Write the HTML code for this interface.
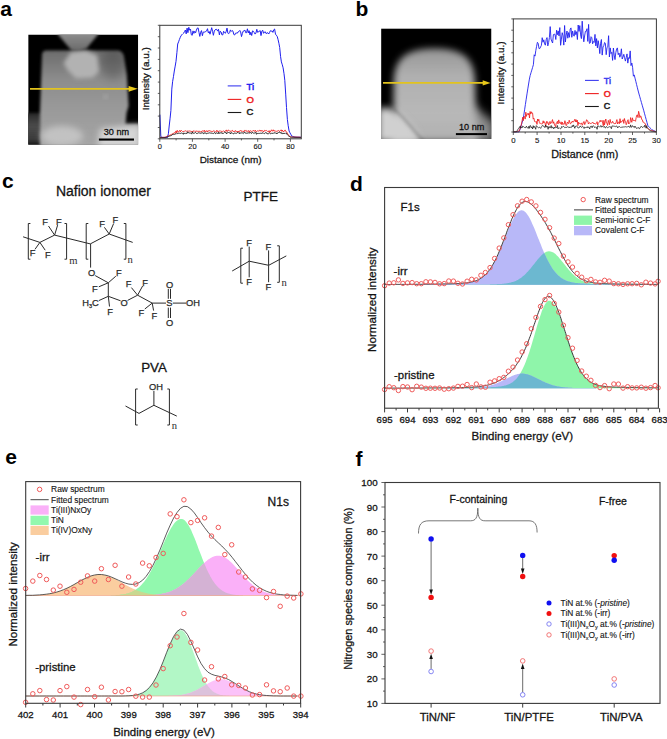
<!DOCTYPE html>
<html><head><meta charset="utf-8"><style>
html,body{margin:0;padding:0;background:#fff;}
body{width:667px;height:739px;overflow:hidden;}
svg{display:block;}
svg text{font-family:"Liberation Sans",sans-serif;}
</style></head><body>
<svg width="667" height="739" viewBox="0 0 667 739">
<rect width="667" height="739" fill="#fff"/>
<text x="0.2" y="16.4" font-size="21" font-weight="bold" fill="#000" >a</text>
<text x="355.6" y="16.0" font-size="21" font-weight="bold" fill="#000" >b</text>
<text x="1.9" y="188.0" font-size="21" font-weight="bold" fill="#000" >c</text>
<text x="350.0" y="190.9" font-size="21" font-weight="bold" fill="#000" >d</text>
<text x="5.2" y="464.0" font-size="21" font-weight="bold" fill="#000" >e</text>
<text x="355.5" y="466.0" font-size="21" font-weight="bold" fill="#000" >f</text>
<defs>
<filter id="bl1" x="-20%" y="-20%" width="140%" height="140%"><feGaussianBlur stdDeviation="1.6"/></filter>
<filter id="bl2" x="-30%" y="-30%" width="160%" height="160%"><feGaussianBlur stdDeviation="3"/></filter>
<filter id="bl3" x="-30%" y="-30%" width="160%" height="160%"><feGaussianBlur stdDeviation="5"/></filter>
<filter id="bl15" x="-30%" y="-30%" width="160%" height="160%"><feGaussianBlur stdDeviation="2.2"/></filter>
<filter id="bl25" x="-30%" y="-30%" width="160%" height="160%"><feGaussianBlur stdDeviation="3.6"/></filter>
<clipPath id="cA"><rect x="28.2" y="34.5" width="110" height="110.2"/></clipPath>
<clipPath id="cB"><rect x="381.1" y="28.4" width="110.4" height="110.7"/></clipPath>
<linearGradient id="gA" x1="0" y1="0" x2="0" y2="1">
 <stop offset="0" stop-color="#6c6c6c"/><stop offset="0.3" stop-color="#8c8c8c"/><stop offset="0.6" stop-color="#999"/><stop offset="1" stop-color="#a6a6a6"/></linearGradient>
<linearGradient id="gAl" x1="0" y1="0" x2="0" y2="1">
 <stop offset="0" stop-color="#2a2a2a"/><stop offset="0.4" stop-color="#4a4a4a"/><stop offset="0.8" stop-color="#3a3a3a"/><stop offset="1" stop-color="#111"/></linearGradient>
<linearGradient id="gAt" x1="0" y1="0" x2="0" y2="1">
 <stop offset="0" stop-color="#959595"/><stop offset="1" stop-color="#6a6a6a"/></linearGradient>
<linearGradient id="gB" x1="0" y1="0" x2="0" y2="1">
 <stop offset="0" stop-color="#959595"/><stop offset="0.3" stop-color="#b0b0b0"/><stop offset="0.7" stop-color="#b8b8b8"/><stop offset="1" stop-color="#b0b0b0"/></linearGradient>
</defs>
<g clip-path="url(#cA)">
<rect x="28.2" y="34.5" width="110" height="110.2" fill="#000"/>
<polygon points="26,113 42,113 42,146 26,146" fill="url(#gAl)" filter="url(#bl1)"/>
<path d="M42,55 Q42,50.5 46.5,50.5 L118,50.5 Q122.5,51 123.8,56 L126.8,75 L128.6,106 L126.5,113 L125.5,124 L140,124 L140,147 L40,147 L40,113 Z" fill="url(#gA)" filter="url(#bl1)"/>
<ellipse cx="113" cy="64" rx="12" ry="16" fill="#000" opacity="0.18" filter="url(#bl3)"/>
<polygon points="56,30 100,30 98,34.5 86.5,48.5 79,50.5 71.5,50.5 58,34.5" fill="url(#gAt)" filter="url(#bl1)"/>
<polygon points="63.5,62.9 70.9,52.2 85.8,50.5 97.3,55.5 99,72 92.4,77.7 75.9,78.6 67.6,70.3" fill="#b2b2b2" filter="url(#bl15)"/>
<ellipse cx="62" cy="136" rx="21" ry="10" fill="#c2c2c2" filter="url(#bl2)"/>
<polygon points="100,129 126,126 140,125 140,147 98,147" fill="#d6d6d6" filter="url(#bl2)"/>
<circle cx="105.6" cy="96.7" r="1.8" fill="#b2b2b2" filter="url(#bl15)"/>
</g>
<rect x="98.9" y="138.5" width="35.1" height="2.1" fill="#000"/>
<text x="103.8" y="135.1" font-size="9.1" fill="#111" stroke="#111" stroke-width="0.28" >30 nm</text>
<line x1="30" y1="88.8" x2="129.5" y2="88.8" stroke="#e2c31e" stroke-width="1.8"/>
<polygon points="128.6,85.9 137.8,88.8 128.6,91.7" fill="#e8c81a"/>
<g clip-path="url(#cB)">
<rect x="381.1" y="28.4" width="110.4" height="110.7" fill="#000"/>
<polygon points="472,104 486,116 494,122 494,142 458,142" fill="#8c8c8c" filter="url(#bl3)"/>
<path d="M393.8,84 C393.8,58 406,48.4 434.5,48.4 C463,48.4 475,58 475,84 L475.5,110 L479,142 L391,142 L393.5,110 Z" fill="url(#gB)" filter="url(#bl25)"/>
<polygon points="378,108 390,108 402,117 414,129 421,142 378,142" fill="#d0d0d0" filter="url(#bl25)"/>
<path d="M394,109 Q404,118 412,128 T424,141" fill="none" stroke="#000" stroke-opacity="0.18" stroke-width="3" filter="url(#bl1)"/>
</g>
<rect x="455.9" y="133.1" width="31.1" height="2.0" fill="#000"/>
<text x="459.0" y="129.6" font-size="9.1" fill="#111" stroke="#111" stroke-width="0.28" >10 nm</text>
<line x1="383" y1="82.9" x2="483.5" y2="82.9" stroke="#e2c31e" stroke-width="1.8"/>
<polygon points="482.7,80.2 490.6,82.9 482.7,85.6" fill="#e8c81a"/>
<polyline points="159.9,114.6 160.8,136.1 161.6,137.4 162.4,137.4 163.3,137.4 164.1,137.4 165.0,137.4 165.8,137.4 166.7,137.4 167.5,137.4 168.4,133.7 169.2,126.0 170.1,118.2 170.9,110.5 171.8,89.1 172.6,81.7 173.5,76.3 174.3,71.0 175.2,66.1 176.0,61.3 176.9,52.7 177.7,44.0 178.6,41.8 179.4,39.5 180.3,37.3 181.1,35.5 182.0,34.7 182.8,33.9 183.7,33.1 184.5,31.5 185.4,30.0 186.2,33.9 187.1,28.1 187.9,32.7 188.8,27.3 189.6,30.2 190.5,29.1 191.3,34.7 192.2,35.3 193.0,30.9 193.9,33.4 194.7,31.3 195.6,32.8 196.4,30.1 197.3,28.1 198.1,27.9 199.0,32.5 199.8,36.4 200.7,32.2 201.5,30.6 202.4,35.7 203.2,32.2 204.1,31.9 204.9,32.2 205.8,31.4 206.6,31.0 207.5,28.7 208.3,32.8 209.2,31.5 210.0,34.2 210.9,30.9 211.7,27.7 212.6,31.5 213.4,35.3 214.3,30.9 215.1,29.9 216.0,29.2 216.8,29.5 217.7,31.1 218.5,29.3 219.4,34.9 220.2,31.2 221.1,32.0 221.9,34.8 222.8,34.9 223.6,31.3 224.5,32.5 225.3,33.3 226.2,31.4 227.0,28.1 227.9,33.2 228.7,33.7 229.6,32.7 230.4,29.9 231.3,31.4 232.1,30.6 233.0,31.2 233.8,34.5 234.7,35.0 235.5,33.2 236.4,33.0 237.2,33.3 238.1,31.8 238.9,31.7 239.8,30.4 240.6,31.7 241.5,36.6 242.3,33.7 243.2,31.1 244.0,30.9 244.9,30.1 245.7,32.7 246.6,32.7 247.4,28.8 248.3,32.9 249.1,30.7 250.0,34.9 250.8,32.2 251.7,35.5 252.5,30.9 253.4,31.3 254.2,32.5 255.1,34.1 255.9,33.1 256.8,29.3 257.6,32.3 258.5,32.0 259.3,31.0 260.2,30.6 261.0,35.6 261.9,31.1 262.7,30.2 263.6,33.3 264.4,32.2 265.3,31.8 266.1,33.6 267.0,33.0 267.8,32.7 268.7,34.0 269.5,32.6 270.4,30.7 271.2,31.2 272.1,30.9 272.9,32.4 273.8,29.7 274.6,29.0 275.5,34.2 276.3,35.2 277.2,36.4 278.0,39.3 278.9,43.3 279.7,47.5 280.6,56.7 281.4,61.9 282.3,64.8 283.1,67.8 284.0,73.7 284.8,80.3 285.7,94.1 286.5,107.6 287.4,119.6 288.2,125.7 289.1,131.0 289.9,132.7 290.8,134.3 291.6,135.9 292.5,136.3 293.3,136.6 294.2,136.9 295.0,137.2 295.9,137.2 296.7,137.2 297.6,137.2 298.4,137.2 299.3,137.2 300.1,137.2 301.0,137.2" fill="none" stroke="#2020ee" stroke-width="1.0" stroke-linejoin="round" />
<polyline points="159.9,137.4 160.5,137.4 161.1,137.4 161.7,137.4 162.3,137.4 162.9,137.4 163.5,137.4 164.1,137.4 164.7,137.3 165.3,137.1 165.9,136.8 166.5,136.6 167.1,136.4 167.7,136.1 168.3,135.9 168.9,135.6 169.5,135.4 170.1,135.1 170.7,134.8 171.3,134.5 171.9,134.2 172.5,133.8 173.1,134.2 173.7,133.4 174.3,132.6 174.9,133.2 175.5,131.9 176.1,130.9 176.7,132.9 177.3,130.4 177.9,131.6 178.5,131.8 179.1,131.4 179.7,130.4 180.3,131.9 180.9,130.5 181.5,130.5 182.1,131.1 182.7,131.7 183.3,131.4 183.9,131.7 184.5,131.0 185.1,131.2 185.7,130.7 186.3,131.1 186.9,131.6 187.5,131.1 188.1,131.5 188.7,131.0 189.3,130.9 189.9,131.3 190.5,131.2 191.1,131.6 191.7,131.4 192.3,132.2 192.9,131.1 193.5,131.1 194.1,130.7 194.7,131.3 195.3,131.6 195.9,130.8 196.5,131.2 197.1,131.6 197.7,131.2 198.3,131.0 198.9,131.8 199.5,131.3 200.1,131.5 200.7,131.9 201.3,131.9 201.9,131.0 202.5,130.9 203.1,131.4 203.7,131.2 204.3,130.2 204.9,131.9 205.5,131.2 206.1,131.6 206.7,130.6 207.3,131.9 207.9,130.9 208.5,131.2 209.1,130.4 209.7,131.1 210.3,131.1 210.9,131.1 211.5,131.4 212.1,131.2 212.7,131.7 213.3,130.9 213.9,130.7 214.5,131.2 215.1,131.5 215.7,131.9 216.3,131.6 216.9,130.2 217.5,131.4 218.1,132.0 218.7,131.2 219.3,130.9 219.9,131.4 220.5,130.9 221.1,131.5 221.7,131.2 222.3,131.9 222.9,131.4 223.5,130.8 224.1,131.5 224.7,131.7 225.3,130.9 225.9,130.9 226.5,129.9 227.1,131.7 227.7,130.8 228.3,130.0 228.9,130.2 229.5,131.0 230.1,131.6 230.7,131.1 231.3,131.4 231.9,130.5 232.5,130.4 233.1,131.6 233.7,131.4 234.3,131.1 234.9,131.8 235.5,130.6 236.1,130.9 236.7,131.7 237.3,132.1 237.9,131.1 238.5,132.1 239.1,130.8 239.7,131.3 240.3,131.0 240.9,130.3 241.5,131.3 242.1,131.6 242.7,131.0 243.3,131.1 243.9,131.9 244.5,130.4 245.1,130.3 245.7,130.8 246.3,130.5 246.9,131.8 247.5,131.3 248.1,130.6 248.7,130.8 249.3,132.5 249.9,130.8 250.5,130.7 251.1,131.3 251.7,131.4 252.3,131.2 252.9,130.6 253.5,130.5 254.1,131.4 254.7,131.1 255.3,130.2 255.9,131.7 256.5,131.5 257.1,130.9 257.7,130.9 258.3,131.2 258.9,130.7 259.5,130.3 260.1,131.2 260.7,130.3 261.3,131.3 261.9,130.3 262.5,131.0 263.1,131.0 263.7,132.0 264.3,130.5 264.9,130.3 265.5,130.7 266.1,130.4 266.7,130.7 267.3,131.3 267.9,131.5 268.5,132.0 269.1,130.6 269.7,132.4 270.3,132.1 270.9,130.9 271.5,129.8 272.1,131.0 272.7,131.1 273.3,129.8 273.9,131.1 274.5,130.9 275.1,130.6 275.7,131.4 276.3,131.6 276.9,130.8 277.5,131.1 278.1,130.7 278.7,130.6 279.3,131.1 279.9,131.3 280.5,130.7 281.1,129.8 281.7,131.3 282.3,130.1 282.9,131.1 283.5,132.0 284.1,131.0 284.7,130.3 285.3,130.2 285.9,131.6 286.5,131.8 287.1,132.8 287.7,133.8 288.3,134.6 288.9,135.4 289.5,136.2 290.1,136.9 290.7,136.9 291.3,136.9 291.9,137.0 292.5,137.0 293.1,137.0 293.7,137.0 294.3,137.1 294.9,137.1 295.5,137.1 296.1,137.1 296.7,137.1 297.3,137.2 297.9,137.2 298.5,137.2 299.1,137.2 299.7,137.2 300.3,137.3 300.9,137.3" fill="none" stroke="#ee1c1c" stroke-width="0.9" stroke-linejoin="round" />
<polyline points="159.9,137.6 160.5,137.6 161.1,137.6 161.7,137.6 162.3,137.6 162.9,137.6 163.5,137.6 164.1,137.6 164.7,137.6 165.3,137.6 165.9,137.5 166.5,137.2 167.1,137.0 167.7,136.8 168.3,136.6 168.9,136.4 169.5,136.1 170.1,135.9 170.7,135.7 171.3,135.5 171.9,135.3 172.5,134.5 173.1,134.7 173.7,133.9 174.3,134.5 174.9,133.9 175.5,133.9 176.1,133.5 176.7,134.1 177.3,133.4 177.9,133.5 178.5,133.4 179.1,132.8 179.7,133.5 180.3,133.4 180.9,133.4 181.5,133.0 182.1,133.0 182.7,133.6 183.3,134.3 183.9,132.8 184.5,133.5 185.1,133.0 185.7,133.6 186.3,133.4 186.9,133.7 187.5,131.8 188.1,132.9 188.7,132.7 189.3,133.1 189.9,132.8 190.5,132.9 191.1,133.5 191.7,134.1 192.3,131.8 192.9,133.0 193.5,133.3 194.1,133.2 194.7,133.0 195.3,132.5 195.9,132.7 196.5,133.5 197.1,133.7 197.7,133.2 198.3,132.7 198.9,133.2 199.5,133.0 200.1,133.4 200.7,133.2 201.3,132.8 201.9,133.3 202.5,132.6 203.1,133.6 203.7,133.7 204.3,132.6 204.9,133.4 205.5,132.7 206.1,133.7 206.7,133.6 207.3,133.0 207.9,133.6 208.5,132.9 209.1,132.8 209.7,132.9 210.3,133.1 210.9,133.0 211.5,133.2 212.1,132.8 212.7,133.5 213.3,133.6 213.9,132.9 214.5,132.4 215.1,133.5 215.7,133.7 216.3,133.0 216.9,132.5 217.5,133.3 218.1,133.9 218.7,132.2 219.3,133.4 219.9,133.0 220.5,132.7 221.1,133.4 221.7,132.5 222.3,133.3 222.9,133.8 223.5,133.2 224.1,132.7 224.7,132.2 225.3,132.5 225.9,132.2 226.5,133.9 227.1,133.0 227.7,132.6 228.3,132.5 228.9,132.6 229.5,132.9 230.1,132.5 230.7,133.9 231.3,132.7 231.9,132.7 232.5,133.3 233.1,133.8 233.7,133.8 234.3,132.9 234.9,133.2 235.5,133.2 236.1,133.4 236.7,133.2 237.3,132.6 237.9,132.5 238.5,133.2 239.1,132.5 239.7,133.8 240.3,133.1 240.9,132.6 241.5,132.9 242.1,132.8 242.7,133.0 243.3,133.6 243.9,132.4 244.5,132.1 245.1,133.2 245.7,133.0 246.3,133.2 246.9,133.3 247.5,133.0 248.1,133.5 248.7,132.6 249.3,133.1 249.9,132.7 250.5,132.5 251.1,133.4 251.7,133.3 252.3,132.1 252.9,132.5 253.5,133.2 254.1,133.6 254.7,132.7 255.3,133.0 255.9,132.3 256.5,134.3 257.1,133.3 257.7,133.5 258.3,133.4 258.9,133.5 259.5,133.4 260.1,132.9 260.7,133.4 261.3,133.1 261.9,133.7 262.5,132.7 263.1,132.8 263.7,133.4 264.3,133.7 264.9,133.1 265.5,132.7 266.1,133.0 266.7,132.8 267.3,134.0 267.9,133.5 268.5,133.7 269.1,133.2 269.7,132.8 270.3,133.6 270.9,133.9 271.5,133.3 272.1,133.0 272.7,133.6 273.3,132.8 273.9,133.4 274.5,132.7 275.1,132.5 275.7,133.3 276.3,133.2 276.9,134.0 277.5,132.9 278.1,133.0 278.7,132.4 279.3,132.1 279.9,132.1 280.5,133.2 281.1,132.4 281.7,133.6 282.3,133.7 282.9,132.9 283.5,133.8 284.1,133.1 284.7,133.6 285.3,132.9 285.9,133.5 286.5,133.2 287.1,134.4 287.7,135.1 288.3,135.7 288.9,136.1 289.5,136.5 290.1,136.9 290.7,137.2 291.3,137.2 291.9,137.2 292.5,137.3 293.1,137.3 293.7,137.3 294.3,137.3 294.9,137.3 295.5,137.3 296.1,137.4 296.7,137.4 297.3,137.4 297.9,137.4 298.5,137.4 299.1,137.4 299.7,137.5 300.3,137.5 300.9,137.5" fill="none" stroke="#1a1a1a" stroke-width="0.9" stroke-linejoin="round" />
<rect x="159.8" y="25.3" width="141.5" height="113.5" stroke="#3a3a3a" stroke-width="1" fill="none"/>
<line x1="157.8" y1="25.3" x2="159.8" y2="25.3" stroke="#3a3a3a" stroke-width="0.8"/>
<line x1="157.8" y1="36.7" x2="159.8" y2="36.7" stroke="#3a3a3a" stroke-width="0.8"/>
<line x1="157.8" y1="48.0" x2="159.8" y2="48.0" stroke="#3a3a3a" stroke-width="0.8"/>
<line x1="157.8" y1="59.4" x2="159.8" y2="59.4" stroke="#3a3a3a" stroke-width="0.8"/>
<line x1="157.8" y1="70.7" x2="159.8" y2="70.7" stroke="#3a3a3a" stroke-width="0.8"/>
<line x1="157.8" y1="82.1" x2="159.8" y2="82.1" stroke="#3a3a3a" stroke-width="0.8"/>
<line x1="157.8" y1="93.4" x2="159.8" y2="93.4" stroke="#3a3a3a" stroke-width="0.8"/>
<line x1="157.8" y1="104.8" x2="159.8" y2="104.8" stroke="#3a3a3a" stroke-width="0.8"/>
<line x1="157.8" y1="116.1" x2="159.8" y2="116.1" stroke="#3a3a3a" stroke-width="0.8"/>
<line x1="157.8" y1="127.5" x2="159.8" y2="127.5" stroke="#3a3a3a" stroke-width="0.8"/>
<line x1="157.8" y1="138.8" x2="159.8" y2="138.8" stroke="#3a3a3a" stroke-width="0.8"/>
<line x1="159.8" y1="138.8" x2="159.8" y2="141.8" stroke="#3a3a3a" stroke-width="0.8"/>
<line x1="176.1" y1="138.8" x2="176.1" y2="140.4" stroke="#3a3a3a" stroke-width="0.8"/>
<line x1="192.4" y1="138.8" x2="192.4" y2="141.8" stroke="#3a3a3a" stroke-width="0.8"/>
<line x1="208.8" y1="138.8" x2="208.8" y2="140.4" stroke="#3a3a3a" stroke-width="0.8"/>
<line x1="225.1" y1="138.8" x2="225.1" y2="141.8" stroke="#3a3a3a" stroke-width="0.8"/>
<line x1="241.4" y1="138.8" x2="241.4" y2="140.4" stroke="#3a3a3a" stroke-width="0.8"/>
<line x1="257.7" y1="138.8" x2="257.7" y2="141.8" stroke="#3a3a3a" stroke-width="0.8"/>
<line x1="274.0" y1="138.8" x2="274.0" y2="140.4" stroke="#3a3a3a" stroke-width="0.8"/>
<line x1="290.4" y1="138.8" x2="290.4" y2="141.8" stroke="#3a3a3a" stroke-width="0.8"/>
<text x="159.8" y="149.3" font-size="7.5" text-anchor="middle" fill="#141414" stroke="#141414" stroke-width="0.12" >0</text>
<text x="192.4" y="149.3" font-size="7.5" text-anchor="middle" fill="#141414" stroke="#141414" stroke-width="0.12" >20</text>
<text x="225.1" y="149.3" font-size="7.5" text-anchor="middle" fill="#141414" stroke="#141414" stroke-width="0.12" >40</text>
<text x="257.7" y="149.3" font-size="7.5" text-anchor="middle" fill="#141414" stroke="#141414" stroke-width="0.12" >60</text>
<text x="290.4" y="149.3" font-size="7.5" text-anchor="middle" fill="#141414" stroke="#141414" stroke-width="0.12" >80</text>
<text x="230.6" y="163.3" font-size="9.95" text-anchor="middle" fill="#141414" stroke="#141414" stroke-width="0.28" >Distance (nm)</text>
<text transform="translate(149.0,78.7) rotate(-90)" font-size="9.95" text-anchor="middle" fill="#141414" stroke="#141414" stroke-width="0.28">Intensity (a.u.)</text>
<line x1="227.7" y1="85.9" x2="241.3" y2="85.9" stroke="#3c3cf0" stroke-width="1.1"/>
<text x="246.6" y="90.0" font-size="9.5" fill="#1e1ef0" stroke="#1e1ef0" stroke-width="0.5" >Ti</text>
<line x1="227.7" y1="99.4" x2="241.3" y2="99.4" stroke="#ee2020" stroke-width="1.1"/>
<text x="246.6" y="102.7" font-size="9.5" fill="#ee1c1c" stroke="#ee1c1c" stroke-width="0.5" >O</text>
<line x1="227.7" y1="112.5" x2="241.3" y2="112.5" stroke="#1a1a1a" stroke-width="1.1"/>
<text x="246.6" y="114.7" font-size="9.5" fill="#1a1a1a" stroke="#1a1a1a" stroke-width="0.5" >C</text>
<polyline points="513.4,131.9 514.2,131.9 515.0,131.9 515.8,131.9 516.6,131.9 517.4,131.9 518.2,131.9 519.0,131.9 519.8,130.0 520.6,127.4 521.4,124.9 522.2,122.3 523.0,119.7 523.8,115.1 524.6,109.8 525.4,104.5 526.2,99.2 527.0,93.9 527.8,88.9 528.6,84.0 529.4,79.1 530.2,75.4 531.0,72.7 531.8,70.1 532.6,67.4 533.4,64.7 534.2,54.8 535.0,56.1 535.8,50.5 536.6,46.3 537.4,42.3 538.2,43.4 539.0,48.6 539.8,48.5 540.6,46.9 541.4,45.3 542.2,37.7 543.0,42.2 543.8,39.8 544.6,43.9 545.4,45.2 546.2,39.6 547.0,37.6 547.8,45.9 548.6,42.5 549.4,37.6 550.2,26.6 551.0,39.0 551.8,41.4 552.6,43.0 553.4,34.6 554.2,34.2 555.0,34.5 555.8,39.5 556.6,30.2 557.4,34.7 558.2,30.9 559.0,35.9 559.8,27.6 560.6,45.3 561.4,39.1 562.2,32.7 563.0,35.8 563.8,45.1 564.6,25.5 565.4,42.0 566.2,35.0 567.0,31.0 567.8,38.2 568.6,32.6 569.4,37.3 570.2,29.0 571.0,27.9 571.8,37.3 572.6,31.0 573.4,35.0 574.2,36.2 575.0,30.4 575.8,34.7 576.6,31.7 577.4,39.5 578.2,25.0 579.0,31.4 579.8,25.6 580.6,34.9 581.4,38.6 582.2,21.2 583.0,33.8 583.8,41.8 584.6,36.0 585.4,31.3 586.2,31.4 587.0,28.7 587.8,41.4 588.6,24.4 589.4,43.4 590.2,43.0 591.0,36.7 591.8,37.7 592.6,43.8 593.4,41.5 594.2,42.4 595.0,34.4 595.8,45.9 596.6,38.6 597.4,47.9 598.2,40.7 599.0,45.7 599.8,53.6 600.6,43.2 601.4,39.5 602.2,55.1 603.0,47.0 603.8,45.6 604.6,42.5 605.4,43.3 606.2,54.7 607.0,47.5 607.8,46.8 608.6,35.7 609.4,57.0 610.2,47.9 611.0,53.6 611.8,52.3 612.6,60.4 613.4,48.0 614.2,55.1 615.0,59.6 615.8,52.6 616.6,49.1 617.4,47.9 618.2,54.7 619.0,53.0 619.8,57.2 620.6,55.0 621.4,48.8 622.2,59.0 623.0,57.0 623.8,54.3 624.6,57.7 625.4,61.1 626.2,57.6 627.0,53.9 627.8,63.1 628.6,57.7 629.4,58.4 630.2,50.9 631.0,65.6 631.8,63.0 632.6,67.3 633.4,76.2 634.2,74.9 635.0,78.1 635.8,81.3 636.6,84.6 637.4,87.8 638.2,91.0 639.0,94.0 639.8,96.8 640.6,99.6 641.4,102.4 642.2,105.2 643.0,108.0 643.8,110.8 644.6,113.8 645.4,116.7 646.2,119.6 647.0,122.5 647.8,125.4 648.6,126.5 649.4,127.3 650.2,128.0 651.0,128.8 651.8,129.6 652.6,130.0 653.4,130.4 654.2,130.8 655.0,131.2 655.8,131.6" fill="none" stroke="#2020ee" stroke-width="0.9" stroke-linejoin="round" />
<polyline points="513.4,131.9 514.0,131.8 514.6,131.7 515.3,131.6 515.9,131.6 516.5,131.5 517.1,131.4 517.7,131.3 518.4,131.2 519.0,131.1 519.6,129.9 520.2,128.0 520.8,126.2 521.5,123.9 522.1,120.7 522.7,117.2 523.3,120.6 523.9,116.6 524.6,116.6 525.2,119.1 525.8,112.2 526.4,116.4 527.0,114.2 527.7,113.6 528.3,114.9 528.9,113.2 529.5,118.0 530.1,111.5 530.8,114.0 531.4,111.8 532.0,113.2 532.6,113.2 533.2,119.1 533.9,118.2 534.5,121.2 535.1,122.0 535.7,122.0 536.3,121.4 537.0,124.4 537.6,119.0 538.2,121.0 538.8,119.3 539.4,122.6 540.1,123.7 540.7,123.1 541.3,123.7 541.9,123.9 542.5,123.5 543.2,120.8 543.8,123.1 544.4,121.8 545.0,122.4 545.6,126.3 546.3,123.1 546.9,121.2 547.5,123.3 548.1,122.6 548.7,125.1 549.4,123.5 550.0,121.4 550.6,123.7 551.2,122.9 551.8,121.7 552.5,119.6 553.1,123.3 553.7,121.8 554.3,124.1 554.9,125.6 555.6,126.8 556.2,123.1 556.8,122.8 557.4,121.3 558.0,124.0 558.7,119.9 559.3,121.8 559.9,123.3 560.5,123.7 561.1,121.8 561.8,124.6 562.4,122.2 563.0,124.5 563.6,123.8 564.2,124.3 564.9,120.7 565.5,123.0 566.1,125.7 566.7,125.2 567.3,122.1 568.0,123.2 568.6,123.5 569.2,120.2 569.8,122.1 570.4,123.8 571.1,123.3 571.7,122.1 572.3,121.1 572.9,122.3 573.5,121.8 574.2,120.7 574.8,119.3 575.4,121.8 576.0,119.6 576.6,122.1 577.3,120.2 577.9,125.6 578.5,122.2 579.1,123.8 579.7,123.2 580.4,123.8 581.0,123.8 581.6,122.9 582.2,125.3 582.8,124.2 583.5,121.9 584.1,121.4 584.7,124.6 585.3,123.4 585.9,122.1 586.6,119.7 587.2,121.0 587.8,120.9 588.4,124.0 589.0,122.9 589.7,122.8 590.3,123.3 590.9,123.7 591.5,123.0 592.1,123.1 592.8,122.2 593.4,123.0 594.0,124.0 594.6,123.4 595.2,124.1 595.9,123.9 596.5,123.2 597.1,121.7 597.7,125.0 598.3,123.2 599.0,122.4 599.6,121.3 600.2,120.2 600.8,121.9 601.4,121.0 602.1,120.3 602.7,123.1 603.3,125.8 603.9,120.3 604.5,124.9 605.2,121.5 605.8,119.0 606.4,122.8 607.0,123.2 607.6,125.4 608.3,120.4 608.9,122.2 609.5,124.7 610.1,119.4 610.7,122.2 611.4,123.1 612.0,123.0 612.6,121.3 613.2,122.3 613.8,123.5 614.5,123.7 615.1,123.0 615.7,123.7 616.3,121.6 616.9,119.6 617.6,124.0 618.2,122.6 618.8,121.8 619.4,123.7 620.0,118.7 620.7,122.8 621.3,121.1 621.9,121.7 622.5,121.1 623.1,119.7 623.8,123.4 624.4,118.5 625.0,121.0 625.6,121.5 626.2,124.7 626.9,123.1 627.5,120.5 628.1,119.7 628.7,124.0 629.3,123.1 630.0,122.7 630.6,117.6 631.2,120.3 631.8,122.3 632.4,117.8 633.1,120.8 633.7,120.3 634.3,120.5 634.9,120.6 635.5,121.3 636.2,117.4 636.8,115.1 637.4,114.9 638.0,117.6 638.6,111.3 639.3,114.1 639.9,117.6 640.5,115.8 641.1,116.7 641.7,119.5 642.4,119.8 643.0,122.3 643.6,122.1 644.2,122.7 644.8,123.7 645.5,123.9 646.1,126.6 646.7,127.8 647.3,127.8 647.9,128.4 648.6,129.1 649.2,129.7 649.8,129.9 650.4,130.1 651.0,130.3 651.7,130.5 652.3,130.6 652.9,130.8 653.5,131.0 654.1,131.2 654.8,131.4 655.4,131.6 656.0,131.8" fill="none" stroke="#ee1c1c" stroke-width="0.85" stroke-linejoin="round" />
<polyline points="513.4,131.9 514.0,131.9 514.6,131.9 515.3,131.9 515.9,131.9 516.5,131.9 517.1,130.8 517.7,129.7 518.4,128.6 519.0,127.5 519.6,127.4 520.2,126.1 520.8,128.2 521.5,126.9 522.1,127.8 522.7,126.1 523.3,126.5 523.9,126.9 524.6,127.5 525.2,127.5 525.8,127.9 526.4,126.2 527.0,127.3 527.7,127.9 528.3,128.4 528.9,126.2 529.5,128.3 530.1,125.4 530.8,126.0 531.4,128.0 532.0,127.2 532.6,129.0 533.2,125.7 533.9,127.7 534.5,126.5 535.1,127.5 535.7,129.3 536.3,125.6 537.0,126.4 537.6,127.2 538.2,127.5 538.8,127.8 539.4,127.3 540.1,127.6 540.7,128.4 541.3,127.1 541.9,126.3 542.5,125.3 543.2,125.9 543.8,126.1 544.4,127.1 545.0,127.7 545.6,125.0 546.3,127.2 546.9,126.1 547.5,126.5 548.1,129.3 548.7,126.7 549.4,126.7 550.0,128.1 550.6,126.9 551.2,125.5 551.8,128.2 552.5,127.0 553.1,127.3 553.7,128.8 554.3,127.2 554.9,128.1 555.6,127.5 556.2,127.3 556.8,127.7 557.4,125.5 558.0,128.8 558.7,128.0 559.3,127.8 559.9,128.4 560.5,128.9 561.1,128.2 561.8,126.4 562.4,127.3 563.0,126.6 563.6,126.3 564.2,127.0 564.9,127.8 565.5,127.4 566.1,127.2 566.7,127.5 567.3,126.9 568.0,126.5 568.6,127.5 569.2,127.0 569.8,127.8 570.4,127.1 571.1,127.6 571.7,127.2 572.3,125.5 572.9,126.8 573.5,124.9 574.2,126.7 574.8,128.3 575.4,126.4 576.0,126.3 576.6,125.7 577.3,127.0 577.9,127.8 578.5,128.1 579.1,127.2 579.7,127.2 580.4,125.9 581.0,126.9 581.6,127.5 582.2,126.8 582.8,126.4 583.5,127.4 584.1,128.5 584.7,127.1 585.3,127.5 585.9,127.5 586.6,127.1 587.2,127.9 587.8,126.6 588.4,127.3 589.0,127.3 589.7,129.0 590.3,126.5 590.9,126.4 591.5,126.2 592.1,127.8 592.8,126.0 593.4,125.7 594.0,126.5 594.6,127.6 595.2,127.0 595.9,127.2 596.5,127.3 597.1,129.3 597.7,125.8 598.3,126.0 599.0,126.5 599.6,127.2 600.2,126.4 600.8,125.5 601.4,127.2 602.1,126.1 602.7,126.7 603.3,126.9 603.9,126.8 604.5,126.4 605.2,128.1 605.8,127.6 606.4,126.5 607.0,127.1 607.6,127.8 608.3,127.3 608.9,127.0 609.5,126.7 610.1,127.1 610.7,126.8 611.4,128.7 612.0,125.9 612.6,126.0 613.2,126.0 613.8,126.3 614.5,126.3 615.1,126.1 615.7,126.7 616.3,126.1 616.9,126.2 617.6,127.8 618.2,126.6 618.8,127.2 619.4,126.6 620.0,126.8 620.7,127.5 621.3,127.5 621.9,126.7 622.5,127.2 623.1,127.1 623.8,126.9 624.4,126.9 625.0,127.0 625.6,126.7 626.2,127.2 626.9,126.6 627.5,127.0 628.1,126.3 628.7,126.3 629.3,127.1 630.0,127.4 630.6,124.9 631.2,127.3 631.8,127.1 632.4,125.7 633.1,126.2 633.7,127.2 634.3,127.6 634.9,126.0 635.5,126.9 636.2,128.1 636.8,128.6 637.4,127.9 638.0,127.9 638.6,127.6 639.3,128.8 639.9,128.3 640.5,126.8 641.1,126.7 641.7,126.5 642.4,127.4 643.0,127.3 643.6,126.7 644.2,127.2 644.8,125.1 645.5,126.4 646.1,128.2 646.7,125.7 647.3,127.8 647.9,128.4 648.6,129.1 649.2,129.7 649.8,130.3 650.4,130.9 651.0,131.2 651.7,131.2 652.3,131.3 652.9,131.4 653.5,131.5 654.1,131.6 654.8,131.7 655.4,131.8 656.0,131.8" fill="none" stroke="#1a1a1a" stroke-width="0.75" stroke-linejoin="round" />
<rect x="513.3" y="18.9" width="143.1" height="113.1" stroke="#3a3a3a" stroke-width="1" fill="none"/>
<line x1="511.3" y1="18.9" x2="513.3" y2="18.9" stroke="#3a3a3a" stroke-width="0.8"/>
<line x1="511.3" y1="30.2" x2="513.3" y2="30.2" stroke="#3a3a3a" stroke-width="0.8"/>
<line x1="511.3" y1="41.5" x2="513.3" y2="41.5" stroke="#3a3a3a" stroke-width="0.8"/>
<line x1="511.3" y1="52.8" x2="513.3" y2="52.8" stroke="#3a3a3a" stroke-width="0.8"/>
<line x1="511.3" y1="64.1" x2="513.3" y2="64.1" stroke="#3a3a3a" stroke-width="0.8"/>
<line x1="511.3" y1="75.4" x2="513.3" y2="75.4" stroke="#3a3a3a" stroke-width="0.8"/>
<line x1="511.3" y1="86.8" x2="513.3" y2="86.8" stroke="#3a3a3a" stroke-width="0.8"/>
<line x1="511.3" y1="98.1" x2="513.3" y2="98.1" stroke="#3a3a3a" stroke-width="0.8"/>
<line x1="511.3" y1="109.4" x2="513.3" y2="109.4" stroke="#3a3a3a" stroke-width="0.8"/>
<line x1="511.3" y1="120.7" x2="513.3" y2="120.7" stroke="#3a3a3a" stroke-width="0.8"/>
<line x1="511.3" y1="132.0" x2="513.3" y2="132.0" stroke="#3a3a3a" stroke-width="0.8"/>
<line x1="513.3" y1="132.0" x2="513.3" y2="135.0" stroke="#3a3a3a" stroke-width="0.8"/>
<line x1="525.2" y1="132.0" x2="525.2" y2="133.6" stroke="#3a3a3a" stroke-width="0.8"/>
<line x1="537.1" y1="132.0" x2="537.1" y2="135.0" stroke="#3a3a3a" stroke-width="0.8"/>
<line x1="549.1" y1="132.0" x2="549.1" y2="133.6" stroke="#3a3a3a" stroke-width="0.8"/>
<line x1="561.0" y1="132.0" x2="561.0" y2="135.0" stroke="#3a3a3a" stroke-width="0.8"/>
<line x1="572.9" y1="132.0" x2="572.9" y2="133.6" stroke="#3a3a3a" stroke-width="0.8"/>
<line x1="584.8" y1="132.0" x2="584.8" y2="135.0" stroke="#3a3a3a" stroke-width="0.8"/>
<line x1="596.8" y1="132.0" x2="596.8" y2="133.6" stroke="#3a3a3a" stroke-width="0.8"/>
<line x1="608.7" y1="132.0" x2="608.7" y2="135.0" stroke="#3a3a3a" stroke-width="0.8"/>
<line x1="620.6" y1="132.0" x2="620.6" y2="133.6" stroke="#3a3a3a" stroke-width="0.8"/>
<line x1="632.5" y1="132.0" x2="632.5" y2="135.0" stroke="#3a3a3a" stroke-width="0.8"/>
<line x1="644.5" y1="132.0" x2="644.5" y2="133.6" stroke="#3a3a3a" stroke-width="0.8"/>
<line x1="656.4" y1="132.0" x2="656.4" y2="135.0" stroke="#3a3a3a" stroke-width="0.8"/>
<text x="513.3" y="143.3" font-size="7.8" text-anchor="middle" fill="#141414" stroke="#141414" stroke-width="0.12" >0</text>
<text x="537.1" y="143.3" font-size="7.8" text-anchor="middle" fill="#141414" stroke="#141414" stroke-width="0.12" >5</text>
<text x="561.0" y="143.3" font-size="7.8" text-anchor="middle" fill="#141414" stroke="#141414" stroke-width="0.12" >10</text>
<text x="584.8" y="143.3" font-size="7.8" text-anchor="middle" fill="#141414" stroke="#141414" stroke-width="0.12" >15</text>
<text x="608.7" y="143.3" font-size="7.8" text-anchor="middle" fill="#141414" stroke="#141414" stroke-width="0.12" >20</text>
<text x="632.5" y="143.3" font-size="7.8" text-anchor="middle" fill="#141414" stroke="#141414" stroke-width="0.12" >25</text>
<text x="656.4" y="143.3" font-size="7.8" text-anchor="middle" fill="#141414" stroke="#141414" stroke-width="0.12" >30</text>
<text x="584.8" y="158.3" font-size="10.8" text-anchor="middle" fill="#141414" stroke="#141414" stroke-width="0.28" >Distance (nm)</text>
<text transform="translate(503.7,72.9) rotate(-90)" font-size="9.95" text-anchor="middle" fill="#141414" stroke="#141414" stroke-width="0.28">Intensity (a.u.)</text>
<line x1="585.0" y1="80.4" x2="598.8" y2="80.4" stroke="#3c3cf0" stroke-width="1.1"/>
<text x="603.8" y="83.6" font-size="9.0" fill="#3c3cf0" stroke="#3c3cf0" stroke-width="0.5" >Ti</text>
<line x1="585.0" y1="93.6" x2="598.8" y2="93.6" stroke="#ee2020" stroke-width="1.1"/>
<text x="603.8" y="97.0" font-size="9.0" fill="#ee2020" stroke="#ee2020" stroke-width="0.5" >O</text>
<line x1="585.0" y1="106.5" x2="598.8" y2="106.5" stroke="#1a1a1a" stroke-width="1.1"/>
<text x="603.8" y="109.1" font-size="9.0" fill="#1a1a1a" stroke="#1a1a1a" stroke-width="0.5" >C</text>
<text x="55.9" y="196.4" font-size="14.0" fill="#141414" stroke="#141414" stroke-width="0.28" >Nafion ionomer</text>
<text x="243.4" y="201.2" font-size="13.5" fill="#141414" stroke="#141414" stroke-width="0.28" >PTFE</text>
<text x="141.2" y="371.9" font-size="13.4" fill="#141414" stroke="#141414" stroke-width="0.28" >PVA</text>
<polyline points="23.1,236.8 39.9,242.4 54.6,235.1 90.3,243.9 109.2,234.0 132.7,242.4" fill="none" stroke="#2a2a2a" stroke-width="1.0"/>
<polyline points="39.9,242.4 35.0,249.3" fill="none" stroke="#2a2a2a" stroke-width="1.0"/>
<polyline points="39.9,242.4 45.2,250.2" fill="none" stroke="#2a2a2a" stroke-width="1.0"/>
<text x="32.5" y="256.3" font-size="9.3" text-anchor="middle" fill="#2a2a2a" stroke="#2a2a2a" stroke-width="0.25">F</text>
<text x="47.9" y="257.5" font-size="9.3" text-anchor="middle" fill="#2a2a2a" stroke="#2a2a2a" stroke-width="0.25">F</text>
<polyline points="54.6,235.1 48.5,226.0" fill="none" stroke="#2a2a2a" stroke-width="1.0"/>
<polyline points="54.6,235.1 57.6,225.2" fill="none" stroke="#2a2a2a" stroke-width="1.0"/>
<text x="45.1" y="224.9" font-size="9.3" text-anchor="middle" fill="#2a2a2a" stroke="#2a2a2a" stroke-width="0.25">F</text>
<text x="58.8" y="224.5" font-size="9.3" text-anchor="middle" fill="#2a2a2a" stroke="#2a2a2a" stroke-width="0.25">F</text>
<polyline points="109.2,234.0 104.4,227.3" fill="none" stroke="#2a2a2a" stroke-width="1.0"/>
<polyline points="109.2,234.0 113.6,223.6" fill="none" stroke="#2a2a2a" stroke-width="1.0"/>
<text x="102.2" y="226.9" font-size="9.3" text-anchor="middle" fill="#2a2a2a" stroke="#2a2a2a" stroke-width="0.25">F</text>
<text x="115.4" y="222.8" font-size="9.3" text-anchor="middle" fill="#2a2a2a" stroke="#2a2a2a" stroke-width="0.25">F</text>
<polyline points="30.4,223.5 28.3,223.5 28.3,259.2 30.4,259.2" fill="none" stroke="#2a2a2a" stroke-width="1.0"/>
<polyline points="64.5,223.5 66.6,223.5 66.6,259.2 64.5,259.2" fill="none" stroke="#2a2a2a" stroke-width="1.0"/>
<text x="69.2" y="263.6" font-size="10.6" style="font-family:Liberation Serif,serif" fill="#2a2a2a">m</text>
<polyline points="88.3,223.5 86.2,223.5 86.2,259.2 88.3,259.2" fill="none" stroke="#2a2a2a" stroke-width="1.0"/>
<polyline points="123.8,223.5 125.9,223.5 125.9,259.2 123.8,259.2" fill="none" stroke="#2a2a2a" stroke-width="1.0"/>
<text x="127.6" y="263.0" font-size="10.6" style="font-family:Liberation Serif,serif" fill="#2a2a2a">n</text>
<polyline points="90.6,243.9 90.6,267.6" fill="none" stroke="#2a2a2a" stroke-width="1.0"/>
<text x="91.5" y="275.5" font-size="9.3" text-anchor="middle" fill="#2a2a2a" stroke="#2a2a2a" stroke-width="0.25">O</text>
<polyline points="95.2,275.6 108.3,282.8" fill="none" stroke="#2a2a2a" stroke-width="1.0"/>
<polyline points="108.3,282.8 115.8,276.2" fill="none" stroke="#2a2a2a" stroke-width="1.0"/>
<text x="118.9" y="275.7" font-size="9.3" text-anchor="middle" fill="#2a2a2a" stroke="#2a2a2a" stroke-width="0.25">F</text>
<polyline points="108.3,282.8 98.8,286.8" fill="none" stroke="#2a2a2a" stroke-width="1.0"/>
<text x="94.9" y="292.3" font-size="9.3" text-anchor="middle" fill="#2a2a2a" stroke="#2a2a2a" stroke-width="0.25">F</text>
<polyline points="108.3,282.8 108.3,296.3" fill="none" stroke="#2a2a2a" stroke-width="1.0"/>
<polyline points="108.3,296.3 98.8,300.6" fill="none" stroke="#2a2a2a" stroke-width="1.0"/>
<text x="90.5" y="305.8" font-size="9.3" text-anchor="middle" fill="#2a2a2a" stroke="#2a2a2a" stroke-width="0.25">H<tspan font-size='5.5' dy='1.8'>3</tspan><tspan dy='-1.8'>C</tspan></text>
<polyline points="108.3,296.3 109.5,306.5" fill="none" stroke="#2a2a2a" stroke-width="1.0"/>
<text x="110.0" y="314.5" font-size="9.3" text-anchor="middle" fill="#2a2a2a" stroke="#2a2a2a" stroke-width="0.25">F</text>
<polyline points="108.3,296.3 120.6,300.8" fill="none" stroke="#2a2a2a" stroke-width="1.0"/>
<text x="124.1" y="305.8" font-size="9.3" text-anchor="middle" fill="#2a2a2a" stroke="#2a2a2a" stroke-width="0.25">O</text>
<polyline points="127.6,300.4 137.6,295.2" fill="none" stroke="#2a2a2a" stroke-width="1.0"/>
<polyline points="137.6,295.2 131.4,287.6" fill="none" stroke="#2a2a2a" stroke-width="1.0"/>
<text x="128.6" y="287.4" font-size="9.3" text-anchor="middle" fill="#2a2a2a" stroke="#2a2a2a" stroke-width="0.25">F</text>
<polyline points="137.6,295.2 142.6,286.0" fill="none" stroke="#2a2a2a" stroke-width="1.0"/>
<text x="145.0" y="285.6" font-size="9.3" text-anchor="middle" fill="#2a2a2a" stroke="#2a2a2a" stroke-width="0.25">F</text>
<polyline points="137.6,295.2 152.2,303.1" fill="none" stroke="#2a2a2a" stroke-width="1.0"/>
<polyline points="152.2,303.1 144.8,309.0" fill="none" stroke="#2a2a2a" stroke-width="1.0"/>
<text x="141.4" y="315.5" font-size="9.3" text-anchor="middle" fill="#2a2a2a" stroke="#2a2a2a" stroke-width="0.25">F</text>
<polyline points="152.2,303.1 153.6,310.6" fill="none" stroke="#2a2a2a" stroke-width="1.0"/>
<text x="154.4" y="318.5" font-size="9.3" text-anchor="middle" fill="#2a2a2a" stroke="#2a2a2a" stroke-width="0.25">F</text>
<polyline points="152.2,303.1 166.0,303.1" fill="none" stroke="#2a2a2a" stroke-width="1.0"/>
<text x="169.3" y="306.4" font-size="9.3" text-anchor="middle" fill="#2a2a2a" stroke="#2a2a2a" stroke-width="0.25">S</text>
<polyline points="168.3,288.8 168.3,298.8" fill="none" stroke="#2a2a2a" stroke-width="1.0"/>
<polyline points="170.5,288.8 170.5,298.8" fill="none" stroke="#2a2a2a" stroke-width="1.0"/>
<text x="169.5" y="288.0" font-size="9.3" text-anchor="middle" fill="#2a2a2a" stroke="#2a2a2a" stroke-width="0.25">O</text>
<polyline points="168.3,307.6 168.3,318.0" fill="none" stroke="#2a2a2a" stroke-width="1.0"/>
<polyline points="170.5,307.6 170.5,318.0" fill="none" stroke="#2a2a2a" stroke-width="1.0"/>
<text x="169.5" y="325.9" font-size="9.3" text-anchor="middle" fill="#2a2a2a" stroke="#2a2a2a" stroke-width="0.25">O</text>
<polyline points="172.8,303.1 186.0,303.1" fill="none" stroke="#2a2a2a" stroke-width="1.0"/>
<text x="192.9" y="306.4" font-size="9.3" text-anchor="middle" fill="#2a2a2a" stroke="#2a2a2a" stroke-width="0.25">OH</text>
<polyline points="232.2,271.0 249.2,261.2 268.7,265.3 286.3,255.9" fill="none" stroke="#2a2a2a" stroke-width="1.0"/>
<polyline points="249.2,261.2 249.2,246.6" fill="none" stroke="#2a2a2a" stroke-width="1.0"/>
<text x="249.2" y="245.9" font-size="9.3" text-anchor="middle" fill="#2a2a2a" stroke="#2a2a2a" stroke-width="0.25">F</text>
<polyline points="249.2,261.2 249.2,277.3" fill="none" stroke="#2a2a2a" stroke-width="1.0"/>
<text x="249.2" y="284.9" font-size="9.3" text-anchor="middle" fill="#2a2a2a" stroke="#2a2a2a" stroke-width="0.25">F</text>
<polyline points="268.6,265.3 268.6,250.4" fill="none" stroke="#2a2a2a" stroke-width="1.0"/>
<text x="268.4" y="249.7" font-size="9.3" text-anchor="middle" fill="#2a2a2a" stroke="#2a2a2a" stroke-width="0.25">F</text>
<polyline points="268.6,265.3 268.6,282.2" fill="none" stroke="#2a2a2a" stroke-width="1.0"/>
<text x="268.4" y="289.8" font-size="9.3" text-anchor="middle" fill="#2a2a2a" stroke="#2a2a2a" stroke-width="0.25">F</text>
<polyline points="242.9,248.2 240.8,248.2 240.8,283.2 242.9,283.2" fill="none" stroke="#2a2a2a" stroke-width="1.0"/>
<polyline points="277.2,245.8 279.3,245.8 279.3,282.3 277.2,282.3" fill="none" stroke="#2a2a2a" stroke-width="1.0"/>
<text x="281.6" y="286.0" font-size="10.6" style="font-family:Liberation Serif,serif" fill="#2a2a2a">n</text>
<polyline points="125.5,406.0 139.0,413.4 153.9,405.3 176.8,416.1" fill="none" stroke="#2a2a2a" stroke-width="1.0"/>
<polyline points="153.9,405.3 153.9,390.8" fill="none" stroke="#2a2a2a" stroke-width="1.0"/>
<text x="155.9" y="389.8" font-size="9.3" text-anchor="middle" fill="#2a2a2a" stroke="#2a2a2a" stroke-width="0.25">OH</text>
<polyline points="137.7,389.0 135.6,389.0 135.6,425.0 137.7,425.0" fill="none" stroke="#2a2a2a" stroke-width="1.0"/>
<polyline points="167.3,389.0 169.4,389.0 169.4,425.0 167.3,425.0" fill="none" stroke="#2a2a2a" stroke-width="1.0"/>
<text x="171.8" y="429.0" font-size="10.6" style="font-family:Liberation Serif,serif" fill="#2a2a2a">n</text>
<polygon points="384.6,284.7 385.3,284.7 386.0,284.7 386.7,284.7 387.3,284.7 388.0,284.7 388.7,284.7 389.4,284.7 390.1,284.7 390.8,284.7 391.5,284.7 392.1,284.7 392.8,284.7 393.5,284.7 394.2,284.7 394.9,284.7 395.6,284.7 396.3,284.7 397.0,284.7 397.6,284.7 398.3,284.7 399.0,284.7 399.7,284.7 400.4,284.7 401.1,284.7 401.8,284.7 402.4,284.7 403.1,284.7 403.8,284.7 404.5,284.7 405.2,284.7 405.9,284.7 406.6,284.7 407.2,284.7 407.9,284.7 408.6,284.7 409.3,284.7 410.0,284.7 410.7,284.7 411.4,284.7 412.0,284.7 412.7,284.7 413.4,284.7 414.1,284.7 414.8,284.7 415.5,284.7 416.2,284.7 416.9,284.7 417.5,284.7 418.2,284.7 418.9,284.7 419.6,284.7 420.3,284.7 421.0,284.7 421.7,284.7 422.3,284.7 423.0,284.7 423.7,284.7 424.4,284.7 425.1,284.7 425.8,284.7 426.5,284.7 427.1,284.7 427.8,284.7 428.5,284.7 429.2,284.7 429.9,284.7 430.6,284.7 431.3,284.7 431.9,284.7 432.6,284.7 433.3,284.7 434.0,284.7 434.7,284.7 435.4,284.7 436.1,284.7 436.8,284.7 437.4,284.7 438.1,284.7 438.8,284.7 439.5,284.7 440.2,284.7 440.9,284.7 441.6,284.7 442.2,284.7 442.9,284.7 443.6,284.7 444.3,284.7 445.0,284.7 445.7,284.6 446.4,284.6 447.0,284.6 447.7,284.6 448.4,284.6 449.1,284.6 449.8,284.6 450.5,284.6 451.2,284.6 451.8,284.6 452.5,284.6 453.2,284.6 453.9,284.6 454.6,284.6 455.3,284.6 456.0,284.6 456.7,284.6 457.3,284.6 458.0,284.6 458.7,284.6 459.4,284.6 460.1,284.6 460.8,284.6 461.5,284.6 462.1,284.6 462.8,284.6 463.5,284.6 464.2,284.6 464.9,284.6 465.6,284.6 466.3,284.6 466.9,284.6 467.6,284.6 468.3,284.6 469.0,284.6 469.7,284.5 470.4,284.5 471.1,284.5 471.7,284.5 472.4,284.5 473.1,284.5 473.8,284.5 474.5,284.5 475.2,284.5 475.9,284.5 476.6,284.5 477.2,284.5 477.9,284.5 478.6,284.5 479.3,284.5 480.0,284.5 480.7,284.5 481.4,284.5 482.0,284.5 482.7,284.4 483.4,284.4 484.1,284.4 484.8,284.4 485.5,284.4 486.2,284.4 486.8,284.4 487.5,284.4 488.2,284.4 488.9,284.4 489.6,284.4 490.3,284.3 491.0,284.3 491.6,284.3 492.3,284.3 493.0,284.3 493.7,284.3 494.4,284.2 495.1,284.2 495.8,284.2 496.5,284.2 497.1,284.1 497.8,284.1 498.5,284.1 499.2,284.0 499.9,284.0 500.6,284.0 501.3,283.9 501.9,283.9 502.6,283.8 503.3,283.7 504.0,283.7 504.7,283.6 505.4,283.5 506.1,283.4 506.7,283.3 507.4,283.2 508.1,283.1 508.8,283.0 509.5,282.8 510.2,282.7 510.9,282.5 511.5,282.3 512.2,282.1 512.9,281.9 513.6,281.7 514.3,281.4 515.0,281.2 515.7,280.9 516.4,280.6 517.0,280.2 517.7,279.9 518.4,279.5 519.1,279.1 519.8,278.6 520.5,278.2 521.2,277.7 521.8,277.2 522.5,276.6 523.2,276.1 523.9,275.5 524.6,274.9 525.3,274.2 526.0,273.5 526.6,272.8 527.3,272.1 528.0,271.4 528.7,270.6 529.4,269.8 530.1,269.0 530.8,268.2 531.5,267.3 532.1,266.5 532.8,265.6 533.5,264.7 534.2,263.9 534.9,263.0 535.6,262.1 536.3,261.2 536.9,260.4 537.6,259.5 538.3,258.7 539.0,257.9 539.7,257.2 540.4,256.4 541.1,255.7 541.7,255.0 542.4,254.4 543.1,253.8 543.8,253.3 544.5,252.8 545.2,252.4 545.9,252.1 546.5,251.8 547.2,251.6 547.9,251.4 548.6,251.3 549.3,251.3 550.0,251.4 550.7,251.5 551.4,251.7 552.0,251.9 552.7,252.3 553.4,252.6 554.1,253.1 554.8,253.6 555.5,254.1 556.2,254.8 556.8,255.4 557.5,256.1 558.2,256.8 558.9,257.6 559.6,258.4 560.3,259.2 561.0,260.0 561.6,260.9 562.3,261.7 563.0,262.6 563.7,263.5 564.4,264.3 565.1,265.2 565.8,266.1 566.4,266.9 567.1,267.8 567.8,268.6 568.5,269.4 569.2,270.2 569.9,271.0 570.6,271.8 571.3,272.5 571.9,273.2 572.6,273.9 573.3,274.6 574.0,275.2 574.7,275.8 575.4,276.4 576.1,276.9 576.7,277.5 577.4,278.0 578.1,278.4 578.8,278.9 579.5,279.3 580.2,279.7 580.9,280.1 581.5,280.4 582.2,280.7 582.9,281.0 583.6,281.3 584.3,281.6 585.0,281.8 585.7,282.0 586.3,282.2 587.0,282.4 587.7,282.6 588.4,282.8 589.1,282.9 589.8,283.0 590.5,283.2 591.2,283.3 591.8,283.4 592.5,283.5 593.2,283.6 593.9,283.6 594.6,283.7 595.3,283.8 596.0,283.8 596.6,283.9 597.3,283.9 598.0,284.0 598.7,284.0 599.4,284.1 600.1,284.1 600.8,284.1 601.4,284.2 602.1,284.2 602.8,284.2 603.5,284.2 604.2,284.3 604.9,284.3 605.6,284.3 606.2,284.3 606.9,284.3 607.6,284.3 608.3,284.3 609.0,284.4 609.7,284.4 610.4,284.4 611.1,284.4 611.7,284.4 612.4,284.4 613.1,284.4 613.8,284.4 614.5,284.4 615.2,284.4 615.9,284.4 616.5,284.5 617.2,284.5 617.9,284.5 618.6,284.5 619.3,284.5 620.0,284.5 620.7,284.5 621.3,284.5 622.0,284.5 622.7,284.5 623.4,284.5 624.1,284.5 624.8,284.5 625.5,284.5 626.1,284.5 626.8,284.5 627.5,284.5 628.2,284.5 628.9,284.6 629.6,284.6 630.3,284.6 631.0,284.6 631.6,284.6 632.3,284.6 633.0,284.6 633.7,284.6 634.4,284.6 635.1,284.6 635.8,284.6 636.4,284.6 637.1,284.6 637.8,284.6 638.5,284.6 639.2,284.6 639.9,284.6 640.6,284.6 641.2,284.6 641.9,284.6 642.6,284.6 643.3,284.6 644.0,284.6 644.7,284.6 645.4,284.6 646.0,284.6 646.7,284.6 647.4,284.6 648.1,284.6 648.8,284.6 649.5,284.6 650.2,284.6 650.9,284.6 651.5,284.6 652.2,284.6 652.9,284.6 653.6,284.7 654.3,284.7 655.0,284.7 655.7,284.7 656.3,284.7 657.0,284.7 657.7,284.7 658.4,284.7 658.4,284.8 384.6,284.8" fill="#8ff5aa" />
<polygon points="384.6,284.6 385.3,284.6 386.0,284.6 386.7,284.6 387.3,284.5 388.0,284.5 388.7,284.5 389.4,284.5 390.1,284.5 390.8,284.5 391.5,284.5 392.1,284.5 392.8,284.5 393.5,284.5 394.2,284.5 394.9,284.5 395.6,284.5 396.3,284.5 397.0,284.5 397.6,284.5 398.3,284.5 399.0,284.5 399.7,284.5 400.4,284.5 401.1,284.5 401.8,284.5 402.4,284.5 403.1,284.5 403.8,284.5 404.5,284.5 405.2,284.5 405.9,284.5 406.6,284.5 407.2,284.5 407.9,284.5 408.6,284.4 409.3,284.4 410.0,284.4 410.7,284.4 411.4,284.4 412.0,284.4 412.7,284.4 413.4,284.4 414.1,284.4 414.8,284.4 415.5,284.4 416.2,284.4 416.9,284.4 417.5,284.4 418.2,284.4 418.9,284.4 419.6,284.4 420.3,284.4 421.0,284.4 421.7,284.4 422.3,284.3 423.0,284.3 423.7,284.3 424.4,284.3 425.1,284.3 425.8,284.3 426.5,284.3 427.1,284.3 427.8,284.3 428.5,284.3 429.2,284.3 429.9,284.3 430.6,284.3 431.3,284.3 431.9,284.3 432.6,284.2 433.3,284.2 434.0,284.2 434.7,284.2 435.4,284.2 436.1,284.2 436.8,284.2 437.4,284.2 438.1,284.2 438.8,284.2 439.5,284.2 440.2,284.1 440.9,284.1 441.6,284.1 442.2,284.1 442.9,284.1 443.6,284.1 444.3,284.1 445.0,284.1 445.7,284.0 446.4,284.0 447.0,284.0 447.7,284.0 448.4,284.0 449.1,284.0 449.8,284.0 450.5,283.9 451.2,283.9 451.8,283.9 452.5,283.9 453.2,283.9 453.9,283.8 454.6,283.8 455.3,283.8 456.0,283.8 456.7,283.7 457.3,283.7 458.0,283.7 458.7,283.7 459.4,283.6 460.1,283.6 460.8,283.5 461.5,283.5 462.1,283.5 462.8,283.4 463.5,283.4 464.2,283.3 464.9,283.2 465.6,283.2 466.3,283.1 466.9,283.0 467.6,282.9 468.3,282.8 469.0,282.7 469.7,282.6 470.4,282.5 471.1,282.3 471.7,282.2 472.4,282.0 473.1,281.9 473.8,281.7 474.5,281.5 475.2,281.3 475.9,281.0 476.6,280.8 477.2,280.5 477.9,280.2 478.6,279.9 479.3,279.5 480.0,279.1 480.7,278.7 481.4,278.3 482.0,277.8 482.7,277.3 483.4,276.8 484.1,276.2 484.8,275.6 485.5,274.9 486.2,274.3 486.8,273.5 487.5,272.7 488.2,271.9 488.9,271.1 489.6,270.1 490.3,269.2 491.0,268.2 491.6,267.1 492.3,266.0 493.0,264.9 493.7,263.6 494.4,262.4 495.1,261.1 495.8,259.7 496.5,258.4 497.1,256.9 497.8,255.4 498.5,253.9 499.2,252.4 499.9,250.8 500.6,249.1 501.3,247.5 501.9,245.8 502.6,244.1 503.3,242.4 504.0,240.7 504.7,238.9 505.4,237.2 506.1,235.4 506.7,233.7 507.4,232.0 508.1,230.3 508.8,228.6 509.5,227.0 510.2,225.4 510.9,223.8 511.5,222.3 512.2,220.9 512.9,219.5 513.6,218.2 514.3,217.0 515.0,215.8 515.7,214.8 516.4,213.8 517.0,213.0 517.7,212.3 518.4,211.6 519.1,211.1 519.8,210.7 520.5,210.5 521.2,210.3 521.8,210.3 522.5,210.4 523.2,210.6 523.9,211.0 524.6,211.5 525.3,212.1 526.0,212.8 526.6,213.6 527.3,214.5 528.0,215.5 528.7,216.6 529.4,217.8 530.1,219.1 530.8,220.5 531.5,221.9 532.1,223.4 532.8,224.9 533.5,226.5 534.2,228.1 534.9,229.8 535.6,231.5 536.3,233.2 536.9,234.9 537.6,236.7 538.3,238.4 539.0,240.1 539.7,241.9 540.4,243.6 541.1,245.3 541.7,247.0 542.4,248.7 543.1,250.3 543.8,251.9 544.5,253.5 545.2,255.0 545.9,256.5 546.5,257.9 547.2,259.3 547.9,260.7 548.6,262.0 549.3,263.3 550.0,264.5 550.7,265.7 551.4,266.8 552.0,267.9 552.7,268.9 553.4,269.9 554.1,270.8 554.8,271.7 555.5,272.5 556.2,273.3 556.8,274.0 557.5,274.8 558.2,275.4 558.9,276.0 559.6,276.6 560.3,277.2 561.0,277.7 561.6,278.2 562.3,278.6 563.0,279.0 563.7,279.4 564.4,279.8 565.1,280.1 565.8,280.4 566.4,280.7 567.1,281.0 567.8,281.2 568.5,281.4 569.2,281.6 569.9,281.8 570.6,282.0 571.3,282.2 571.9,282.3 572.6,282.4 573.3,282.6 574.0,282.7 574.7,282.8 575.4,282.9 576.1,283.0 576.7,283.1 577.4,283.1 578.1,283.2 578.8,283.3 579.5,283.3 580.2,283.4 580.9,283.4 581.5,283.5 582.2,283.5 582.9,283.6 583.6,283.6 584.3,283.6 585.0,283.7 585.7,283.7 586.3,283.7 587.0,283.8 587.7,283.8 588.4,283.8 589.1,283.8 589.8,283.9 590.5,283.9 591.2,283.9 591.8,283.9 592.5,283.9 593.2,284.0 593.9,284.0 594.6,284.0 595.3,284.0 596.0,284.0 596.6,284.0 597.3,284.0 598.0,284.1 598.7,284.1 599.4,284.1 600.1,284.1 600.8,284.1 601.4,284.1 602.1,284.1 602.8,284.1 603.5,284.1 604.2,284.2 604.9,284.2 605.6,284.2 606.2,284.2 606.9,284.2 607.6,284.2 608.3,284.2 609.0,284.2 609.7,284.2 610.4,284.2 611.1,284.2 611.7,284.3 612.4,284.3 613.1,284.3 613.8,284.3 614.5,284.3 615.2,284.3 615.9,284.3 616.5,284.3 617.2,284.3 617.9,284.3 618.6,284.3 619.3,284.3 620.0,284.3 620.7,284.3 621.3,284.4 622.0,284.4 622.7,284.4 623.4,284.4 624.1,284.4 624.8,284.4 625.5,284.4 626.1,284.4 626.8,284.4 627.5,284.4 628.2,284.4 628.9,284.4 629.6,284.4 630.3,284.4 631.0,284.4 631.6,284.4 632.3,284.4 633.0,284.4 633.7,284.4 634.4,284.4 635.1,284.5 635.8,284.5 636.4,284.5 637.1,284.5 637.8,284.5 638.5,284.5 639.2,284.5 639.9,284.5 640.6,284.5 641.2,284.5 641.9,284.5 642.6,284.5 643.3,284.5 644.0,284.5 644.7,284.5 645.4,284.5 646.0,284.5 646.7,284.5 647.4,284.5 648.1,284.5 648.8,284.5 649.5,284.5 650.2,284.5 650.9,284.5 651.5,284.5 652.2,284.5 652.9,284.5 653.6,284.5 654.3,284.5 655.0,284.5 655.7,284.5 656.3,284.6 657.0,284.6 657.7,284.6 658.4,284.6 658.4,284.8 384.6,284.8" fill="#b8b8f8" />
<polygon points="384.6,284.7 385.3,284.7 386.0,284.7 386.7,284.7 387.3,284.7 388.0,284.7 388.7,284.7 389.4,284.7 390.1,284.7 390.8,284.7 391.5,284.7 392.1,284.7 392.8,284.7 393.5,284.7 394.2,284.7 394.9,284.7 395.6,284.7 396.3,284.7 397.0,284.7 397.6,284.7 398.3,284.7 399.0,284.7 399.7,284.7 400.4,284.7 401.1,284.7 401.8,284.7 402.4,284.7 403.1,284.7 403.8,284.7 404.5,284.7 405.2,284.7 405.9,284.7 406.6,284.7 407.2,284.7 407.9,284.7 408.6,284.7 409.3,284.7 410.0,284.7 410.7,284.7 411.4,284.7 412.0,284.7 412.7,284.7 413.4,284.7 414.1,284.7 414.8,284.7 415.5,284.7 416.2,284.7 416.9,284.7 417.5,284.7 418.2,284.7 418.9,284.7 419.6,284.7 420.3,284.7 421.0,284.7 421.7,284.7 422.3,284.7 423.0,284.7 423.7,284.7 424.4,284.7 425.1,284.7 425.8,284.7 426.5,284.7 427.1,284.7 427.8,284.7 428.5,284.7 429.2,284.7 429.9,284.7 430.6,284.7 431.3,284.7 431.9,284.7 432.6,284.7 433.3,284.7 434.0,284.7 434.7,284.7 435.4,284.7 436.1,284.7 436.8,284.7 437.4,284.7 438.1,284.7 438.8,284.7 439.5,284.7 440.2,284.7 440.9,284.7 441.6,284.7 442.2,284.7 442.9,284.7 443.6,284.7 444.3,284.7 445.0,284.7 445.7,284.6 446.4,284.6 447.0,284.6 447.7,284.6 448.4,284.6 449.1,284.6 449.8,284.6 450.5,284.6 451.2,284.6 451.8,284.6 452.5,284.6 453.2,284.6 453.9,284.6 454.6,284.6 455.3,284.6 456.0,284.6 456.7,284.6 457.3,284.6 458.0,284.6 458.7,284.6 459.4,284.6 460.1,284.6 460.8,284.6 461.5,284.6 462.1,284.6 462.8,284.6 463.5,284.6 464.2,284.6 464.9,284.6 465.6,284.6 466.3,284.6 466.9,284.6 467.6,284.6 468.3,284.6 469.0,284.6 469.7,284.5 470.4,284.5 471.1,284.5 471.7,284.5 472.4,284.5 473.1,284.5 473.8,284.5 474.5,284.5 475.2,284.5 475.9,284.5 476.6,284.5 477.2,284.5 477.9,284.5 478.6,284.5 479.3,284.5 480.0,284.5 480.7,284.5 481.4,284.5 482.0,284.5 482.7,284.4 483.4,284.4 484.1,284.4 484.8,284.4 485.5,284.4 486.2,284.4 486.8,284.4 487.5,284.4 488.2,284.4 488.9,284.4 489.6,284.4 490.3,284.3 491.0,284.3 491.6,284.3 492.3,284.3 493.0,284.3 493.7,284.3 494.4,284.2 495.1,284.2 495.8,284.2 496.5,284.2 497.1,284.1 497.8,284.1 498.5,284.1 499.2,284.0 499.9,284.0 500.6,284.0 501.3,283.9 501.9,283.9 502.6,283.8 503.3,283.7 504.0,283.7 504.7,283.6 505.4,283.5 506.1,283.4 506.7,283.3 507.4,283.2 508.1,283.1 508.8,283.0 509.5,282.8 510.2,282.7 510.9,282.5 511.5,282.3 512.2,282.1 512.9,281.9 513.6,281.7 514.3,281.4 515.0,281.2 515.7,280.9 516.4,280.6 517.0,280.2 517.7,279.9 518.4,279.5 519.1,279.1 519.8,278.6 520.5,278.2 521.2,277.7 521.8,277.2 522.5,276.6 523.2,276.1 523.9,275.5 524.6,274.9 525.3,274.2 526.0,273.5 526.6,272.8 527.3,272.1 528.0,271.4 528.7,270.6 529.4,269.8 530.1,269.0 530.8,268.2 531.5,267.3 532.1,266.5 532.8,265.6 533.5,264.7 534.2,263.9 534.9,263.0 535.6,262.1 536.3,261.2 536.9,260.4 537.6,259.5 538.3,258.7 539.0,257.9 539.7,257.2 540.4,256.4 541.1,255.7 541.7,255.0 542.4,254.4 543.1,253.8 543.8,253.3 544.5,253.5 545.2,255.0 545.9,256.5 546.5,257.9 547.2,259.3 547.9,260.7 548.6,262.0 549.3,263.3 550.0,264.5 550.7,265.7 551.4,266.8 552.0,267.9 552.7,268.9 553.4,269.9 554.1,270.8 554.8,271.7 555.5,272.5 556.2,273.3 556.8,274.0 557.5,274.8 558.2,275.4 558.9,276.0 559.6,276.6 560.3,277.2 561.0,277.7 561.6,278.2 562.3,278.6 563.0,279.0 563.7,279.4 564.4,279.8 565.1,280.1 565.8,280.4 566.4,280.7 567.1,281.0 567.8,281.2 568.5,281.4 569.2,281.6 569.9,281.8 570.6,282.0 571.3,282.2 571.9,282.3 572.6,282.4 573.3,282.6 574.0,282.7 574.7,282.8 575.4,282.9 576.1,283.0 576.7,283.1 577.4,283.1 578.1,283.2 578.8,283.3 579.5,283.3 580.2,283.4 580.9,283.4 581.5,283.5 582.2,283.5 582.9,283.6 583.6,283.6 584.3,283.6 585.0,283.7 585.7,283.7 586.3,283.7 587.0,283.8 587.7,283.8 588.4,283.8 589.1,283.8 589.8,283.9 590.5,283.9 591.2,283.9 591.8,283.9 592.5,283.9 593.2,284.0 593.9,284.0 594.6,284.0 595.3,284.0 596.0,284.0 596.6,284.0 597.3,284.0 598.0,284.1 598.7,284.1 599.4,284.1 600.1,284.1 600.8,284.1 601.4,284.2 602.1,284.2 602.8,284.2 603.5,284.2 604.2,284.3 604.9,284.3 605.6,284.3 606.2,284.3 606.9,284.3 607.6,284.3 608.3,284.3 609.0,284.4 609.7,284.4 610.4,284.4 611.1,284.4 611.7,284.4 612.4,284.4 613.1,284.4 613.8,284.4 614.5,284.4 615.2,284.4 615.9,284.4 616.5,284.5 617.2,284.5 617.9,284.5 618.6,284.5 619.3,284.5 620.0,284.5 620.7,284.5 621.3,284.5 622.0,284.5 622.7,284.5 623.4,284.5 624.1,284.5 624.8,284.5 625.5,284.5 626.1,284.5 626.8,284.5 627.5,284.5 628.2,284.5 628.9,284.6 629.6,284.6 630.3,284.6 631.0,284.6 631.6,284.6 632.3,284.6 633.0,284.6 633.7,284.6 634.4,284.6 635.1,284.6 635.8,284.6 636.4,284.6 637.1,284.6 637.8,284.6 638.5,284.6 639.2,284.6 639.9,284.6 640.6,284.6 641.2,284.6 641.9,284.6 642.6,284.6 643.3,284.6 644.0,284.6 644.7,284.6 645.4,284.6 646.0,284.6 646.7,284.6 647.4,284.6 648.1,284.6 648.8,284.6 649.5,284.6 650.2,284.6 650.9,284.6 651.5,284.6 652.2,284.6 652.9,284.6 653.6,284.7 654.3,284.7 655.0,284.7 655.7,284.7 656.3,284.7 657.0,284.7 657.7,284.7 658.4,284.7 658.4,284.8 384.6,284.8" fill="#6cb8d0" />
<polyline points="384.6,284.5 385.3,284.5 386.0,284.5 386.7,284.5 387.3,284.5 388.0,284.5 388.7,284.5 389.4,284.5 390.1,284.5 390.8,284.5 391.5,284.5 392.1,284.5 392.8,284.5 393.5,284.5 394.2,284.5 394.9,284.4 395.6,284.4 396.3,284.4 397.0,284.4 397.6,284.4 398.3,284.4 399.0,284.4 399.7,284.4 400.4,284.4 401.1,284.4 401.8,284.4 402.4,284.4 403.1,284.4 403.8,284.4 404.5,284.4 405.2,284.4 405.9,284.4 406.6,284.4 407.2,284.4 407.9,284.4 408.6,284.4 409.3,284.4 410.0,284.4 410.7,284.3 411.4,284.3 412.0,284.3 412.7,284.3 413.4,284.3 414.1,284.3 414.8,284.3 415.5,284.3 416.2,284.3 416.9,284.3 417.5,284.3 418.2,284.3 418.9,284.3 419.6,284.3 420.3,284.3 421.0,284.3 421.7,284.3 422.3,284.2 423.0,284.2 423.7,284.2 424.4,284.2 425.1,284.2 425.8,284.2 426.5,284.2 427.1,284.2 427.8,284.2 428.5,284.2 429.2,284.2 429.9,284.2 430.6,284.2 431.3,284.1 431.9,284.1 432.6,284.1 433.3,284.1 434.0,284.1 434.7,284.1 435.4,284.1 436.1,284.1 436.8,284.1 437.4,284.1 438.1,284.0 438.8,284.0 439.5,284.0 440.2,284.0 440.9,284.0 441.6,284.0 442.2,284.0 442.9,284.0 443.6,283.9 444.3,283.9 445.0,283.9 445.7,283.9 446.4,283.9 447.0,283.9 447.7,283.8 448.4,283.8 449.1,283.8 449.8,283.8 450.5,283.8 451.2,283.8 451.8,283.7 452.5,283.7 453.2,283.7 453.9,283.7 454.6,283.6 455.3,283.6 456.0,283.6 456.7,283.6 457.3,283.5 458.0,283.5 458.7,283.5 459.4,283.4 460.1,283.4 460.8,283.3 461.5,283.3 462.1,283.2 462.8,283.2 463.5,283.1 464.2,283.1 464.9,283.0 465.6,282.9 466.3,282.9 466.9,282.8 467.6,282.7 468.3,282.6 469.0,282.5 469.7,282.4 470.4,282.2 471.1,282.1 471.7,281.9 472.4,281.8 473.1,281.6 473.8,281.4 474.5,281.2 475.2,281.0 475.9,280.7 476.6,280.5 477.2,280.2 477.9,279.9 478.6,279.5 479.3,279.2 480.0,278.8 480.7,278.4 481.4,277.9 482.0,277.5 482.7,277.0 483.4,276.4 484.1,275.8 484.8,275.2 485.5,274.6 486.2,273.9 486.8,273.1 487.5,272.3 488.2,271.5 488.9,270.6 489.6,269.7 490.3,268.7 491.0,267.7 491.6,266.6 492.3,265.5 493.0,264.3 493.7,263.1 494.4,261.8 495.1,260.5 495.8,259.1 496.5,257.7 497.1,256.3 497.8,254.8 498.5,253.2 499.2,251.6 499.9,250.0 500.6,248.3 501.3,246.6 501.9,244.9 502.6,243.1 503.3,241.3 504.0,239.5 504.7,237.7 505.4,235.9 506.1,234.1 506.7,232.2 507.4,230.4 508.1,228.6 508.8,226.8 509.5,225.0 510.2,223.3 510.9,221.5 511.5,219.8 512.2,218.2 512.9,216.6 513.6,215.1 514.3,213.6 515.0,212.2 515.7,210.9 516.4,209.6 517.0,208.4 517.7,207.3 518.4,206.3 519.1,205.4 519.8,204.6 520.5,203.8 521.2,203.2 521.8,202.7 522.5,202.3 523.2,201.9 523.9,201.7 524.6,201.5 525.3,201.5 526.0,201.5 526.6,201.6 527.3,201.8 528.0,202.1 528.7,202.4 529.4,202.8 530.1,203.3 530.8,203.8 531.5,204.4 532.1,205.0 532.8,205.7 533.5,206.4 534.2,207.2 534.9,208.0 535.6,208.8 536.3,209.6 536.9,210.5 537.6,211.4 538.3,212.3 539.0,213.3 539.7,214.2 540.4,215.2 541.1,216.2 541.7,217.2 542.4,218.3 543.1,219.3 543.8,220.4 544.5,221.5 545.2,222.6 545.9,223.8 546.5,224.9 547.2,226.1 547.9,227.3 548.6,228.5 549.3,229.8 550.0,231.1 550.7,232.4 551.4,233.7 552.0,235.0 552.7,236.4 553.4,237.7 554.1,239.1 554.8,240.5 555.5,241.9 556.2,243.3 556.8,244.7 557.5,246.0 558.2,247.4 558.9,248.8 559.6,250.2 560.3,251.5 561.0,252.9 561.6,254.2 562.3,255.5 563.0,256.8 563.7,258.1 564.4,259.3 565.1,260.5 565.8,261.7 566.4,262.8 567.1,263.9 567.8,265.0 568.5,266.1 569.2,267.1 569.9,268.0 570.6,269.0 571.3,269.9 571.9,270.7 572.6,271.6 573.3,272.3 574.0,273.1 574.7,273.8 575.4,274.5 576.1,275.1 576.7,275.7 577.4,276.3 578.1,276.8 578.8,277.4 579.5,277.8 580.2,278.3 580.9,278.7 581.5,279.1 582.2,279.5 582.9,279.8 583.6,280.1 584.3,280.4 585.0,280.7 585.7,280.9 586.3,281.2 587.0,281.4 587.7,281.6 588.4,281.8 589.1,281.9 589.8,282.1 590.5,282.3 591.2,282.4 591.8,282.5 592.5,282.6 593.2,282.7 593.9,282.8 594.6,282.9 595.3,283.0 596.0,283.1 596.6,283.1 597.3,283.2 598.0,283.2 598.7,283.3 599.4,283.3 600.1,283.4 600.8,283.4 601.4,283.5 602.1,283.5 602.8,283.5 603.5,283.6 604.2,283.6 604.9,283.6 605.6,283.7 606.2,283.7 606.9,283.7 607.6,283.7 608.3,283.8 609.0,283.8 609.7,283.8 610.4,283.8 611.1,283.8 611.7,283.9 612.4,283.9 613.1,283.9 613.8,283.9 614.5,283.9 615.2,283.9 615.9,283.9 616.5,284.0 617.2,284.0 617.9,284.0 618.6,284.0 619.3,284.0 620.0,284.0 620.7,284.0 621.3,284.1 622.0,284.1 622.7,284.1 623.4,284.1 624.1,284.1 624.8,284.1 625.5,284.1 626.1,284.1 626.8,284.1 627.5,284.1 628.2,284.2 628.9,284.2 629.6,284.2 630.3,284.2 631.0,284.2 631.6,284.2 632.3,284.2 633.0,284.2 633.7,284.2 634.4,284.2 635.1,284.2 635.8,284.2 636.4,284.2 637.1,284.3 637.8,284.3 638.5,284.3 639.2,284.3 639.9,284.3 640.6,284.3 641.2,284.3 641.9,284.3 642.6,284.3 643.3,284.3 644.0,284.3 644.7,284.3 645.4,284.3 646.0,284.3 646.7,284.3 647.4,284.3 648.1,284.4 648.8,284.4 649.5,284.4 650.2,284.4 650.9,284.4 651.5,284.4 652.2,284.4 652.9,284.4 653.6,284.4 654.3,284.4 655.0,284.4 655.7,284.4 656.3,284.4 657.0,284.4 657.7,284.4 658.4,284.4" fill="none" stroke="#222" stroke-width="0.9" stroke-linejoin="round" />
<circle cx="384.6" cy="285.7" r="2.2" fill="none" stroke="#f05a5a" stroke-width="1.0"/>
<circle cx="389.2" cy="283.1" r="2.2" fill="none" stroke="#f05a5a" stroke-width="1.0"/>
<circle cx="393.8" cy="282.8" r="2.2" fill="none" stroke="#f05a5a" stroke-width="1.0"/>
<circle cx="398.4" cy="279.9" r="2.2" fill="none" stroke="#f05a5a" stroke-width="1.0"/>
<circle cx="402.9" cy="283.4" r="2.2" fill="none" stroke="#f05a5a" stroke-width="1.0"/>
<circle cx="407.5" cy="282.9" r="2.2" fill="none" stroke="#f05a5a" stroke-width="1.0"/>
<circle cx="412.1" cy="282.6" r="2.2" fill="none" stroke="#f05a5a" stroke-width="1.0"/>
<circle cx="416.7" cy="283.7" r="2.2" fill="none" stroke="#f05a5a" stroke-width="1.0"/>
<circle cx="421.3" cy="283.7" r="2.2" fill="none" stroke="#f05a5a" stroke-width="1.0"/>
<circle cx="425.9" cy="281.8" r="2.2" fill="none" stroke="#f05a5a" stroke-width="1.0"/>
<circle cx="430.4" cy="281.9" r="2.2" fill="none" stroke="#f05a5a" stroke-width="1.0"/>
<circle cx="435.0" cy="282.4" r="2.2" fill="none" stroke="#f05a5a" stroke-width="1.0"/>
<circle cx="439.6" cy="283.8" r="2.2" fill="none" stroke="#f05a5a" stroke-width="1.0"/>
<circle cx="444.2" cy="283.6" r="2.2" fill="none" stroke="#f05a5a" stroke-width="1.0"/>
<circle cx="448.8" cy="281.0" r="2.2" fill="none" stroke="#f05a5a" stroke-width="1.0"/>
<circle cx="453.4" cy="281.1" r="2.2" fill="none" stroke="#f05a5a" stroke-width="1.0"/>
<circle cx="457.9" cy="283.3" r="2.2" fill="none" stroke="#f05a5a" stroke-width="1.0"/>
<circle cx="462.5" cy="284.0" r="2.2" fill="none" stroke="#f05a5a" stroke-width="1.0"/>
<circle cx="467.1" cy="281.2" r="2.2" fill="none" stroke="#f05a5a" stroke-width="1.0"/>
<circle cx="471.7" cy="279.3" r="2.2" fill="none" stroke="#f05a5a" stroke-width="1.0"/>
<circle cx="476.3" cy="279.9" r="2.2" fill="none" stroke="#f05a5a" stroke-width="1.0"/>
<circle cx="480.9" cy="275.3" r="2.2" fill="none" stroke="#f05a5a" stroke-width="1.0"/>
<circle cx="485.4" cy="272.5" r="2.2" fill="none" stroke="#f05a5a" stroke-width="1.0"/>
<circle cx="490.0" cy="267.6" r="2.2" fill="none" stroke="#f05a5a" stroke-width="1.0"/>
<circle cx="494.6" cy="258.5" r="2.2" fill="none" stroke="#f05a5a" stroke-width="1.0"/>
<circle cx="499.2" cy="248.1" r="2.2" fill="none" stroke="#f05a5a" stroke-width="1.0"/>
<circle cx="503.8" cy="237.9" r="2.2" fill="none" stroke="#f05a5a" stroke-width="1.0"/>
<circle cx="508.4" cy="224.7" r="2.2" fill="none" stroke="#f05a5a" stroke-width="1.0"/>
<circle cx="513.0" cy="214.7" r="2.2" fill="none" stroke="#f05a5a" stroke-width="1.0"/>
<circle cx="517.5" cy="205.8" r="2.2" fill="none" stroke="#f05a5a" stroke-width="1.0"/>
<circle cx="522.1" cy="201.2" r="2.2" fill="none" stroke="#f05a5a" stroke-width="1.0"/>
<circle cx="526.7" cy="199.5" r="2.2" fill="none" stroke="#f05a5a" stroke-width="1.0"/>
<circle cx="531.3" cy="201.9" r="2.2" fill="none" stroke="#f05a5a" stroke-width="1.0"/>
<circle cx="535.9" cy="205.9" r="2.2" fill="none" stroke="#f05a5a" stroke-width="1.0"/>
<circle cx="540.5" cy="212.4" r="2.2" fill="none" stroke="#f05a5a" stroke-width="1.0"/>
<circle cx="545.0" cy="219.3" r="2.2" fill="none" stroke="#f05a5a" stroke-width="1.0"/>
<circle cx="549.6" cy="227.7" r="2.2" fill="none" stroke="#f05a5a" stroke-width="1.0"/>
<circle cx="554.2" cy="238.1" r="2.2" fill="none" stroke="#f05a5a" stroke-width="1.0"/>
<circle cx="558.8" cy="243.5" r="2.2" fill="none" stroke="#f05a5a" stroke-width="1.0"/>
<circle cx="563.4" cy="256.1" r="2.2" fill="none" stroke="#f05a5a" stroke-width="1.0"/>
<circle cx="568.0" cy="261.9" r="2.2" fill="none" stroke="#f05a5a" stroke-width="1.0"/>
<circle cx="572.5" cy="267.1" r="2.2" fill="none" stroke="#f05a5a" stroke-width="1.0"/>
<circle cx="577.1" cy="273.4" r="2.2" fill="none" stroke="#f05a5a" stroke-width="1.0"/>
<circle cx="581.7" cy="277.2" r="2.2" fill="none" stroke="#f05a5a" stroke-width="1.0"/>
<circle cx="586.3" cy="280.7" r="2.2" fill="none" stroke="#f05a5a" stroke-width="1.0"/>
<circle cx="590.9" cy="279.4" r="2.2" fill="none" stroke="#f05a5a" stroke-width="1.0"/>
<circle cx="595.5" cy="281.9" r="2.2" fill="none" stroke="#f05a5a" stroke-width="1.0"/>
<circle cx="600.0" cy="282.3" r="2.2" fill="none" stroke="#f05a5a" stroke-width="1.0"/>
<circle cx="604.6" cy="280.3" r="2.2" fill="none" stroke="#f05a5a" stroke-width="1.0"/>
<circle cx="609.2" cy="281.1" r="2.2" fill="none" stroke="#f05a5a" stroke-width="1.0"/>
<circle cx="613.8" cy="283.6" r="2.2" fill="none" stroke="#f05a5a" stroke-width="1.0"/>
<circle cx="618.4" cy="283.8" r="2.2" fill="none" stroke="#f05a5a" stroke-width="1.0"/>
<circle cx="623.0" cy="284.4" r="2.2" fill="none" stroke="#f05a5a" stroke-width="1.0"/>
<circle cx="627.6" cy="283.8" r="2.2" fill="none" stroke="#f05a5a" stroke-width="1.0"/>
<circle cx="632.1" cy="283.7" r="2.2" fill="none" stroke="#f05a5a" stroke-width="1.0"/>
<circle cx="636.7" cy="283.4" r="2.2" fill="none" stroke="#f05a5a" stroke-width="1.0"/>
<circle cx="641.3" cy="284.8" r="2.2" fill="none" stroke="#f05a5a" stroke-width="1.0"/>
<circle cx="645.9" cy="282.2" r="2.2" fill="none" stroke="#f05a5a" stroke-width="1.0"/>
<circle cx="650.5" cy="283.1" r="2.2" fill="none" stroke="#f05a5a" stroke-width="1.0"/>
<circle cx="655.1" cy="283.9" r="2.2" fill="none" stroke="#f05a5a" stroke-width="1.0"/>
<circle cx="658.1" cy="281.3" r="2.2" fill="none" stroke="#f05a5a" stroke-width="1.0"/>
<polygon points="384.6,388.2 385.3,388.1 386.0,388.1 386.7,388.1 387.3,388.1 388.0,388.1 388.7,388.1 389.4,388.1 390.1,388.1 390.8,388.1 391.5,388.1 392.1,388.1 392.8,388.1 393.5,388.1 394.2,388.1 394.9,388.1 395.6,388.1 396.3,388.1 397.0,388.1 397.6,388.1 398.3,388.1 399.0,388.1 399.7,388.1 400.4,388.1 401.1,388.1 401.8,388.1 402.4,388.1 403.1,388.1 403.8,388.1 404.5,388.1 405.2,388.1 405.9,388.1 406.6,388.1 407.2,388.1 407.9,388.1 408.6,388.1 409.3,388.1 410.0,388.1 410.7,388.1 411.4,388.1 412.0,388.1 412.7,388.1 413.4,388.1 414.1,388.1 414.8,388.1 415.5,388.1 416.2,388.1 416.9,388.1 417.5,388.1 418.2,388.1 418.9,388.1 419.6,388.1 420.3,388.1 421.0,388.1 421.7,388.1 422.3,388.1 423.0,388.0 423.7,388.0 424.4,388.0 425.1,388.0 425.8,388.0 426.5,388.0 427.1,388.0 427.8,388.0 428.5,388.0 429.2,388.0 429.9,388.0 430.6,388.0 431.3,388.0 431.9,388.0 432.6,388.0 433.3,388.0 434.0,388.0 434.7,388.0 435.4,388.0 436.1,388.0 436.8,388.0 437.4,388.0 438.1,388.0 438.8,388.0 439.5,388.0 440.2,388.0 440.9,388.0 441.6,388.0 442.2,388.0 442.9,387.9 443.6,387.9 444.3,387.9 445.0,387.9 445.7,387.9 446.4,387.9 447.0,387.9 447.7,387.9 448.4,387.9 449.1,387.9 449.8,387.9 450.5,387.9 451.2,387.9 451.8,387.9 452.5,387.9 453.2,387.9 453.9,387.9 454.6,387.9 455.3,387.9 456.0,387.8 456.7,387.8 457.3,387.8 458.0,387.8 458.7,387.8 459.4,387.8 460.1,387.8 460.8,387.8 461.5,387.8 462.1,387.8 462.8,387.8 463.5,387.8 464.2,387.8 464.9,387.7 465.6,387.7 466.3,387.7 466.9,387.7 467.6,387.7 468.3,387.7 469.0,387.7 469.7,387.7 470.4,387.7 471.1,387.7 471.7,387.7 472.4,387.6 473.1,387.6 473.8,387.6 474.5,387.6 475.2,387.6 475.9,387.6 476.6,387.6 477.2,387.6 477.9,387.5 478.6,387.5 479.3,387.5 480.0,387.5 480.7,387.5 481.4,387.5 482.0,387.4 482.7,387.4 483.4,387.4 484.1,387.4 484.8,387.4 485.5,387.4 486.2,387.3 486.8,387.3 487.5,387.3 488.2,387.3 488.9,387.2 489.6,387.2 490.3,387.2 491.0,387.2 491.6,387.1 492.3,387.1 493.0,387.1 493.7,387.0 494.4,387.0 495.1,386.9 495.8,386.9 496.5,386.8 497.1,386.8 497.8,386.7 498.5,386.6 499.2,386.6 499.9,386.5 500.6,386.4 501.3,386.3 501.9,386.2 502.6,386.1 503.3,385.9 504.0,385.8 504.7,385.6 505.4,385.4 506.1,385.3 506.7,385.0 507.4,384.8 508.1,384.5 508.8,384.3 509.5,383.9 510.2,383.6 510.9,383.2 511.5,382.8 512.2,382.4 512.9,381.9 513.6,381.3 514.3,380.7 515.0,380.1 515.7,379.4 516.4,378.7 517.0,377.9 517.7,377.0 518.4,376.1 519.1,375.1 519.8,374.1 520.5,373.0 521.2,371.8 521.8,370.5 522.5,369.2 523.2,367.8 523.9,366.3 524.6,364.7 525.3,363.0 526.0,361.3 526.6,359.5 527.3,357.7 528.0,355.7 528.7,353.7 529.4,351.7 530.1,349.5 530.8,347.3 531.5,345.1 532.1,342.9 532.8,340.5 533.5,338.2 534.2,335.9 534.9,333.5 535.6,331.1 536.3,328.8 536.9,326.5 537.6,324.2 538.3,321.9 539.0,319.7 539.7,317.5 540.4,315.5 541.1,313.5 541.7,311.6 542.4,309.8 543.1,308.2 543.8,306.7 544.5,305.3 545.2,304.1 545.9,303.1 546.5,302.3 547.2,301.6 547.9,301.1 548.6,300.8 549.3,300.7 550.0,300.8 550.7,301.0 551.4,301.4 552.0,301.9 552.7,302.6 553.4,303.4 554.1,304.4 554.8,305.5 555.5,306.7 556.2,308.1 556.8,309.5 557.5,311.0 558.2,312.7 558.9,314.4 559.6,316.2 560.3,318.1 561.0,320.0 561.6,322.0 562.3,324.0 563.0,326.1 563.7,328.1 564.4,330.2 565.1,332.4 565.8,334.5 566.4,336.6 567.1,338.7 567.8,340.7 568.5,342.8 569.2,344.8 569.9,346.8 570.6,348.8 571.3,350.7 571.9,352.6 572.6,354.4 573.3,356.2 574.0,357.9 574.7,359.6 575.4,361.2 576.1,362.7 576.7,364.2 577.4,365.6 578.1,367.0 578.8,368.3 579.5,369.5 580.2,370.7 580.9,371.8 581.5,372.9 582.2,373.9 582.9,374.9 583.6,375.8 584.3,376.6 585.0,377.4 585.7,378.1 586.3,378.8 587.0,379.5 587.7,380.1 588.4,380.7 589.1,381.2 589.8,381.7 590.5,382.1 591.2,382.6 591.8,382.9 592.5,383.3 593.2,383.6 593.9,383.9 594.6,384.2 595.3,384.5 596.0,384.7 596.6,384.9 597.3,385.1 598.0,385.3 598.7,385.5 599.4,385.7 600.1,385.8 600.8,385.9 601.4,386.0 602.1,386.2 602.8,386.3 603.5,386.3 604.2,386.4 604.9,386.5 605.6,386.6 606.2,386.6 606.9,386.7 607.6,386.8 608.3,386.8 609.0,386.9 609.7,386.9 610.4,387.0 611.1,387.0 611.7,387.0 612.4,387.1 613.1,387.1 613.8,387.1 614.5,387.2 615.2,387.2 615.9,387.2 616.5,387.2 617.2,387.3 617.9,387.3 618.6,387.3 619.3,387.3 620.0,387.3 620.7,387.4 621.3,387.4 622.0,387.4 622.7,387.4 623.4,387.4 624.1,387.4 624.8,387.5 625.5,387.5 626.1,387.5 626.8,387.5 627.5,387.5 628.2,387.5 628.9,387.5 629.6,387.5 630.3,387.6 631.0,387.6 631.6,387.6 632.3,387.6 633.0,387.6 633.7,387.6 634.4,387.6 635.1,387.6 635.8,387.6 636.4,387.7 637.1,387.7 637.8,387.7 638.5,387.7 639.2,387.7 639.9,387.7 640.6,387.7 641.2,387.7 641.9,387.7 642.6,387.7 643.3,387.7 644.0,387.8 644.7,387.8 645.4,387.8 646.0,387.8 646.7,387.8 647.4,387.8 648.1,387.8 648.8,387.8 649.5,387.8 650.2,387.8 650.9,387.8 651.5,387.8 652.2,387.8 652.9,387.8 653.6,387.8 654.3,387.8 655.0,387.9 655.7,387.9 656.3,387.9 657.0,387.9 657.7,387.9 658.4,387.9 658.4,388.3 384.6,388.3" fill="#8ff5aa" />
<polygon points="384.6,388.3 385.3,388.3 386.0,388.3 386.7,388.3 387.3,388.3 388.0,388.3 388.7,388.3 389.4,388.3 390.1,388.3 390.8,388.2 391.5,388.2 392.1,388.2 392.8,388.2 393.5,388.2 394.2,388.2 394.9,388.2 395.6,388.2 396.3,388.2 397.0,388.2 397.6,388.2 398.3,388.2 399.0,388.2 399.7,388.2 400.4,388.2 401.1,388.2 401.8,388.2 402.4,388.2 403.1,388.2 403.8,388.2 404.5,388.2 405.2,388.2 405.9,388.2 406.6,388.2 407.2,388.2 407.9,388.2 408.6,388.2 409.3,388.2 410.0,388.2 410.7,388.2 411.4,388.2 412.0,388.2 412.7,388.2 413.4,388.2 414.1,388.2 414.8,388.2 415.5,388.2 416.2,388.2 416.9,388.2 417.5,388.2 418.2,388.2 418.9,388.2 419.6,388.2 420.3,388.2 421.0,388.2 421.7,388.2 422.3,388.2 423.0,388.2 423.7,388.2 424.4,388.2 425.1,388.2 425.8,388.2 426.5,388.2 427.1,388.2 427.8,388.2 428.5,388.2 429.2,388.2 429.9,388.2 430.6,388.2 431.3,388.2 431.9,388.2 432.6,388.2 433.3,388.2 434.0,388.2 434.7,388.2 435.4,388.2 436.1,388.2 436.8,388.2 437.4,388.2 438.1,388.2 438.8,388.2 439.5,388.2 440.2,388.2 440.9,388.2 441.6,388.2 442.2,388.2 442.9,388.2 443.6,388.2 444.3,388.2 445.0,388.2 445.7,388.2 446.4,388.2 447.0,388.2 447.7,388.1 448.4,388.1 449.1,388.1 449.8,388.1 450.5,388.1 451.2,388.1 451.8,388.1 452.5,388.1 453.2,388.1 453.9,388.1 454.6,388.1 455.3,388.1 456.0,388.1 456.7,388.1 457.3,388.1 458.0,388.1 458.7,388.1 459.4,388.1 460.1,388.1 460.8,388.1 461.5,388.1 462.1,388.1 462.8,388.0 463.5,388.0 464.2,388.0 464.9,388.0 465.6,388.0 466.3,388.0 466.9,388.0 467.6,388.0 468.3,387.9 469.0,387.9 469.7,387.9 470.4,387.9 471.1,387.9 471.7,387.8 472.4,387.8 473.1,387.8 473.8,387.8 474.5,387.7 475.2,387.7 475.9,387.6 476.6,387.6 477.2,387.5 477.9,387.5 478.6,387.4 479.3,387.4 480.0,387.3 480.7,387.2 481.4,387.2 482.0,387.1 482.7,387.0 483.4,386.9 484.1,386.8 484.8,386.7 485.5,386.5 486.2,386.4 486.8,386.3 487.5,386.1 488.2,386.0 488.9,385.8 489.6,385.7 490.3,385.5 491.0,385.3 491.6,385.1 492.3,384.9 493.0,384.7 493.7,384.4 494.4,384.2 495.1,383.9 495.8,383.7 496.5,383.4 497.1,383.1 497.8,382.9 498.5,382.6 499.2,382.3 499.9,381.9 500.6,381.6 501.3,381.3 501.9,381.0 502.6,380.6 503.3,380.3 504.0,379.9 504.7,379.6 505.4,379.2 506.1,378.9 506.7,378.6 507.4,378.2 508.1,377.9 508.8,377.5 509.5,377.2 510.2,376.9 510.9,376.5 511.5,376.2 512.2,375.9 512.9,375.6 513.6,375.4 514.3,375.1 515.0,374.9 515.7,374.6 516.4,374.4 517.0,374.2 517.7,374.1 518.4,373.9 519.1,373.8 519.8,373.7 520.5,373.7 521.2,373.6 521.8,373.6 522.5,373.6 523.2,373.6 523.9,373.7 524.6,373.8 525.3,373.9 526.0,374.0 526.6,374.2 527.3,374.3 528.0,374.5 528.7,374.8 529.4,375.0 530.1,375.2 530.8,375.5 531.5,375.8 532.1,376.1 532.8,376.4 533.5,376.7 534.2,377.0 534.9,377.4 535.6,377.7 536.3,378.0 536.9,378.4 537.6,378.7 538.3,379.1 539.0,379.4 539.7,379.8 540.4,380.1 541.1,380.5 541.7,380.8 542.4,381.2 543.1,381.5 543.8,381.8 544.5,382.1 545.2,382.4 545.9,382.7 546.5,383.0 547.2,383.3 547.9,383.6 548.6,383.8 549.3,384.1 550.0,384.3 550.7,384.6 551.4,384.8 552.0,385.0 552.7,385.2 553.4,385.4 554.1,385.6 554.8,385.8 555.5,385.9 556.2,386.1 556.8,386.2 557.5,386.4 558.2,386.5 558.9,386.6 559.6,386.7 560.3,386.8 561.0,386.9 561.6,387.0 562.3,387.1 563.0,387.2 563.7,387.3 564.4,387.3 565.1,387.4 565.8,387.5 566.4,387.5 567.1,387.6 567.8,387.6 568.5,387.7 569.2,387.7 569.9,387.7 570.6,387.8 571.3,387.8 571.9,387.8 572.6,387.9 573.3,387.9 574.0,387.9 574.7,387.9 575.4,387.9 576.1,388.0 576.7,388.0 577.4,388.0 578.1,388.0 578.8,388.0 579.5,388.0 580.2,388.0 580.9,388.0 581.5,388.0 582.2,388.1 582.9,388.1 583.6,388.1 584.3,388.1 585.0,388.1 585.7,388.1 586.3,388.1 587.0,388.1 587.7,388.1 588.4,388.1 589.1,388.1 589.8,388.1 590.5,388.1 591.2,388.1 591.8,388.1 592.5,388.1 593.2,388.1 593.9,388.1 594.6,388.1 595.3,388.1 596.0,388.1 596.6,388.2 597.3,388.2 598.0,388.2 598.7,388.2 599.4,388.2 600.1,388.2 600.8,388.2 601.4,388.2 602.1,388.2 602.8,388.2 603.5,388.2 604.2,388.2 604.9,388.2 605.6,388.2 606.2,388.2 606.9,388.2 607.6,388.2 608.3,388.2 609.0,388.2 609.7,388.2 610.4,388.2 611.1,388.2 611.7,388.2 612.4,388.2 613.1,388.2 613.8,388.2 614.5,388.2 615.2,388.2 615.9,388.2 616.5,388.2 617.2,388.2 617.9,388.2 618.6,388.2 619.3,388.2 620.0,388.2 620.7,388.2 621.3,388.2 622.0,388.2 622.7,388.2 623.4,388.2 624.1,388.2 624.8,388.2 625.5,388.2 626.1,388.2 626.8,388.2 627.5,388.2 628.2,388.2 628.9,388.2 629.6,388.2 630.3,388.2 631.0,388.2 631.6,388.2 632.3,388.2 633.0,388.2 633.7,388.2 634.4,388.2 635.1,388.2 635.8,388.2 636.4,388.2 637.1,388.2 637.8,388.2 638.5,388.2 639.2,388.2 639.9,388.2 640.6,388.2 641.2,388.2 641.9,388.2 642.6,388.2 643.3,388.2 644.0,388.2 644.7,388.2 645.4,388.2 646.0,388.2 646.7,388.2 647.4,388.2 648.1,388.2 648.8,388.2 649.5,388.2 650.2,388.2 650.9,388.2 651.5,388.2 652.2,388.2 652.9,388.2 653.6,388.3 654.3,388.3 655.0,388.3 655.7,388.3 656.3,388.3 657.0,388.3 657.7,388.3 658.4,388.3 658.4,388.3 384.6,388.3" fill="#b8b8f8" />
<polygon points="384.6,388.3 385.3,388.3 386.0,388.3 386.7,388.3 387.3,388.3 388.0,388.3 388.7,388.3 389.4,388.3 390.1,388.3 390.8,388.2 391.5,388.2 392.1,388.2 392.8,388.2 393.5,388.2 394.2,388.2 394.9,388.2 395.6,388.2 396.3,388.2 397.0,388.2 397.6,388.2 398.3,388.2 399.0,388.2 399.7,388.2 400.4,388.2 401.1,388.2 401.8,388.2 402.4,388.2 403.1,388.2 403.8,388.2 404.5,388.2 405.2,388.2 405.9,388.2 406.6,388.2 407.2,388.2 407.9,388.2 408.6,388.2 409.3,388.2 410.0,388.2 410.7,388.2 411.4,388.2 412.0,388.2 412.7,388.2 413.4,388.2 414.1,388.2 414.8,388.2 415.5,388.2 416.2,388.2 416.9,388.2 417.5,388.2 418.2,388.2 418.9,388.2 419.6,388.2 420.3,388.2 421.0,388.2 421.7,388.2 422.3,388.2 423.0,388.2 423.7,388.2 424.4,388.2 425.1,388.2 425.8,388.2 426.5,388.2 427.1,388.2 427.8,388.2 428.5,388.2 429.2,388.2 429.9,388.2 430.6,388.2 431.3,388.2 431.9,388.2 432.6,388.2 433.3,388.2 434.0,388.2 434.7,388.2 435.4,388.2 436.1,388.2 436.8,388.2 437.4,388.2 438.1,388.2 438.8,388.2 439.5,388.2 440.2,388.2 440.9,388.2 441.6,388.2 442.2,388.2 442.9,388.2 443.6,388.2 444.3,388.2 445.0,388.2 445.7,388.2 446.4,388.2 447.0,388.2 447.7,388.1 448.4,388.1 449.1,388.1 449.8,388.1 450.5,388.1 451.2,388.1 451.8,388.1 452.5,388.1 453.2,388.1 453.9,388.1 454.6,388.1 455.3,388.1 456.0,388.1 456.7,388.1 457.3,388.1 458.0,388.1 458.7,388.1 459.4,388.1 460.1,388.1 460.8,388.1 461.5,388.1 462.1,388.1 462.8,388.0 463.5,388.0 464.2,388.0 464.9,388.0 465.6,388.0 466.3,388.0 466.9,388.0 467.6,388.0 468.3,387.9 469.0,387.9 469.7,387.9 470.4,387.9 471.1,387.9 471.7,387.8 472.4,387.8 473.1,387.8 473.8,387.8 474.5,387.7 475.2,387.7 475.9,387.6 476.6,387.6 477.2,387.6 477.9,387.5 478.6,387.5 479.3,387.5 480.0,387.5 480.7,387.5 481.4,387.5 482.0,387.4 482.7,387.4 483.4,387.4 484.1,387.4 484.8,387.4 485.5,387.4 486.2,387.3 486.8,387.3 487.5,387.3 488.2,387.3 488.9,387.2 489.6,387.2 490.3,387.2 491.0,387.2 491.6,387.1 492.3,387.1 493.0,387.1 493.7,387.0 494.4,387.0 495.1,386.9 495.8,386.9 496.5,386.8 497.1,386.8 497.8,386.7 498.5,386.6 499.2,386.6 499.9,386.5 500.6,386.4 501.3,386.3 501.9,386.2 502.6,386.1 503.3,385.9 504.0,385.8 504.7,385.6 505.4,385.4 506.1,385.3 506.7,385.0 507.4,384.8 508.1,384.5 508.8,384.3 509.5,383.9 510.2,383.6 510.9,383.2 511.5,382.8 512.2,382.4 512.9,381.9 513.6,381.3 514.3,380.7 515.0,380.1 515.7,379.4 516.4,378.7 517.0,377.9 517.7,377.0 518.4,376.1 519.1,375.1 519.8,374.1 520.5,373.7 521.2,373.6 521.8,373.6 522.5,373.6 523.2,373.6 523.9,373.7 524.6,373.8 525.3,373.9 526.0,374.0 526.6,374.2 527.3,374.3 528.0,374.5 528.7,374.8 529.4,375.0 530.1,375.2 530.8,375.5 531.5,375.8 532.1,376.1 532.8,376.4 533.5,376.7 534.2,377.0 534.9,377.4 535.6,377.7 536.3,378.0 536.9,378.4 537.6,378.7 538.3,379.1 539.0,379.4 539.7,379.8 540.4,380.1 541.1,380.5 541.7,380.8 542.4,381.2 543.1,381.5 543.8,381.8 544.5,382.1 545.2,382.4 545.9,382.7 546.5,383.0 547.2,383.3 547.9,383.6 548.6,383.8 549.3,384.1 550.0,384.3 550.7,384.6 551.4,384.8 552.0,385.0 552.7,385.2 553.4,385.4 554.1,385.6 554.8,385.8 555.5,385.9 556.2,386.1 556.8,386.2 557.5,386.4 558.2,386.5 558.9,386.6 559.6,386.7 560.3,386.8 561.0,386.9 561.6,387.0 562.3,387.1 563.0,387.2 563.7,387.3 564.4,387.3 565.1,387.4 565.8,387.5 566.4,387.5 567.1,387.6 567.8,387.6 568.5,387.7 569.2,387.7 569.9,387.7 570.6,387.8 571.3,387.8 571.9,387.8 572.6,387.9 573.3,387.9 574.0,387.9 574.7,387.9 575.4,387.9 576.1,388.0 576.7,388.0 577.4,388.0 578.1,388.0 578.8,388.0 579.5,388.0 580.2,388.0 580.9,388.0 581.5,388.0 582.2,388.1 582.9,388.1 583.6,388.1 584.3,388.1 585.0,388.1 585.7,388.1 586.3,388.1 587.0,388.1 587.7,388.1 588.4,388.1 589.1,388.1 589.8,388.1 590.5,388.1 591.2,388.1 591.8,388.1 592.5,388.1 593.2,388.1 593.9,388.1 594.6,388.1 595.3,388.1 596.0,388.1 596.6,388.2 597.3,388.2 598.0,388.2 598.7,388.2 599.4,388.2 600.1,388.2 600.8,388.2 601.4,388.2 602.1,388.2 602.8,388.2 603.5,388.2 604.2,388.2 604.9,388.2 605.6,388.2 606.2,388.2 606.9,388.2 607.6,388.2 608.3,388.2 609.0,388.2 609.7,388.2 610.4,388.2 611.1,388.2 611.7,388.2 612.4,388.2 613.1,388.2 613.8,388.2 614.5,388.2 615.2,388.2 615.9,388.2 616.5,388.2 617.2,388.2 617.9,388.2 618.6,388.2 619.3,388.2 620.0,388.2 620.7,388.2 621.3,388.2 622.0,388.2 622.7,388.2 623.4,388.2 624.1,388.2 624.8,388.2 625.5,388.2 626.1,388.2 626.8,388.2 627.5,388.2 628.2,388.2 628.9,388.2 629.6,388.2 630.3,388.2 631.0,388.2 631.6,388.2 632.3,388.2 633.0,388.2 633.7,388.2 634.4,388.2 635.1,388.2 635.8,388.2 636.4,388.2 637.1,388.2 637.8,388.2 638.5,388.2 639.2,388.2 639.9,388.2 640.6,388.2 641.2,388.2 641.9,388.2 642.6,388.2 643.3,388.2 644.0,388.2 644.7,388.2 645.4,388.2 646.0,388.2 646.7,388.2 647.4,388.2 648.1,388.2 648.8,388.2 649.5,388.2 650.2,388.2 650.9,388.2 651.5,388.2 652.2,388.2 652.9,388.2 653.6,388.3 654.3,388.3 655.0,388.3 655.7,388.3 656.3,388.3 657.0,388.3 657.7,388.3 658.4,388.3 658.4,388.3 384.6,388.3" fill="#6cb8d0" />
<polyline points="384.6,388.1 385.3,388.1 386.0,388.1 386.7,388.1 387.3,388.1 388.0,388.1 388.7,388.1 389.4,388.1 390.1,388.1 390.8,388.1 391.5,388.1 392.1,388.1 392.8,388.1 393.5,388.1 394.2,388.1 394.9,388.1 395.6,388.1 396.3,388.1 397.0,388.1 397.6,388.1 398.3,388.1 399.0,388.1 399.7,388.1 400.4,388.1 401.1,388.1 401.8,388.1 402.4,388.1 403.1,388.1 403.8,388.0 404.5,388.0 405.2,388.0 405.9,388.0 406.6,388.0 407.2,388.0 407.9,388.0 408.6,388.0 409.3,388.0 410.0,388.0 410.7,388.0 411.4,388.0 412.0,388.0 412.7,388.0 413.4,388.0 414.1,388.0 414.8,388.0 415.5,388.0 416.2,388.0 416.9,388.0 417.5,388.0 418.2,388.0 418.9,388.0 419.6,388.0 420.3,388.0 421.0,388.0 421.7,388.0 422.3,388.0 423.0,388.0 423.7,388.0 424.4,388.0 425.1,387.9 425.8,387.9 426.5,387.9 427.1,387.9 427.8,387.9 428.5,387.9 429.2,387.9 429.9,387.9 430.6,387.9 431.3,387.9 431.9,387.9 432.6,387.9 433.3,387.9 434.0,387.9 434.7,387.9 435.4,387.9 436.1,387.9 436.8,387.9 437.4,387.9 438.1,387.9 438.8,387.9 439.5,387.8 440.2,387.8 440.9,387.8 441.6,387.8 442.2,387.8 442.9,387.8 443.6,387.8 444.3,387.8 445.0,387.8 445.7,387.8 446.4,387.8 447.0,387.8 447.7,387.8 448.4,387.8 449.1,387.7 449.8,387.7 450.5,387.7 451.2,387.7 451.8,387.7 452.5,387.7 453.2,387.7 453.9,387.7 454.6,387.7 455.3,387.7 456.0,387.7 456.7,387.6 457.3,387.6 458.0,387.6 458.7,387.6 459.4,387.6 460.1,387.6 460.8,387.6 461.5,387.6 462.1,387.5 462.8,387.5 463.5,387.5 464.2,387.5 464.9,387.5 465.6,387.4 466.3,387.4 466.9,387.4 467.6,387.4 468.3,387.3 469.0,387.3 469.7,387.3 470.4,387.3 471.1,387.2 471.7,387.2 472.4,387.2 473.1,387.1 473.8,387.1 474.5,387.0 475.2,387.0 475.9,386.9 476.6,386.9 477.2,386.8 477.9,386.7 478.6,386.7 479.3,386.6 480.0,386.5 480.7,386.4 481.4,386.3 482.0,386.2 482.7,386.1 483.4,386.0 484.1,385.9 484.8,385.7 485.5,385.6 486.2,385.5 486.8,385.3 487.5,385.1 488.2,385.0 488.9,384.8 489.6,384.6 490.3,384.4 491.0,384.2 491.6,383.9 492.3,383.7 493.0,383.4 493.7,383.2 494.4,382.9 495.1,382.6 495.8,382.3 496.5,382.0 497.1,381.6 497.8,381.3 498.5,380.9 499.2,380.5 499.9,380.1 500.6,379.7 501.3,379.3 501.9,378.9 502.6,378.4 503.3,377.9 504.0,377.4 504.7,376.9 505.4,376.4 506.1,375.9 506.7,375.3 507.4,374.7 508.1,374.1 508.8,373.5 509.5,372.8 510.2,372.1 510.9,371.5 511.5,370.7 512.2,370.0 512.9,369.2 513.6,368.4 514.3,367.5 515.0,366.7 515.7,365.8 516.4,364.8 517.0,363.8 517.7,362.8 518.4,361.8 519.1,360.7 519.8,359.5 520.5,358.3 521.2,357.1 521.8,355.8 522.5,354.5 523.2,353.1 523.9,351.7 524.6,350.2 525.3,348.6 526.0,347.0 526.6,345.4 527.3,343.7 528.0,342.0 528.7,340.2 529.4,338.3 530.1,336.5 530.8,334.6 531.5,332.6 532.1,330.6 532.8,328.6 533.5,326.6 534.2,324.6 534.9,322.6 535.6,320.5 536.3,318.5 536.9,316.5 537.6,314.6 538.3,312.7 539.0,310.8 539.7,309.0 540.4,307.3 541.1,305.7 541.7,304.1 542.4,302.7 543.1,301.4 543.8,300.2 544.5,299.2 545.2,298.3 545.9,297.5 546.5,297.0 547.2,296.6 547.9,296.4 548.6,296.3 549.3,296.5 550.0,296.8 550.7,297.3 551.4,297.9 552.0,298.6 552.7,299.5 553.4,300.5 554.1,301.7 554.8,303.0 555.5,304.3 556.2,305.8 556.8,307.4 557.5,309.1 558.2,310.9 558.9,312.7 559.6,314.6 560.3,316.6 561.0,318.7 561.6,320.7 562.3,322.8 563.0,325.0 563.7,327.1 564.4,329.3 565.1,331.5 565.8,333.6 566.4,335.8 567.1,337.9 567.8,340.1 568.5,342.2 569.2,344.2 569.9,346.3 570.6,348.3 571.3,350.2 571.9,352.1 572.6,354.0 573.3,355.7 574.0,357.5 574.7,359.2 575.4,360.8 576.1,362.4 576.7,363.9 577.4,365.3 578.1,366.7 578.8,368.0 579.5,369.3 580.2,370.4 580.9,371.6 581.5,372.7 582.2,373.7 582.9,374.6 583.6,375.5 584.3,376.4 585.0,377.2 585.7,377.9 586.3,378.6 587.0,379.3 587.7,379.9 588.4,380.5 589.1,381.0 589.8,381.5 590.5,382.0 591.2,382.4 591.8,382.8 592.5,383.1 593.2,383.5 593.9,383.8 594.6,384.1 595.3,384.3 596.0,384.6 596.6,384.8 597.3,385.0 598.0,385.2 598.7,385.4 599.4,385.5 600.1,385.7 600.8,385.8 601.4,385.9 602.1,386.0 602.8,386.1 603.5,386.2 604.2,386.3 604.9,386.4 605.6,386.5 606.2,386.5 606.9,386.6 607.6,386.7 608.3,386.7 609.0,386.8 609.7,386.8 610.4,386.8 611.1,386.9 611.7,386.9 612.4,387.0 613.1,387.0 613.8,387.0 614.5,387.1 615.2,387.1 615.9,387.1 616.5,387.1 617.2,387.2 617.9,387.2 618.6,387.2 619.3,387.2 620.0,387.2 620.7,387.3 621.3,387.3 622.0,387.3 622.7,387.3 623.4,387.3 624.1,387.4 624.8,387.4 625.5,387.4 626.1,387.4 626.8,387.4 627.5,387.4 628.2,387.4 628.9,387.5 629.6,387.5 630.3,387.5 631.0,387.5 631.6,387.5 632.3,387.5 633.0,387.5 633.7,387.5 634.4,387.6 635.1,387.6 635.8,387.6 636.4,387.6 637.1,387.6 637.8,387.6 638.5,387.6 639.2,387.6 639.9,387.6 640.6,387.6 641.2,387.7 641.9,387.7 642.6,387.7 643.3,387.7 644.0,387.7 644.7,387.7 645.4,387.7 646.0,387.7 646.7,387.7 647.4,387.7 648.1,387.7 648.8,387.7 649.5,387.8 650.2,387.8 650.9,387.8 651.5,387.8 652.2,387.8 652.9,387.8 653.6,387.8 654.3,387.8 655.0,387.8 655.7,387.8 656.3,387.8 657.0,387.8 657.7,387.8 658.4,387.8" fill="none" stroke="#222" stroke-width="0.9" stroke-linejoin="round" />
<circle cx="384.6" cy="389.5" r="2.2" fill="none" stroke="#f05a5a" stroke-width="1.0"/>
<circle cx="389.2" cy="386.7" r="2.2" fill="none" stroke="#f05a5a" stroke-width="1.0"/>
<circle cx="393.8" cy="387.7" r="2.2" fill="none" stroke="#f05a5a" stroke-width="1.0"/>
<circle cx="398.4" cy="390.5" r="2.2" fill="none" stroke="#f05a5a" stroke-width="1.0"/>
<circle cx="402.9" cy="386.6" r="2.2" fill="none" stroke="#f05a5a" stroke-width="1.0"/>
<circle cx="407.5" cy="387.0" r="2.2" fill="none" stroke="#f05a5a" stroke-width="1.0"/>
<circle cx="412.1" cy="389.7" r="2.2" fill="none" stroke="#f05a5a" stroke-width="1.0"/>
<circle cx="416.7" cy="386.3" r="2.2" fill="none" stroke="#f05a5a" stroke-width="1.0"/>
<circle cx="421.3" cy="387.1" r="2.2" fill="none" stroke="#f05a5a" stroke-width="1.0"/>
<circle cx="425.9" cy="388.3" r="2.2" fill="none" stroke="#f05a5a" stroke-width="1.0"/>
<circle cx="430.4" cy="388.2" r="2.2" fill="none" stroke="#f05a5a" stroke-width="1.0"/>
<circle cx="435.0" cy="388.3" r="2.2" fill="none" stroke="#f05a5a" stroke-width="1.0"/>
<circle cx="439.6" cy="388.0" r="2.2" fill="none" stroke="#f05a5a" stroke-width="1.0"/>
<circle cx="444.2" cy="389.2" r="2.2" fill="none" stroke="#f05a5a" stroke-width="1.0"/>
<circle cx="448.8" cy="388.7" r="2.2" fill="none" stroke="#f05a5a" stroke-width="1.0"/>
<circle cx="453.4" cy="388.1" r="2.2" fill="none" stroke="#f05a5a" stroke-width="1.0"/>
<circle cx="457.9" cy="386.4" r="2.2" fill="none" stroke="#f05a5a" stroke-width="1.0"/>
<circle cx="462.5" cy="386.2" r="2.2" fill="none" stroke="#f05a5a" stroke-width="1.0"/>
<circle cx="467.1" cy="384.5" r="2.2" fill="none" stroke="#f05a5a" stroke-width="1.0"/>
<circle cx="471.7" cy="387.6" r="2.2" fill="none" stroke="#f05a5a" stroke-width="1.0"/>
<circle cx="476.3" cy="384.0" r="2.2" fill="none" stroke="#f05a5a" stroke-width="1.0"/>
<circle cx="480.9" cy="386.9" r="2.2" fill="none" stroke="#f05a5a" stroke-width="1.0"/>
<circle cx="485.4" cy="387.2" r="2.2" fill="none" stroke="#f05a5a" stroke-width="1.0"/>
<circle cx="490.0" cy="382.2" r="2.2" fill="none" stroke="#f05a5a" stroke-width="1.0"/>
<circle cx="494.6" cy="380.9" r="2.2" fill="none" stroke="#f05a5a" stroke-width="1.0"/>
<circle cx="499.2" cy="378.7" r="2.2" fill="none" stroke="#f05a5a" stroke-width="1.0"/>
<circle cx="503.8" cy="377.4" r="2.2" fill="none" stroke="#f05a5a" stroke-width="1.0"/>
<circle cx="508.4" cy="371.2" r="2.2" fill="none" stroke="#f05a5a" stroke-width="1.0"/>
<circle cx="513.0" cy="367.1" r="2.2" fill="none" stroke="#f05a5a" stroke-width="1.0"/>
<circle cx="517.5" cy="360.0" r="2.2" fill="none" stroke="#f05a5a" stroke-width="1.0"/>
<circle cx="522.1" cy="352.0" r="2.2" fill="none" stroke="#f05a5a" stroke-width="1.0"/>
<circle cx="526.7" cy="343.7" r="2.2" fill="none" stroke="#f05a5a" stroke-width="1.0"/>
<circle cx="531.3" cy="328.8" r="2.2" fill="none" stroke="#f05a5a" stroke-width="1.0"/>
<circle cx="535.9" cy="317.5" r="2.2" fill="none" stroke="#f05a5a" stroke-width="1.0"/>
<circle cx="540.5" cy="306.4" r="2.2" fill="none" stroke="#f05a5a" stroke-width="1.0"/>
<circle cx="545.0" cy="299.6" r="2.2" fill="none" stroke="#f05a5a" stroke-width="1.0"/>
<circle cx="549.6" cy="295.5" r="2.2" fill="none" stroke="#f05a5a" stroke-width="1.0"/>
<circle cx="554.2" cy="303.4" r="2.2" fill="none" stroke="#f05a5a" stroke-width="1.0"/>
<circle cx="558.8" cy="312.1" r="2.2" fill="none" stroke="#f05a5a" stroke-width="1.0"/>
<circle cx="563.4" cy="325.2" r="2.2" fill="none" stroke="#f05a5a" stroke-width="1.0"/>
<circle cx="568.0" cy="337.7" r="2.2" fill="none" stroke="#f05a5a" stroke-width="1.0"/>
<circle cx="572.5" cy="348.2" r="2.2" fill="none" stroke="#f05a5a" stroke-width="1.0"/>
<circle cx="577.1" cy="360.4" r="2.2" fill="none" stroke="#f05a5a" stroke-width="1.0"/>
<circle cx="581.7" cy="371.0" r="2.2" fill="none" stroke="#f05a5a" stroke-width="1.0"/>
<circle cx="586.3" cy="376.2" r="2.2" fill="none" stroke="#f05a5a" stroke-width="1.0"/>
<circle cx="590.9" cy="380.3" r="2.2" fill="none" stroke="#f05a5a" stroke-width="1.0"/>
<circle cx="595.5" cy="385.4" r="2.2" fill="none" stroke="#f05a5a" stroke-width="1.0"/>
<circle cx="600.0" cy="387.6" r="2.2" fill="none" stroke="#f05a5a" stroke-width="1.0"/>
<circle cx="604.6" cy="385.6" r="2.2" fill="none" stroke="#f05a5a" stroke-width="1.0"/>
<circle cx="609.2" cy="388.7" r="2.2" fill="none" stroke="#f05a5a" stroke-width="1.0"/>
<circle cx="613.8" cy="384.0" r="2.2" fill="none" stroke="#f05a5a" stroke-width="1.0"/>
<circle cx="618.4" cy="384.1" r="2.2" fill="none" stroke="#f05a5a" stroke-width="1.0"/>
<circle cx="623.0" cy="388.1" r="2.2" fill="none" stroke="#f05a5a" stroke-width="1.0"/>
<circle cx="627.6" cy="386.7" r="2.2" fill="none" stroke="#f05a5a" stroke-width="1.0"/>
<circle cx="632.1" cy="387.9" r="2.2" fill="none" stroke="#f05a5a" stroke-width="1.0"/>
<circle cx="636.7" cy="387.9" r="2.2" fill="none" stroke="#f05a5a" stroke-width="1.0"/>
<circle cx="641.3" cy="387.2" r="2.2" fill="none" stroke="#f05a5a" stroke-width="1.0"/>
<circle cx="645.9" cy="388.2" r="2.2" fill="none" stroke="#f05a5a" stroke-width="1.0"/>
<circle cx="650.5" cy="387.6" r="2.2" fill="none" stroke="#f05a5a" stroke-width="1.0"/>
<circle cx="655.1" cy="385.5" r="2.2" fill="none" stroke="#f05a5a" stroke-width="1.0"/>
<circle cx="658.1" cy="387.8" r="2.2" fill="none" stroke="#f05a5a" stroke-width="1.0"/>
<rect x="384.6" y="187.5" width="273.8" height="220.7" stroke="#3a3a3a" stroke-width="1.1" fill="none"/>
<line x1="384.6" y1="408.2" x2="384.6" y2="412.4" stroke="#3a3a3a" stroke-width="1.0"/>
<line x1="396.1" y1="408.2" x2="396.1" y2="410.4" stroke="#3a3a3a" stroke-width="1.0"/>
<line x1="407.5" y1="408.2" x2="407.5" y2="412.4" stroke="#3a3a3a" stroke-width="1.0"/>
<line x1="419.0" y1="408.2" x2="419.0" y2="410.4" stroke="#3a3a3a" stroke-width="1.0"/>
<line x1="430.4" y1="408.2" x2="430.4" y2="412.4" stroke="#3a3a3a" stroke-width="1.0"/>
<line x1="441.9" y1="408.2" x2="441.9" y2="410.4" stroke="#3a3a3a" stroke-width="1.0"/>
<line x1="453.4" y1="408.2" x2="453.4" y2="412.4" stroke="#3a3a3a" stroke-width="1.0"/>
<line x1="464.8" y1="408.2" x2="464.8" y2="410.4" stroke="#3a3a3a" stroke-width="1.0"/>
<line x1="476.3" y1="408.2" x2="476.3" y2="412.4" stroke="#3a3a3a" stroke-width="1.0"/>
<line x1="487.7" y1="408.2" x2="487.7" y2="410.4" stroke="#3a3a3a" stroke-width="1.0"/>
<line x1="499.2" y1="408.2" x2="499.2" y2="412.4" stroke="#3a3a3a" stroke-width="1.0"/>
<line x1="510.7" y1="408.2" x2="510.7" y2="410.4" stroke="#3a3a3a" stroke-width="1.0"/>
<line x1="522.1" y1="408.2" x2="522.1" y2="412.4" stroke="#3a3a3a" stroke-width="1.0"/>
<line x1="533.6" y1="408.2" x2="533.6" y2="410.4" stroke="#3a3a3a" stroke-width="1.0"/>
<line x1="545.0" y1="408.2" x2="545.0" y2="412.4" stroke="#3a3a3a" stroke-width="1.0"/>
<line x1="556.5" y1="408.2" x2="556.5" y2="410.4" stroke="#3a3a3a" stroke-width="1.0"/>
<line x1="568.0" y1="408.2" x2="568.0" y2="412.4" stroke="#3a3a3a" stroke-width="1.0"/>
<line x1="579.4" y1="408.2" x2="579.4" y2="410.4" stroke="#3a3a3a" stroke-width="1.0"/>
<line x1="590.9" y1="408.2" x2="590.9" y2="412.4" stroke="#3a3a3a" stroke-width="1.0"/>
<line x1="602.3" y1="408.2" x2="602.3" y2="410.4" stroke="#3a3a3a" stroke-width="1.0"/>
<line x1="613.8" y1="408.2" x2="613.8" y2="412.4" stroke="#3a3a3a" stroke-width="1.0"/>
<line x1="625.3" y1="408.2" x2="625.3" y2="410.4" stroke="#3a3a3a" stroke-width="1.0"/>
<line x1="636.7" y1="408.2" x2="636.7" y2="412.4" stroke="#3a3a3a" stroke-width="1.0"/>
<line x1="648.2" y1="408.2" x2="648.2" y2="410.4" stroke="#3a3a3a" stroke-width="1.0"/>
<line x1="659.6" y1="408.2" x2="659.6" y2="412.4" stroke="#3a3a3a" stroke-width="1.0"/>
<text x="384.6" y="423.3" font-size="9.6" text-anchor="middle" fill="#141414" stroke="#141414" stroke-width="0.28" >695</text>
<text x="407.5" y="423.3" font-size="9.6" text-anchor="middle" fill="#141414" stroke="#141414" stroke-width="0.28" >694</text>
<text x="430.4" y="423.3" font-size="9.6" text-anchor="middle" fill="#141414" stroke="#141414" stroke-width="0.28" >693</text>
<text x="453.4" y="423.3" font-size="9.6" text-anchor="middle" fill="#141414" stroke="#141414" stroke-width="0.28" >692</text>
<text x="476.3" y="423.3" font-size="9.6" text-anchor="middle" fill="#141414" stroke="#141414" stroke-width="0.28" >691</text>
<text x="499.2" y="423.3" font-size="9.6" text-anchor="middle" fill="#141414" stroke="#141414" stroke-width="0.28" >690</text>
<text x="522.1" y="423.3" font-size="9.6" text-anchor="middle" fill="#141414" stroke="#141414" stroke-width="0.28" >689</text>
<text x="545.0" y="423.3" font-size="9.6" text-anchor="middle" fill="#141414" stroke="#141414" stroke-width="0.28" >688</text>
<text x="568.0" y="423.3" font-size="9.6" text-anchor="middle" fill="#141414" stroke="#141414" stroke-width="0.28" >687</text>
<text x="590.9" y="423.3" font-size="9.6" text-anchor="middle" fill="#141414" stroke="#141414" stroke-width="0.28" >686</text>
<text x="613.8" y="423.3" font-size="9.6" text-anchor="middle" fill="#141414" stroke="#141414" stroke-width="0.28" >685</text>
<text x="636.7" y="423.3" font-size="9.6" text-anchor="middle" fill="#141414" stroke="#141414" stroke-width="0.28" >684</text>
<text x="659.6" y="423.3" font-size="9.6" text-anchor="middle" fill="#141414" stroke="#141414" stroke-width="0.28" >683</text>
<text x="522.3" y="440.2" font-size="11.5" text-anchor="middle" fill="#141414" stroke="#141414" stroke-width="0.28" >Binding energy (eV)</text>
<text transform="translate(375.6,299.7) rotate(-90)" font-size="11.6" text-anchor="middle" fill="#141414" stroke="#141414" stroke-width="0.28">Normalized intensity</text>
<text x="400.6" y="211.3" font-size="11.5" fill="#141414" stroke="#141414" stroke-width="0.28" >F1s</text>
<text x="393.6" y="274.6" font-size="11.4" fill="#141414" stroke="#141414" stroke-width="0.28" >-irr</text>
<text x="394.0" y="379.0" font-size="11.4" fill="#141414" stroke="#141414" stroke-width="0.28" >-pristine</text>
<circle cx="583.2" cy="199.6" r="2.2" fill="none" stroke="#f05a5a" stroke-width="1.0"/>
<text x="595.0" y="202.6" font-size="8.4" fill="#141414" stroke="#141414" stroke-width="0.12" >Raw spectrum</text>
<line x1="574.0" y1="209.9" x2="593.0" y2="209.9" stroke="#222" stroke-width="0.9"/>
<text x="595.0" y="212.9" font-size="8.4" fill="#141414" stroke="#141414" stroke-width="0.12" >Fitted spectrum</text>
<rect x="574" y="215.6" width="18" height="9.3" fill="#8ff5aa"/>
<text x="595.0" y="223.0" font-size="8.4" fill="#141414" stroke="#141414" stroke-width="0.12" >Semi-ionic C-F</text>
<rect x="574" y="226.0" width="18" height="9.3" fill="#b8b8f8"/>
<text x="595.0" y="233.4" font-size="8.4" fill="#141414" stroke="#141414" stroke-width="0.12" >Covalent C-F</text>
<polygon points="25.7,595.4 26.4,595.4 27.1,595.4 27.8,595.4 28.5,595.4 29.1,595.3 29.8,595.3 30.5,595.3 31.2,595.3 31.9,595.3 32.6,595.3 33.3,595.2 34.0,595.2 34.7,595.2 35.3,595.2 36.0,595.1 36.7,595.1 37.4,595.0 38.1,595.0 38.8,595.0 39.5,594.9 40.2,594.9 40.9,594.8 41.5,594.8 42.2,594.7 42.9,594.6 43.6,594.6 44.3,594.5 45.0,594.4 45.7,594.3 46.4,594.2 47.1,594.1 47.7,594.0 48.4,593.9 49.1,593.8 49.8,593.7 50.5,593.6 51.2,593.4 51.9,593.3 52.6,593.2 53.3,593.0 53.9,592.8 54.6,592.7 55.3,592.5 56.0,592.3 56.7,592.1 57.4,591.9 58.1,591.7 58.8,591.5 59.5,591.3 60.1,591.0 60.8,590.8 61.5,590.5 62.2,590.2 62.9,590.0 63.6,589.7 64.3,589.4 65.0,589.1 65.7,588.8 66.3,588.5 67.0,588.2 67.7,587.8 68.4,587.5 69.1,587.1 69.8,586.8 70.5,586.4 71.2,586.1 71.9,585.7 72.6,585.3 73.2,584.9 73.9,584.6 74.6,584.2 75.3,583.8 76.0,583.4 76.7,583.0 77.4,582.6 78.1,582.2 78.8,581.8 79.4,581.4 80.1,581.1 80.8,580.7 81.5,580.3 82.2,579.9 82.9,579.6 83.6,579.2 84.3,578.8 85.0,578.5 85.6,578.2 86.3,577.8 87.0,577.5 87.7,577.2 88.4,576.9 89.1,576.7 89.8,576.4 90.5,576.1 91.2,575.9 91.8,575.7 92.5,575.5 93.2,575.3 93.9,575.1 94.6,575.0 95.3,574.9 96.0,574.8 96.7,574.7 97.4,574.6 98.0,574.5 98.7,574.5 99.4,574.5 100.1,574.5 100.8,574.5 101.5,574.6 102.2,574.6 102.9,574.7 103.6,574.8 104.2,575.0 104.9,575.1 105.6,575.3 106.3,575.4 107.0,575.6 107.7,575.9 108.4,576.1 109.1,576.3 109.8,576.6 110.4,576.9 111.1,577.1 111.8,577.4 112.5,577.8 113.2,578.1 113.9,578.4 114.6,578.8 115.3,579.1 116.0,579.5 116.6,579.8 117.3,580.2 118.0,580.6 118.7,581.0 119.4,581.3 120.1,581.7 120.8,582.1 121.5,582.5 122.2,582.9 122.8,583.3 123.5,583.7 124.2,584.1 124.9,584.5 125.6,584.8 126.3,585.2 127.0,585.6 127.7,586.0 128.4,586.3 129.0,586.7 129.7,587.1 130.4,587.4 131.1,587.7 131.8,588.1 132.5,588.4 133.2,588.7 133.9,589.0 134.6,589.3 135.2,589.6 135.9,589.9 136.6,590.2 137.3,590.4 138.0,590.7 138.7,591.0 139.4,591.2 140.1,591.4 140.8,591.6 141.4,591.9 142.1,592.1 142.8,592.3 143.5,592.5 144.2,592.6 144.9,592.8 145.6,593.0 146.3,593.1 147.0,593.3 147.6,593.4 148.3,593.6 149.0,593.7 149.7,593.8 150.4,593.9 151.1,594.0 151.8,594.1 152.5,594.2 153.2,594.3 153.8,594.4 154.5,594.5 155.2,594.5 155.9,594.6 156.6,594.7 157.3,594.7 158.0,594.8 158.7,594.9 159.4,594.9 160.0,595.0 160.7,595.0 161.4,595.0 162.1,595.1 162.8,595.1 163.5,595.1 164.2,595.2 164.9,595.2 165.6,595.2 166.3,595.3 166.9,595.3 167.6,595.3 168.3,595.3 169.0,595.3 169.7,595.3 170.4,595.4 171.1,595.4 171.8,595.4 172.5,595.4 173.1,595.4 173.8,595.4 174.5,595.4 175.2,595.4 175.9,595.4 176.6,595.4 177.3,595.4 178.0,595.5 178.7,595.5 179.3,595.5 180.0,595.5 180.7,595.5 181.4,595.5 182.1,595.5 182.8,595.5 183.5,595.5 184.2,595.5 184.9,595.5 185.5,595.5 186.2,595.5 186.9,595.5 187.6,595.5 188.3,595.5 189.0,595.5 189.7,595.5 190.4,595.5 191.1,595.5 191.7,595.5 192.4,595.5 193.1,595.5 193.8,595.5 194.5,595.5 195.2,595.5 195.9,595.5 196.6,595.5 197.3,595.5 197.9,595.5 198.6,595.5 199.3,595.5 200.0,595.5 200.7,595.5 201.4,595.5 202.1,595.5 202.8,595.5 203.5,595.5 204.1,595.5 204.8,595.5 205.5,595.5 206.2,595.5 206.9,595.5 207.6,595.5 208.3,595.5 209.0,595.5 209.7,595.5 210.3,595.5 211.0,595.5 211.7,595.5 212.4,595.5 213.1,595.5 213.8,595.5 214.5,595.5 215.2,595.5 215.9,595.5 216.5,595.5 217.2,595.5 217.9,595.5 218.6,595.5 219.3,595.5 220.0,595.5 220.7,595.5 221.4,595.5 222.1,595.5 222.7,595.5 223.4,595.5 224.1,595.5 224.8,595.5 225.5,595.5 226.2,595.5 226.9,595.5 227.6,595.5 228.3,595.5 228.9,595.5 229.6,595.5 230.3,595.5 231.0,595.5 231.7,595.5 232.4,595.5 233.1,595.5 233.8,595.5 234.5,595.5 235.1,595.5 235.8,595.5 236.5,595.5 237.2,595.5 237.9,595.5 238.6,595.5 239.3,595.5 240.0,595.5 240.7,595.5 241.3,595.5 242.0,595.5 242.7,595.5 243.4,595.5 244.1,595.5 244.8,595.5 245.5,595.5 246.2,595.5 246.9,595.5 247.5,595.5 248.2,595.5 248.9,595.5 249.6,595.5 250.3,595.5 251.0,595.5 251.7,595.5 252.4,595.5 253.1,595.5 253.7,595.5 254.4,595.5 255.1,595.5 255.8,595.5 256.5,595.5 257.2,595.5 257.9,595.5 258.6,595.5 259.3,595.5 260.0,595.5 260.6,595.5 261.3,595.5 262.0,595.5 262.7,595.5 263.4,595.5 264.1,595.5 264.8,595.5 265.5,595.5 266.2,595.5 266.8,595.5 267.5,595.5 268.2,595.5 268.9,595.5 269.6,595.5 270.3,595.5 271.0,595.5 271.7,595.5 272.4,595.5 273.0,595.5 273.7,595.5 274.4,595.5 275.1,595.5 275.8,595.5 276.5,595.5 277.2,595.5 277.9,595.5 278.6,595.5 279.2,595.5 279.9,595.5 280.6,595.5 281.3,595.5 282.0,595.5 282.7,595.5 283.4,595.5 284.1,595.5 284.8,595.5 285.4,595.5 286.1,595.5 286.8,595.5 287.5,595.5 288.2,595.5 288.9,595.5 289.6,595.5 290.3,595.5 291.0,595.5 291.6,595.5 292.3,595.5 293.0,595.5 293.7,595.5 294.4,595.5 295.1,595.5 295.8,595.5 296.5,595.5 297.2,595.5 297.8,595.5 298.5,595.5 299.2,595.5 299.9,595.5 300.6,595.5 300.6,595.5 25.7,595.5" fill="#facd9f" />
<polygon points="25.7,595.5 26.4,595.5 27.1,595.5 27.8,595.5 28.5,595.5 29.1,595.5 29.8,595.5 30.5,595.5 31.2,595.5 31.9,595.5 32.6,595.5 33.3,595.5 34.0,595.5 34.7,595.5 35.3,595.5 36.0,595.5 36.7,595.5 37.4,595.5 38.1,595.5 38.8,595.5 39.5,595.5 40.2,595.5 40.9,595.5 41.5,595.5 42.2,595.5 42.9,595.5 43.6,595.5 44.3,595.5 45.0,595.5 45.7,595.5 46.4,595.5 47.1,595.5 47.7,595.5 48.4,595.5 49.1,595.5 49.8,595.5 50.5,595.5 51.2,595.5 51.9,595.5 52.6,595.5 53.3,595.5 53.9,595.5 54.6,595.5 55.3,595.5 56.0,595.5 56.7,595.5 57.4,595.5 58.1,595.5 58.8,595.5 59.5,595.5 60.1,595.5 60.8,595.5 61.5,595.5 62.2,595.5 62.9,595.5 63.6,595.5 64.3,595.5 65.0,595.5 65.7,595.5 66.3,595.5 67.0,595.5 67.7,595.5 68.4,595.5 69.1,595.5 69.8,595.5 70.5,595.5 71.2,595.5 71.9,595.5 72.6,595.5 73.2,595.5 73.9,595.5 74.6,595.5 75.3,595.5 76.0,595.5 76.7,595.5 77.4,595.5 78.1,595.5 78.8,595.5 79.4,595.5 80.1,595.5 80.8,595.5 81.5,595.5 82.2,595.5 82.9,595.5 83.6,595.5 84.3,595.5 85.0,595.5 85.6,595.5 86.3,595.5 87.0,595.5 87.7,595.5 88.4,595.5 89.1,595.5 89.8,595.5 90.5,595.5 91.2,595.5 91.8,595.5 92.5,595.5 93.2,595.5 93.9,595.5 94.6,595.5 95.3,595.5 96.0,595.5 96.7,595.5 97.4,595.5 98.0,595.5 98.7,595.5 99.4,595.5 100.1,595.5 100.8,595.5 101.5,595.5 102.2,595.5 102.9,595.5 103.6,595.5 104.2,595.5 104.9,595.4 105.6,595.4 106.3,595.4 107.0,595.4 107.7,595.4 108.4,595.4 109.1,595.4 109.8,595.4 110.4,595.4 111.1,595.3 111.8,595.3 112.5,595.3 113.2,595.3 113.9,595.2 114.6,595.2 115.3,595.2 116.0,595.1 116.6,595.1 117.3,595.0 118.0,595.0 118.7,594.9 119.4,594.9 120.1,594.8 120.8,594.7 121.5,594.6 122.2,594.5 122.8,594.4 123.5,594.3 124.2,594.2 124.9,594.0 125.6,593.9 126.3,593.7 127.0,593.6 127.7,593.4 128.4,593.2 129.0,592.9 129.7,592.7 130.4,592.4 131.1,592.2 131.8,591.9 132.5,591.6 133.2,591.2 133.9,590.8 134.6,590.5 135.2,590.0 135.9,589.6 136.6,589.1 137.3,588.6 138.0,588.1 138.7,587.5 139.4,586.9 140.1,586.3 140.8,585.6 141.4,584.9 142.1,584.1 142.8,583.3 143.5,582.5 144.2,581.7 144.9,580.8 145.6,579.8 146.3,578.8 147.0,577.8 147.6,576.7 148.3,575.6 149.0,574.5 149.7,573.3 150.4,572.1 151.1,570.8 151.8,569.5 152.5,568.2 153.2,566.8 153.8,565.4 154.5,564.0 155.2,562.5 155.9,561.1 156.6,559.5 157.3,558.0 158.0,556.5 158.7,554.9 159.4,553.3 160.0,551.7 160.7,550.1 161.4,548.5 162.1,546.9 162.8,545.3 163.5,543.7 164.2,542.2 164.9,540.6 165.6,539.1 166.3,537.6 166.9,536.1 167.6,534.7 168.3,533.3 169.0,531.9 169.7,530.6 170.4,529.3 171.1,528.1 171.8,527.0 172.5,525.9 173.1,524.9 173.8,523.9 174.5,523.1 175.2,522.3 175.9,521.5 176.6,520.9 177.3,520.4 178.0,519.9 178.7,519.5 179.3,519.2 180.0,519.0 180.7,518.9 181.4,518.9 182.1,519.0 182.8,519.2 183.5,519.5 184.2,520.0 184.9,520.6 185.5,521.2 186.2,522.0 186.9,522.9 187.6,523.9 188.3,524.9 189.0,526.1 189.7,527.4 190.4,528.7 191.1,530.1 191.7,531.6 192.4,533.2 193.1,534.8 193.8,536.4 194.5,538.1 195.2,539.8 195.9,541.6 196.6,543.4 197.3,545.2 197.9,547.0 198.6,548.9 199.3,550.7 200.0,552.5 200.7,554.3 201.4,556.1 202.1,557.9 202.8,559.7 203.5,561.4 204.1,563.1 204.8,564.7 205.5,566.3 206.2,567.9 206.9,569.4 207.6,570.9 208.3,572.4 209.0,573.7 209.7,575.1 210.3,576.4 211.0,577.6 211.7,578.8 212.4,579.9 213.1,581.0 213.8,582.0 214.5,582.9 215.2,583.9 215.9,584.7 216.5,585.5 217.2,586.3 217.9,587.0 218.6,587.7 219.3,588.3 220.0,588.9 220.7,589.5 221.4,590.0 222.1,590.5 222.7,590.9 223.4,591.3 224.1,591.7 224.8,592.1 225.5,592.4 226.2,592.7 226.9,593.0 227.6,593.2 228.3,593.4 228.9,593.6 229.6,593.8 230.3,594.0 231.0,594.2 231.7,594.3 232.4,594.4 233.1,594.6 233.8,594.7 234.5,594.8 235.1,594.8 235.8,594.9 236.5,595.0 237.2,595.0 237.9,595.1 238.6,595.1 239.3,595.2 240.0,595.2 240.7,595.3 241.3,595.3 242.0,595.3 242.7,595.3 243.4,595.4 244.1,595.4 244.8,595.4 245.5,595.4 246.2,595.4 246.9,595.4 247.5,595.4 248.2,595.5 248.9,595.5 249.6,595.5 250.3,595.5 251.0,595.5 251.7,595.5 252.4,595.5 253.1,595.5 253.7,595.5 254.4,595.5 255.1,595.5 255.8,595.5 256.5,595.5 257.2,595.5 257.9,595.5 258.6,595.5 259.3,595.5 260.0,595.5 260.6,595.5 261.3,595.5 262.0,595.5 262.7,595.5 263.4,595.5 264.1,595.5 264.8,595.5 265.5,595.5 266.2,595.5 266.8,595.5 267.5,595.5 268.2,595.5 268.9,595.5 269.6,595.5 270.3,595.5 271.0,595.5 271.7,595.5 272.4,595.5 273.0,595.5 273.7,595.5 274.4,595.5 275.1,595.5 275.8,595.5 276.5,595.5 277.2,595.5 277.9,595.5 278.6,595.5 279.2,595.5 279.9,595.5 280.6,595.5 281.3,595.5 282.0,595.5 282.7,595.5 283.4,595.5 284.1,595.5 284.8,595.5 285.4,595.5 286.1,595.5 286.8,595.5 287.5,595.5 288.2,595.5 288.9,595.5 289.6,595.5 290.3,595.5 291.0,595.5 291.6,595.5 292.3,595.5 293.0,595.5 293.7,595.5 294.4,595.5 295.1,595.5 295.8,595.5 296.5,595.5 297.2,595.5 297.8,595.5 298.5,595.5 299.2,595.5 299.9,595.5 300.6,595.5 300.6,595.5 25.7,595.5" fill="#92f8ae" />
<polygon points="25.7,595.5 26.4,595.5 27.1,595.5 27.8,595.5 28.5,595.5 29.1,595.5 29.8,595.5 30.5,595.5 31.2,595.5 31.9,595.5 32.6,595.5 33.3,595.5 34.0,595.5 34.7,595.5 35.3,595.5 36.0,595.5 36.7,595.5 37.4,595.5 38.1,595.5 38.8,595.5 39.5,595.5 40.2,595.5 40.9,595.5 41.5,595.5 42.2,595.5 42.9,595.5 43.6,595.5 44.3,595.5 45.0,595.5 45.7,595.5 46.4,595.5 47.1,595.5 47.7,595.5 48.4,595.5 49.1,595.5 49.8,595.5 50.5,595.5 51.2,595.5 51.9,595.5 52.6,595.5 53.3,595.5 53.9,595.5 54.6,595.5 55.3,595.5 56.0,595.5 56.7,595.5 57.4,595.5 58.1,595.5 58.8,595.5 59.5,595.5 60.1,595.5 60.8,595.5 61.5,595.5 62.2,595.5 62.9,595.5 63.6,595.5 64.3,595.5 65.0,595.5 65.7,595.5 66.3,595.5 67.0,595.5 67.7,595.5 68.4,595.5 69.1,595.5 69.8,595.5 70.5,595.5 71.2,595.5 71.9,595.5 72.6,595.5 73.2,595.5 73.9,595.5 74.6,595.5 75.3,595.5 76.0,595.5 76.7,595.5 77.4,595.5 78.1,595.5 78.8,595.5 79.4,595.5 80.1,595.5 80.8,595.5 81.5,595.5 82.2,595.5 82.9,595.5 83.6,595.5 84.3,595.5 85.0,595.5 85.6,595.5 86.3,595.5 87.0,595.5 87.7,595.5 88.4,595.5 89.1,595.5 89.8,595.5 90.5,595.5 91.2,595.5 91.8,595.5 92.5,595.5 93.2,595.5 93.9,595.5 94.6,595.5 95.3,595.5 96.0,595.5 96.7,595.5 97.4,595.5 98.0,595.5 98.7,595.5 99.4,595.5 100.1,595.5 100.8,595.5 101.5,595.5 102.2,595.5 102.9,595.5 103.6,595.5 104.2,595.5 104.9,595.5 105.6,595.5 106.3,595.5 107.0,595.5 107.7,595.5 108.4,595.5 109.1,595.5 109.8,595.5 110.4,595.5 111.1,595.5 111.8,595.5 112.5,595.5 113.2,595.5 113.9,595.5 114.6,595.5 115.3,595.5 116.0,595.5 116.6,595.5 117.3,595.5 118.0,595.5 118.7,595.5 119.4,595.5 120.1,595.5 120.8,595.5 121.5,595.5 122.2,595.5 122.8,595.5 123.5,595.5 124.2,595.5 124.9,595.5 125.6,595.5 126.3,595.5 127.0,595.5 127.7,595.5 128.4,595.5 129.0,595.5 129.7,595.5 130.4,595.5 131.1,595.5 131.8,595.5 132.5,595.5 133.2,595.5 133.9,595.5 134.6,595.5 135.2,595.5 135.9,595.5 136.6,595.4 137.3,595.4 138.0,595.4 138.7,595.4 139.4,595.4 140.1,595.4 140.8,595.4 141.4,595.4 142.1,595.4 142.8,595.4 143.5,595.3 144.2,595.3 144.9,595.3 145.6,595.3 146.3,595.3 147.0,595.2 147.6,595.2 148.3,595.2 149.0,595.2 149.7,595.1 150.4,595.1 151.1,595.1 151.8,595.0 152.5,595.0 153.2,594.9 153.8,594.9 154.5,594.8 155.2,594.7 155.9,594.7 156.6,594.6 157.3,594.5 158.0,594.4 158.7,594.3 159.4,594.2 160.0,594.1 160.7,594.0 161.4,593.9 162.1,593.8 162.8,593.6 163.5,593.5 164.2,593.3 164.9,593.2 165.6,593.0 166.3,592.8 166.9,592.6 167.6,592.4 168.3,592.2 169.0,592.0 169.7,591.7 170.4,591.5 171.1,591.2 171.8,590.9 172.5,590.6 173.1,590.3 173.8,590.0 174.5,589.6 175.2,589.2 175.9,588.9 176.6,588.5 177.3,588.1 178.0,587.6 178.7,587.2 179.3,586.7 180.0,586.3 180.7,585.8 181.4,585.3 182.1,584.7 182.8,584.2 183.5,583.7 184.2,583.1 184.9,582.5 185.5,581.9 186.2,581.3 186.9,580.6 187.6,580.0 188.3,579.3 189.0,578.7 189.7,578.0 190.4,577.3 191.1,576.6 191.7,575.9 192.4,575.2 193.1,574.4 193.8,573.7 194.5,573.0 195.2,572.2 195.9,571.5 196.6,570.8 197.3,570.0 197.9,569.3 198.6,568.5 199.3,567.8 200.0,567.1 200.7,566.4 201.4,565.7 202.1,565.0 202.8,564.3 203.5,563.7 204.1,563.0 204.8,562.4 205.5,561.8 206.2,561.2 206.9,560.7 207.6,560.1 208.3,559.6 209.0,559.1 209.7,558.7 210.3,558.2 211.0,557.8 211.7,557.5 212.4,557.1 213.1,556.8 213.8,556.6 214.5,556.3 215.2,556.1 215.9,556.0 216.5,555.8 217.2,555.8 217.9,555.7 218.6,555.7 219.3,555.7 220.0,555.8 220.7,555.9 221.4,556.1 222.1,556.3 222.7,556.5 223.4,556.8 224.1,557.1 224.8,557.5 225.5,557.9 226.2,558.3 226.9,558.7 227.6,559.2 228.3,559.8 228.9,560.3 229.6,560.9 230.3,561.5 231.0,562.2 231.7,562.8 232.4,563.5 233.1,564.2 233.8,564.9 234.5,565.7 235.1,566.4 235.8,567.2 236.5,568.0 237.2,568.7 237.9,569.5 238.6,570.3 239.3,571.1 240.0,571.9 240.7,572.7 241.3,573.5 242.0,574.3 242.7,575.0 243.4,575.8 244.1,576.6 244.8,577.3 245.5,578.1 246.2,578.8 246.9,579.5 247.5,580.2 248.2,580.9 248.9,581.6 249.6,582.2 250.3,582.9 251.0,583.5 251.7,584.1 252.4,584.7 253.1,585.2 253.7,585.8 254.4,586.3 255.1,586.8 255.8,587.3 256.5,587.8 257.2,588.2 257.9,588.6 258.6,589.1 259.3,589.4 260.0,589.8 260.6,590.2 261.3,590.5 262.0,590.9 262.7,591.2 263.4,591.5 264.1,591.7 264.8,592.0 265.5,592.2 266.2,592.5 266.8,592.7 267.5,592.9 268.2,593.1 268.9,593.3 269.6,593.4 270.3,593.6 271.0,593.7 271.7,593.9 272.4,594.0 273.0,594.1 273.7,594.2 274.4,594.4 275.1,594.4 275.8,594.5 276.5,594.6 277.2,594.7 277.9,594.8 278.6,594.8 279.2,594.9 279.9,594.9 280.6,595.0 281.3,595.0 282.0,595.1 282.7,595.1 283.4,595.2 284.1,595.2 284.8,595.2 285.4,595.3 286.1,595.3 286.8,595.3 287.5,595.3 288.2,595.3 288.9,595.4 289.6,595.4 290.3,595.4 291.0,595.4 291.6,595.4 292.3,595.4 293.0,595.4 293.7,595.4 294.4,595.4 295.1,595.4 295.8,595.5 296.5,595.5 297.2,595.5 297.8,595.5 298.5,595.5 299.2,595.5 299.9,595.5 300.6,595.5 300.6,595.5 25.7,595.5" fill="#fab0f8" />
<polygon points="25.7,595.5 26.4,595.5 27.1,595.5 27.8,595.5 28.5,595.5 29.1,595.5 29.8,595.5 30.5,595.5 31.2,595.5 31.9,595.5 32.6,595.5 33.3,595.5 34.0,595.5 34.7,595.5 35.3,595.5 36.0,595.5 36.7,595.5 37.4,595.5 38.1,595.5 38.8,595.5 39.5,595.5 40.2,595.5 40.9,595.5 41.5,595.5 42.2,595.5 42.9,595.5 43.6,595.5 44.3,595.5 45.0,595.5 45.7,595.5 46.4,595.5 47.1,595.5 47.7,595.5 48.4,595.5 49.1,595.5 49.8,595.5 50.5,595.5 51.2,595.5 51.9,595.5 52.6,595.5 53.3,595.5 53.9,595.5 54.6,595.5 55.3,595.5 56.0,595.5 56.7,595.5 57.4,595.5 58.1,595.5 58.8,595.5 59.5,595.5 60.1,595.5 60.8,595.5 61.5,595.5 62.2,595.5 62.9,595.5 63.6,595.5 64.3,595.5 65.0,595.5 65.7,595.5 66.3,595.5 67.0,595.5 67.7,595.5 68.4,595.5 69.1,595.5 69.8,595.5 70.5,595.5 71.2,595.5 71.9,595.5 72.6,595.5 73.2,595.5 73.9,595.5 74.6,595.5 75.3,595.5 76.0,595.5 76.7,595.5 77.4,595.5 78.1,595.5 78.8,595.5 79.4,595.5 80.1,595.5 80.8,595.5 81.5,595.5 82.2,595.5 82.9,595.5 83.6,595.5 84.3,595.5 85.0,595.5 85.6,595.5 86.3,595.5 87.0,595.5 87.7,595.5 88.4,595.5 89.1,595.5 89.8,595.5 90.5,595.5 91.2,595.5 91.8,595.5 92.5,595.5 93.2,595.5 93.9,595.5 94.6,595.5 95.3,595.5 96.0,595.5 96.7,595.5 97.4,595.5 98.0,595.5 98.7,595.5 99.4,595.5 100.1,595.5 100.8,595.5 101.5,595.5 102.2,595.5 102.9,595.5 103.6,595.5 104.2,595.5 104.9,595.5 105.6,595.5 106.3,595.5 107.0,595.5 107.7,595.5 108.4,595.5 109.1,595.5 109.8,595.5 110.4,595.5 111.1,595.5 111.8,595.5 112.5,595.5 113.2,595.5 113.9,595.5 114.6,595.5 115.3,595.5 116.0,595.5 116.6,595.5 117.3,595.5 118.0,595.5 118.7,595.5 119.4,595.5 120.1,595.5 120.8,595.5 121.5,595.5 122.2,595.5 122.8,595.5 123.5,595.5 124.2,595.5 124.9,595.5 125.6,595.5 126.3,595.5 127.0,595.5 127.7,595.5 128.4,595.5 129.0,595.5 129.7,595.5 130.4,595.5 131.1,595.5 131.8,595.5 132.5,595.5 133.2,595.5 133.9,595.5 134.6,595.5 135.2,595.5 135.9,595.5 136.6,595.4 137.3,595.4 138.0,595.4 138.7,595.4 139.4,595.4 140.1,595.4 140.8,595.4 141.4,595.4 142.1,595.4 142.8,595.4 143.5,595.3 144.2,595.3 144.9,595.3 145.6,595.3 146.3,595.3 147.0,595.2 147.6,595.2 148.3,595.2 149.0,595.2 149.7,595.1 150.4,595.1 151.1,595.1 151.8,595.0 152.5,595.0 153.2,594.9 153.8,594.9 154.5,594.8 155.2,594.7 155.9,594.7 156.6,594.6 157.3,594.5 158.0,594.4 158.7,594.3 159.4,594.2 160.0,594.1 160.7,594.0 161.4,593.9 162.1,593.8 162.8,593.6 163.5,593.5 164.2,593.3 164.9,593.2 165.6,593.0 166.3,592.8 166.9,592.6 167.6,592.4 168.3,592.2 169.0,592.0 169.7,591.7 170.4,591.5 171.1,591.2 171.8,590.9 172.5,590.6 173.1,590.3 173.8,590.0 174.5,589.6 175.2,589.2 175.9,588.9 176.6,588.5 177.3,588.1 178.0,587.6 178.7,587.2 179.3,586.7 180.0,586.3 180.7,585.8 181.4,585.3 182.1,584.7 182.8,584.2 183.5,583.7 184.2,583.1 184.9,582.5 185.5,581.9 186.2,581.3 186.9,580.6 187.6,580.0 188.3,579.3 189.0,578.7 189.7,578.0 190.4,577.3 191.1,576.6 191.7,575.9 192.4,575.2 193.1,574.4 193.8,573.7 194.5,573.0 195.2,572.2 195.9,571.5 196.6,570.8 197.3,570.0 197.9,569.3 198.6,568.5 199.3,567.8 200.0,567.1 200.7,566.4 201.4,565.7 202.1,565.0 202.8,564.3 203.5,563.7 204.1,563.1 204.8,564.7 205.5,566.3 206.2,567.9 206.9,569.4 207.6,570.9 208.3,572.4 209.0,573.7 209.7,575.1 210.3,576.4 211.0,577.6 211.7,578.8 212.4,579.9 213.1,581.0 213.8,582.0 214.5,582.9 215.2,583.9 215.9,584.7 216.5,585.5 217.2,586.3 217.9,587.0 218.6,587.7 219.3,588.3 220.0,588.9 220.7,589.5 221.4,590.0 222.1,590.5 222.7,590.9 223.4,591.3 224.1,591.7 224.8,592.1 225.5,592.4 226.2,592.7 226.9,593.0 227.6,593.2 228.3,593.4 228.9,593.6 229.6,593.8 230.3,594.0 231.0,594.2 231.7,594.3 232.4,594.4 233.1,594.6 233.8,594.7 234.5,594.8 235.1,594.8 235.8,594.9 236.5,595.0 237.2,595.0 237.9,595.1 238.6,595.1 239.3,595.2 240.0,595.2 240.7,595.3 241.3,595.3 242.0,595.3 242.7,595.3 243.4,595.4 244.1,595.4 244.8,595.4 245.5,595.4 246.2,595.4 246.9,595.4 247.5,595.4 248.2,595.5 248.9,595.5 249.6,595.5 250.3,595.5 251.0,595.5 251.7,595.5 252.4,595.5 253.1,595.5 253.7,595.5 254.4,595.5 255.1,595.5 255.8,595.5 256.5,595.5 257.2,595.5 257.9,595.5 258.6,595.5 259.3,595.5 260.0,595.5 260.6,595.5 261.3,595.5 262.0,595.5 262.7,595.5 263.4,595.5 264.1,595.5 264.8,595.5 265.5,595.5 266.2,595.5 266.8,595.5 267.5,595.5 268.2,595.5 268.9,595.5 269.6,595.5 270.3,595.5 271.0,595.5 271.7,595.5 272.4,595.5 273.0,595.5 273.7,595.5 274.4,595.5 275.1,595.5 275.8,595.5 276.5,595.5 277.2,595.5 277.9,595.5 278.6,595.5 279.2,595.5 279.9,595.5 280.6,595.5 281.3,595.5 282.0,595.5 282.7,595.5 283.4,595.5 284.1,595.5 284.8,595.5 285.4,595.5 286.1,595.5 286.8,595.5 287.5,595.5 288.2,595.5 288.9,595.5 289.6,595.5 290.3,595.5 291.0,595.5 291.6,595.5 292.3,595.5 293.0,595.5 293.7,595.5 294.4,595.5 295.1,595.5 295.8,595.5 296.5,595.5 297.2,595.5 297.8,595.5 298.5,595.5 299.2,595.5 299.9,595.5 300.6,595.5 300.6,595.5 25.7,595.5" fill="#d4b2d4" />
<polygon points="25.7,595.5 26.4,595.5 27.1,595.5 27.8,595.5 28.5,595.5 29.1,595.5 29.8,595.5 30.5,595.5 31.2,595.5 31.9,595.5 32.6,595.5 33.3,595.5 34.0,595.5 34.7,595.5 35.3,595.5 36.0,595.5 36.7,595.5 37.4,595.5 38.1,595.5 38.8,595.5 39.5,595.5 40.2,595.5 40.9,595.5 41.5,595.5 42.2,595.5 42.9,595.5 43.6,595.5 44.3,595.5 45.0,595.5 45.7,595.5 46.4,595.5 47.1,595.5 47.7,595.5 48.4,595.5 49.1,595.5 49.8,595.5 50.5,595.5 51.2,595.5 51.9,595.5 52.6,595.5 53.3,595.5 53.9,595.5 54.6,595.5 55.3,595.5 56.0,595.5 56.7,595.5 57.4,595.5 58.1,595.5 58.8,595.5 59.5,595.5 60.1,595.5 60.8,595.5 61.5,595.5 62.2,595.5 62.9,595.5 63.6,595.5 64.3,595.5 65.0,595.5 65.7,595.5 66.3,595.5 67.0,595.5 67.7,595.5 68.4,595.5 69.1,595.5 69.8,595.5 70.5,595.5 71.2,595.5 71.9,595.5 72.6,595.5 73.2,595.5 73.9,595.5 74.6,595.5 75.3,595.5 76.0,595.5 76.7,595.5 77.4,595.5 78.1,595.5 78.8,595.5 79.4,595.5 80.1,595.5 80.8,595.5 81.5,595.5 82.2,595.5 82.9,595.5 83.6,595.5 84.3,595.5 85.0,595.5 85.6,595.5 86.3,595.5 87.0,595.5 87.7,595.5 88.4,595.5 89.1,595.5 89.8,595.5 90.5,595.5 91.2,595.5 91.8,595.5 92.5,595.5 93.2,595.5 93.9,595.5 94.6,595.5 95.3,595.5 96.0,595.5 96.7,595.5 97.4,595.5 98.0,595.5 98.7,595.5 99.4,595.5 100.1,595.5 100.8,595.5 101.5,595.5 102.2,595.5 102.9,595.5 103.6,595.5 104.2,595.5 104.9,595.4 105.6,595.4 106.3,595.4 107.0,595.4 107.7,595.4 108.4,595.4 109.1,595.4 109.8,595.4 110.4,595.4 111.1,595.3 111.8,595.3 112.5,595.3 113.2,595.3 113.9,595.2 114.6,595.2 115.3,595.2 116.0,595.1 116.6,595.1 117.3,595.0 118.0,595.0 118.7,594.9 119.4,594.9 120.1,594.8 120.8,594.7 121.5,594.6 122.2,594.5 122.8,594.4 123.5,594.3 124.2,594.2 124.9,594.0 125.6,593.9 126.3,593.7 127.0,593.6 127.7,593.4 128.4,593.2 129.0,592.9 129.7,592.7 130.4,592.4 131.1,592.2 131.8,591.9 132.5,591.6 133.2,591.2 133.9,590.8 134.6,590.5 135.2,590.0 135.9,589.9 136.6,590.2 137.3,590.4 138.0,590.7 138.7,591.0 139.4,591.2 140.1,591.4 140.8,591.6 141.4,591.9 142.1,592.1 142.8,592.3 143.5,592.5 144.2,592.6 144.9,592.8 145.6,593.0 146.3,593.1 147.0,593.3 147.6,593.4 148.3,593.6 149.0,593.7 149.7,593.8 150.4,593.9 151.1,594.0 151.8,594.1 152.5,594.2 153.2,594.3 153.8,594.4 154.5,594.5 155.2,594.5 155.9,594.6 156.6,594.7 157.3,594.7 158.0,594.8 158.7,594.9 159.4,594.9 160.0,595.0 160.7,595.0 161.4,595.0 162.1,595.1 162.8,595.1 163.5,595.1 164.2,595.2 164.9,595.2 165.6,595.2 166.3,595.3 166.9,595.3 167.6,595.3 168.3,595.3 169.0,595.3 169.7,595.3 170.4,595.4 171.1,595.4 171.8,595.4 172.5,595.4 173.1,595.4 173.8,595.4 174.5,595.4 175.2,595.4 175.9,595.4 176.6,595.4 177.3,595.4 178.0,595.5 178.7,595.5 179.3,595.5 180.0,595.5 180.7,595.5 181.4,595.5 182.1,595.5 182.8,595.5 183.5,595.5 184.2,595.5 184.9,595.5 185.5,595.5 186.2,595.5 186.9,595.5 187.6,595.5 188.3,595.5 189.0,595.5 189.7,595.5 190.4,595.5 191.1,595.5 191.7,595.5 192.4,595.5 193.1,595.5 193.8,595.5 194.5,595.5 195.2,595.5 195.9,595.5 196.6,595.5 197.3,595.5 197.9,595.5 198.6,595.5 199.3,595.5 200.0,595.5 200.7,595.5 201.4,595.5 202.1,595.5 202.8,595.5 203.5,595.5 204.1,595.5 204.8,595.5 205.5,595.5 206.2,595.5 206.9,595.5 207.6,595.5 208.3,595.5 209.0,595.5 209.7,595.5 210.3,595.5 211.0,595.5 211.7,595.5 212.4,595.5 213.1,595.5 213.8,595.5 214.5,595.5 215.2,595.5 215.9,595.5 216.5,595.5 217.2,595.5 217.9,595.5 218.6,595.5 219.3,595.5 220.0,595.5 220.7,595.5 221.4,595.5 222.1,595.5 222.7,595.5 223.4,595.5 224.1,595.5 224.8,595.5 225.5,595.5 226.2,595.5 226.9,595.5 227.6,595.5 228.3,595.5 228.9,595.5 229.6,595.5 230.3,595.5 231.0,595.5 231.7,595.5 232.4,595.5 233.1,595.5 233.8,595.5 234.5,595.5 235.1,595.5 235.8,595.5 236.5,595.5 237.2,595.5 237.9,595.5 238.6,595.5 239.3,595.5 240.0,595.5 240.7,595.5 241.3,595.5 242.0,595.5 242.7,595.5 243.4,595.5 244.1,595.5 244.8,595.5 245.5,595.5 246.2,595.5 246.9,595.5 247.5,595.5 248.2,595.5 248.9,595.5 249.6,595.5 250.3,595.5 251.0,595.5 251.7,595.5 252.4,595.5 253.1,595.5 253.7,595.5 254.4,595.5 255.1,595.5 255.8,595.5 256.5,595.5 257.2,595.5 257.9,595.5 258.6,595.5 259.3,595.5 260.0,595.5 260.6,595.5 261.3,595.5 262.0,595.5 262.7,595.5 263.4,595.5 264.1,595.5 264.8,595.5 265.5,595.5 266.2,595.5 266.8,595.5 267.5,595.5 268.2,595.5 268.9,595.5 269.6,595.5 270.3,595.5 271.0,595.5 271.7,595.5 272.4,595.5 273.0,595.5 273.7,595.5 274.4,595.5 275.1,595.5 275.8,595.5 276.5,595.5 277.2,595.5 277.9,595.5 278.6,595.5 279.2,595.5 279.9,595.5 280.6,595.5 281.3,595.5 282.0,595.5 282.7,595.5 283.4,595.5 284.1,595.5 284.8,595.5 285.4,595.5 286.1,595.5 286.8,595.5 287.5,595.5 288.2,595.5 288.9,595.5 289.6,595.5 290.3,595.5 291.0,595.5 291.6,595.5 292.3,595.5 293.0,595.5 293.7,595.5 294.4,595.5 295.1,595.5 295.8,595.5 296.5,595.5 297.2,595.5 297.8,595.5 298.5,595.5 299.2,595.5 299.9,595.5 300.6,595.5 300.6,595.5 25.7,595.5" fill="#c8d890" />
<line x1="25.7" y1="595.5" x2="300.6" y2="595.5" stroke="#f0a080" stroke-width="0.6"/>
<polyline points="25.7,595.4 29.1,595.3 32.6,595.3 36.0,595.1 39.5,594.9 42.9,594.6 46.3,594.2 49.8,593.7 53.2,593.0 56.7,592.1 60.1,591.0 63.5,589.7 67.0,588.2 70.4,586.5 73.9,584.6 77.3,582.6 80.7,580.7 84.2,578.9 87.6,577.3 91.1,575.9 94.5,575.0 97.9,574.5 101.4,574.5 104.8,575.0 108.3,575.9 111.7,577.2 115.1,578.7 118.6,580.3 122.0,581.9 125.5,583.2 128.9,584.1 132.3,584.4 135.8,584.0 139.2,582.6 142.7,580.1 146.1,576.4 149.5,571.5 153.0,565.3 156.4,558.1 159.9,550.1 163.3,541.6 166.7,533.1 170.2,525.1 173.6,518.1 177.1,512.4 180.5,508.3 183.9,506.3 187.4,506.6 190.8,509.0 194.3,512.9 197.7,517.7 201.1,522.8 204.6,527.7 208.0,532.1 211.5,536.1 214.9,539.6 218.3,542.8 221.8,546.0 225.2,549.5 228.7,553.2 232.1,557.3 235.5,561.7 239.0,566.2 242.4,570.6 245.9,574.9 249.3,578.8 252.7,582.2 256.2,585.2 259.6,587.7 263.1,589.7 266.5,591.3 269.9,592.5 273.4,593.4 276.8,594.1 280.3,594.5 283.7,594.9 287.1,595.1 290.6,595.2 294.0,595.3 297.5,595.4" fill="none" stroke="#333" stroke-width="0.8" stroke-linejoin="round" />
<polygon points="25.7,696.0 26.4,696.0 27.1,696.0 27.8,696.0 28.5,696.0 29.1,696.0 29.8,696.0 30.5,696.0 31.2,696.0 31.9,696.0 32.6,696.0 33.3,696.0 34.0,696.0 34.7,696.0 35.3,696.0 36.0,696.0 36.7,696.0 37.4,696.0 38.1,696.0 38.8,696.0 39.5,696.0 40.2,696.0 40.9,696.0 41.5,696.0 42.2,696.0 42.9,696.0 43.6,696.0 44.3,696.0 45.0,696.0 45.7,696.0 46.4,696.0 47.1,696.0 47.7,696.0 48.4,696.0 49.1,696.0 49.8,696.0 50.5,696.0 51.2,696.0 51.9,696.0 52.6,696.0 53.3,696.0 53.9,696.0 54.6,696.0 55.3,696.0 56.0,696.0 56.7,696.0 57.4,696.0 58.1,696.0 58.8,696.0 59.5,696.0 60.1,696.0 60.8,696.0 61.5,696.0 62.2,696.0 62.9,696.0 63.6,696.0 64.3,696.0 65.0,696.0 65.7,696.0 66.3,696.0 67.0,696.0 67.7,696.0 68.4,696.0 69.1,696.0 69.8,696.0 70.5,696.0 71.2,696.0 71.9,696.0 72.6,696.0 73.2,696.0 73.9,696.0 74.6,696.0 75.3,696.0 76.0,696.0 76.7,696.0 77.4,696.0 78.1,696.0 78.8,696.0 79.4,696.0 80.1,696.0 80.8,696.0 81.5,696.0 82.2,696.0 82.9,696.0 83.6,696.0 84.3,696.0 85.0,696.0 85.6,696.0 86.3,696.0 87.0,696.0 87.7,696.0 88.4,696.0 89.1,696.0 89.8,696.0 90.5,696.0 91.2,696.0 91.8,696.0 92.5,696.0 93.2,696.0 93.9,696.0 94.6,696.0 95.3,696.0 96.0,696.0 96.7,696.0 97.4,696.0 98.0,696.0 98.7,696.0 99.4,696.0 100.1,696.0 100.8,696.0 101.5,696.0 102.2,696.0 102.9,696.0 103.6,696.0 104.2,696.0 104.9,696.0 105.6,696.0 106.3,696.0 107.0,696.0 107.7,696.0 108.4,696.0 109.1,696.0 109.8,696.0 110.4,696.0 111.1,696.0 111.8,696.0 112.5,696.0 113.2,696.0 113.9,696.0 114.6,696.0 115.3,696.0 116.0,696.0 116.6,696.0 117.3,696.0 118.0,696.0 118.7,696.0 119.4,696.0 120.1,696.0 120.8,696.0 121.5,696.0 122.2,696.0 122.8,696.0 123.5,696.0 124.2,696.0 124.9,696.0 125.6,696.0 126.3,696.0 127.0,696.0 127.7,696.0 128.4,696.0 129.0,696.0 129.7,696.0 130.4,696.0 131.1,696.0 131.8,696.0 132.5,696.0 133.2,696.0 133.9,696.0 134.6,696.0 135.2,696.0 135.9,696.0 136.6,696.0 137.3,696.0 138.0,696.0 138.7,696.0 139.4,696.0 140.1,696.0 140.8,696.0 141.4,696.0 142.1,696.0 142.8,696.0 143.5,696.0 144.2,696.0 144.9,696.0 145.6,696.0 146.3,696.0 147.0,696.0 147.6,696.0 148.3,696.0 149.0,696.0 149.7,696.0 150.4,696.0 151.1,696.0 151.8,696.0 152.5,696.0 153.2,696.0 153.8,696.0 154.5,696.0 155.2,696.0 155.9,696.0 156.6,696.0 157.3,696.0 158.0,696.0 158.7,696.0 159.4,696.0 160.0,696.0 160.7,696.0 161.4,696.0 162.1,696.0 162.8,696.0 163.5,696.0 164.2,696.0 164.9,696.0 165.6,696.0 166.3,696.0 166.9,696.0 167.6,696.0 168.3,696.0 169.0,696.0 169.7,696.0 170.4,696.0 171.1,696.0 171.8,696.0 172.5,696.0 173.1,696.0 173.8,696.0 174.5,696.0 175.2,696.0 175.9,696.0 176.6,696.0 177.3,696.0 178.0,696.0 178.7,696.0 179.3,696.0 180.0,696.0 180.7,696.0 181.4,696.0 182.1,696.0 182.8,696.0 183.5,696.0 184.2,696.0 184.9,696.0 185.5,696.0 186.2,696.0 186.9,696.0 187.6,696.0 188.3,696.0 189.0,696.0 189.7,696.0 190.4,696.0 191.1,696.0 191.7,696.0 192.4,696.0 193.1,696.0 193.8,696.0 194.5,696.0 195.2,696.0 195.9,696.0 196.6,696.0 197.3,696.0 197.9,696.0 198.6,696.0 199.3,696.0 200.0,696.0 200.7,696.0 201.4,696.0 202.1,696.0 202.8,696.0 203.5,696.0 204.1,696.0 204.8,696.0 205.5,696.0 206.2,696.0 206.9,696.0 207.6,696.0 208.3,696.0 209.0,696.0 209.7,696.0 210.3,696.0 211.0,696.0 211.7,696.0 212.4,696.0 213.1,696.0 213.8,696.0 214.5,696.0 215.2,696.0 215.9,696.0 216.5,696.0 217.2,696.0 217.9,696.0 218.6,696.0 219.3,696.0 220.0,696.0 220.7,696.0 221.4,696.0 222.1,696.0 222.7,696.0 223.4,696.0 224.1,696.0 224.8,696.0 225.5,696.0 226.2,696.0 226.9,696.0 227.6,696.0 228.3,696.0 228.9,696.0 229.6,696.0 230.3,696.0 231.0,696.0 231.7,696.0 232.4,696.0 233.1,696.0 233.8,696.0 234.5,696.0 235.1,696.0 235.8,696.0 236.5,696.0 237.2,696.0 237.9,696.0 238.6,696.0 239.3,696.0 240.0,696.0 240.7,696.0 241.3,696.0 242.0,696.0 242.7,696.0 243.4,696.0 244.1,696.0 244.8,696.0 245.5,696.0 246.2,696.0 246.9,696.0 247.5,696.0 248.2,696.0 248.9,696.0 249.6,696.0 250.3,696.0 251.0,696.0 251.7,696.0 252.4,696.0 253.1,696.0 253.7,696.0 254.4,696.0 255.1,696.0 255.8,696.0 256.5,696.0 257.2,696.0 257.9,696.0 258.6,696.0 259.3,696.0 260.0,696.0 260.6,696.0 261.3,696.0 262.0,696.0 262.7,696.0 263.4,696.0 264.1,696.0 264.8,696.0 265.5,696.0 266.2,696.0 266.8,696.0 267.5,696.0 268.2,696.0 268.9,696.0 269.6,696.0 270.3,696.0 271.0,696.0 271.7,696.0 272.4,696.0 273.0,696.0 273.7,696.0 274.4,696.0 275.1,696.0 275.8,696.0 276.5,696.0 277.2,696.0 277.9,696.0 278.6,696.0 279.2,696.0 279.9,696.0 280.6,696.0 281.3,696.0 282.0,696.0 282.7,696.0 283.4,696.0 284.1,696.0 284.8,696.0 285.4,696.0 286.1,696.0 286.8,696.0 287.5,696.0 288.2,696.0 288.9,696.0 289.6,696.0 290.3,696.0 291.0,696.0 291.6,696.0 292.3,696.0 293.0,696.0 293.7,696.0 294.4,696.0 295.1,696.0 295.8,696.0 296.5,696.0 297.2,696.0 297.8,696.0 298.5,696.0 299.2,696.0 299.9,696.0 300.6,696.0 300.6,696.0 25.7,696.0" fill="#facd9f" />
<polygon points="25.7,696.0 26.4,696.0 27.1,696.0 27.8,696.0 28.5,696.0 29.1,696.0 29.8,696.0 30.5,696.0 31.2,696.0 31.9,696.0 32.6,696.0 33.3,696.0 34.0,696.0 34.7,696.0 35.3,696.0 36.0,696.0 36.7,696.0 37.4,696.0 38.1,696.0 38.8,696.0 39.5,696.0 40.2,696.0 40.9,696.0 41.5,696.0 42.2,696.0 42.9,696.0 43.6,696.0 44.3,696.0 45.0,696.0 45.7,696.0 46.4,696.0 47.1,696.0 47.7,696.0 48.4,696.0 49.1,696.0 49.8,696.0 50.5,696.0 51.2,696.0 51.9,696.0 52.6,696.0 53.3,696.0 53.9,696.0 54.6,696.0 55.3,696.0 56.0,696.0 56.7,696.0 57.4,696.0 58.1,696.0 58.8,696.0 59.5,696.0 60.1,696.0 60.8,696.0 61.5,696.0 62.2,696.0 62.9,696.0 63.6,696.0 64.3,696.0 65.0,696.0 65.7,696.0 66.3,696.0 67.0,696.0 67.7,696.0 68.4,696.0 69.1,696.0 69.8,696.0 70.5,696.0 71.2,696.0 71.9,696.0 72.6,696.0 73.2,696.0 73.9,696.0 74.6,696.0 75.3,696.0 76.0,696.0 76.7,696.0 77.4,696.0 78.1,696.0 78.8,696.0 79.4,696.0 80.1,696.0 80.8,696.0 81.5,696.0 82.2,696.0 82.9,696.0 83.6,696.0 84.3,696.0 85.0,696.0 85.6,696.0 86.3,696.0 87.0,696.0 87.7,696.0 88.4,696.0 89.1,696.0 89.8,696.0 90.5,696.0 91.2,696.0 91.8,696.0 92.5,696.0 93.2,696.0 93.9,696.0 94.6,696.0 95.3,696.0 96.0,696.0 96.7,696.0 97.4,696.0 98.0,696.0 98.7,696.0 99.4,696.0 100.1,696.0 100.8,696.0 101.5,696.0 102.2,696.0 102.9,696.0 103.6,696.0 104.2,696.0 104.9,696.0 105.6,696.0 106.3,696.0 107.0,696.0 107.7,696.0 108.4,696.0 109.1,696.0 109.8,696.0 110.4,696.0 111.1,696.0 111.8,696.0 112.5,696.0 113.2,696.0 113.9,696.0 114.6,696.0 115.3,696.0 116.0,696.0 116.6,696.0 117.3,696.0 118.0,696.0 118.7,696.0 119.4,696.0 120.1,696.0 120.8,696.0 121.5,696.0 122.2,695.9 122.8,695.9 123.5,695.9 124.2,695.9 124.9,695.9 125.6,695.9 126.3,695.9 127.0,695.8 127.7,695.8 128.4,695.8 129.0,695.8 129.7,695.7 130.4,695.7 131.1,695.6 131.8,695.6 132.5,695.5 133.2,695.4 133.9,695.3 134.6,695.2 135.2,695.1 135.9,695.0 136.6,694.9 137.3,694.7 138.0,694.5 138.7,694.4 139.4,694.1 140.1,693.9 140.8,693.7 141.4,693.4 142.1,693.1 142.8,692.7 143.5,692.4 144.2,691.9 144.9,691.5 145.6,691.0 146.3,690.5 147.0,689.9 147.6,689.3 148.3,688.7 149.0,688.0 149.7,687.2 150.4,686.4 151.1,685.5 151.8,684.6 152.5,683.6 153.2,682.6 153.8,681.5 154.5,680.3 155.2,679.1 155.9,677.9 156.6,676.5 157.3,675.2 158.0,673.7 158.7,672.3 159.4,670.7 160.0,669.1 160.7,667.5 161.4,665.9 162.1,664.2 162.8,662.5 163.5,660.7 164.2,659.0 164.9,657.2 165.6,655.4 166.3,653.6 166.9,651.9 167.6,650.1 168.3,648.4 169.0,646.7 169.7,645.1 170.4,643.5 171.1,642.0 171.8,640.5 172.5,639.1 173.1,637.8 173.8,636.5 174.5,635.4 175.2,634.3 175.9,633.4 176.6,632.6 177.3,631.9 178.0,631.3 178.7,630.8 179.3,630.5 180.0,630.3 180.7,630.2 181.4,630.3 182.1,630.5 182.8,630.9 183.5,631.4 184.2,632.1 184.9,632.9 185.5,633.9 186.2,635.0 186.9,636.2 187.6,637.5 188.3,639.0 189.0,640.5 189.7,642.2 190.4,643.9 191.1,645.7 191.7,647.5 192.4,649.4 193.1,651.3 193.8,653.3 194.5,655.2 195.2,657.2 195.9,659.2 196.6,661.1 197.3,663.0 197.9,664.9 198.6,666.8 199.3,668.6 200.0,670.3 200.7,672.0 201.4,673.7 202.1,675.3 202.8,676.8 203.5,678.2 204.1,679.6 204.8,680.9 205.5,682.2 206.2,683.3 206.9,684.4 207.6,685.5 208.3,686.4 209.0,687.3 209.7,688.1 210.3,688.9 211.0,689.6 211.7,690.3 212.4,690.9 213.1,691.4 213.8,691.9 214.5,692.4 215.2,692.8 215.9,693.1 216.5,693.5 217.2,693.8 217.9,694.0 218.6,694.3 219.3,694.5 220.0,694.7 220.7,694.9 221.4,695.0 222.1,695.1 222.7,695.3 223.4,695.4 224.1,695.5 224.8,695.5 225.5,695.6 226.2,695.7 226.9,695.7 227.6,695.8 228.3,695.8 228.9,695.8 229.6,695.9 230.3,695.9 231.0,695.9 231.7,695.9 232.4,695.9 233.1,695.9 233.8,695.9 234.5,696.0 235.1,696.0 235.8,696.0 236.5,696.0 237.2,696.0 237.9,696.0 238.6,696.0 239.3,696.0 240.0,696.0 240.7,696.0 241.3,696.0 242.0,696.0 242.7,696.0 243.4,696.0 244.1,696.0 244.8,696.0 245.5,696.0 246.2,696.0 246.9,696.0 247.5,696.0 248.2,696.0 248.9,696.0 249.6,696.0 250.3,696.0 251.0,696.0 251.7,696.0 252.4,696.0 253.1,696.0 253.7,696.0 254.4,696.0 255.1,696.0 255.8,696.0 256.5,696.0 257.2,696.0 257.9,696.0 258.6,696.0 259.3,696.0 260.0,696.0 260.6,696.0 261.3,696.0 262.0,696.0 262.7,696.0 263.4,696.0 264.1,696.0 264.8,696.0 265.5,696.0 266.2,696.0 266.8,696.0 267.5,696.0 268.2,696.0 268.9,696.0 269.6,696.0 270.3,696.0 271.0,696.0 271.7,696.0 272.4,696.0 273.0,696.0 273.7,696.0 274.4,696.0 275.1,696.0 275.8,696.0 276.5,696.0 277.2,696.0 277.9,696.0 278.6,696.0 279.2,696.0 279.9,696.0 280.6,696.0 281.3,696.0 282.0,696.0 282.7,696.0 283.4,696.0 284.1,696.0 284.8,696.0 285.4,696.0 286.1,696.0 286.8,696.0 287.5,696.0 288.2,696.0 288.9,696.0 289.6,696.0 290.3,696.0 291.0,696.0 291.6,696.0 292.3,696.0 293.0,696.0 293.7,696.0 294.4,696.0 295.1,696.0 295.8,696.0 296.5,696.0 297.2,696.0 297.8,696.0 298.5,696.0 299.2,696.0 299.9,696.0 300.6,696.0 300.6,696.0 25.7,696.0" fill="#b2f7c6" />
<polygon points="25.7,696.0 26.4,696.0 27.1,696.0 27.8,696.0 28.5,696.0 29.1,696.0 29.8,696.0 30.5,696.0 31.2,696.0 31.9,696.0 32.6,696.0 33.3,696.0 34.0,696.0 34.7,696.0 35.3,696.0 36.0,696.0 36.7,696.0 37.4,696.0 38.1,696.0 38.8,696.0 39.5,696.0 40.2,696.0 40.9,696.0 41.5,696.0 42.2,696.0 42.9,696.0 43.6,696.0 44.3,696.0 45.0,696.0 45.7,696.0 46.4,696.0 47.1,696.0 47.7,696.0 48.4,696.0 49.1,696.0 49.8,696.0 50.5,696.0 51.2,696.0 51.9,696.0 52.6,696.0 53.3,696.0 53.9,696.0 54.6,696.0 55.3,696.0 56.0,696.0 56.7,696.0 57.4,696.0 58.1,696.0 58.8,696.0 59.5,696.0 60.1,696.0 60.8,696.0 61.5,696.0 62.2,696.0 62.9,696.0 63.6,696.0 64.3,696.0 65.0,696.0 65.7,696.0 66.3,696.0 67.0,696.0 67.7,696.0 68.4,696.0 69.1,696.0 69.8,696.0 70.5,696.0 71.2,696.0 71.9,696.0 72.6,696.0 73.2,696.0 73.9,696.0 74.6,696.0 75.3,696.0 76.0,696.0 76.7,696.0 77.4,696.0 78.1,696.0 78.8,696.0 79.4,696.0 80.1,696.0 80.8,696.0 81.5,696.0 82.2,696.0 82.9,696.0 83.6,696.0 84.3,696.0 85.0,696.0 85.6,696.0 86.3,696.0 87.0,696.0 87.7,696.0 88.4,696.0 89.1,696.0 89.8,696.0 90.5,696.0 91.2,696.0 91.8,696.0 92.5,696.0 93.2,696.0 93.9,696.0 94.6,696.0 95.3,696.0 96.0,696.0 96.7,696.0 97.4,696.0 98.0,696.0 98.7,696.0 99.4,696.0 100.1,696.0 100.8,696.0 101.5,696.0 102.2,696.0 102.9,696.0 103.6,696.0 104.2,696.0 104.9,696.0 105.6,696.0 106.3,696.0 107.0,696.0 107.7,696.0 108.4,696.0 109.1,696.0 109.8,696.0 110.4,696.0 111.1,696.0 111.8,696.0 112.5,696.0 113.2,696.0 113.9,696.0 114.6,696.0 115.3,696.0 116.0,696.0 116.6,696.0 117.3,696.0 118.0,696.0 118.7,696.0 119.4,696.0 120.1,696.0 120.8,696.0 121.5,696.0 122.2,696.0 122.8,696.0 123.5,696.0 124.2,696.0 124.9,696.0 125.6,696.0 126.3,696.0 127.0,696.0 127.7,696.0 128.4,696.0 129.0,696.0 129.7,696.0 130.4,696.0 131.1,696.0 131.8,696.0 132.5,696.0 133.2,696.0 133.9,696.0 134.6,696.0 135.2,696.0 135.9,696.0 136.6,696.0 137.3,696.0 138.0,696.0 138.7,696.0 139.4,696.0 140.1,696.0 140.8,696.0 141.4,696.0 142.1,696.0 142.8,696.0 143.5,696.0 144.2,696.0 144.9,696.0 145.6,696.0 146.3,696.0 147.0,696.0 147.6,696.0 148.3,696.0 149.0,696.0 149.7,696.0 150.4,696.0 151.1,696.0 151.8,696.0 152.5,696.0 153.2,696.0 153.8,696.0 154.5,696.0 155.2,696.0 155.9,696.0 156.6,696.0 157.3,696.0 158.0,696.0 158.7,696.0 159.4,696.0 160.0,696.0 160.7,696.0 161.4,696.0 162.1,696.0 162.8,696.0 163.5,695.9 164.2,695.9 164.9,695.9 165.6,695.9 166.3,695.9 166.9,695.9 167.6,695.9 168.3,695.9 169.0,695.8 169.7,695.8 170.4,695.8 171.1,695.8 171.8,695.7 172.5,695.7 173.1,695.7 173.8,695.6 174.5,695.6 175.2,695.6 175.9,695.5 176.6,695.4 177.3,695.4 178.0,695.3 178.7,695.2 179.3,695.2 180.0,695.1 180.7,695.0 181.4,694.9 182.1,694.8 182.8,694.7 183.5,694.5 184.2,694.4 184.9,694.2 185.5,694.1 186.2,693.9 186.9,693.7 187.6,693.6 188.3,693.4 189.0,693.1 189.7,692.9 190.4,692.7 191.1,692.4 191.7,692.2 192.4,691.9 193.1,691.6 193.8,691.3 194.5,691.0 195.2,690.7 195.9,690.4 196.6,690.0 197.3,689.7 197.9,689.3 198.6,688.9 199.3,688.5 200.0,688.2 200.7,687.8 201.4,687.4 202.1,687.0 202.8,686.5 203.5,686.1 204.1,685.7 204.8,685.3 205.5,684.9 206.2,684.5 206.9,684.1 207.6,683.7 208.3,683.3 209.0,682.9 209.7,682.6 210.3,682.2 211.0,681.9 211.7,681.5 212.4,681.2 213.1,680.9 213.8,680.6 214.5,680.4 215.2,680.2 215.9,680.0 216.5,679.8 217.2,679.6 217.9,679.5 218.6,679.4 219.3,679.3 220.0,679.2 220.7,679.2 221.4,679.2 222.1,679.2 222.7,679.3 223.4,679.4 224.1,679.5 224.8,679.6 225.5,679.8 226.2,680.0 226.9,680.2 227.6,680.4 228.3,680.7 228.9,680.9 229.6,681.2 230.3,681.5 231.0,681.9 231.7,682.2 232.4,682.6 233.1,682.9 233.8,683.3 234.5,683.7 235.1,684.1 235.8,684.5 236.5,684.9 237.2,685.3 237.9,685.8 238.6,686.2 239.3,686.6 240.0,687.0 240.7,687.4 241.3,687.8 242.0,688.2 242.7,688.6 243.4,689.0 244.1,689.3 244.8,689.7 245.5,690.0 246.2,690.4 246.9,690.7 247.5,691.0 248.2,691.3 248.9,691.6 249.6,691.9 250.3,692.2 251.0,692.5 251.7,692.7 252.4,692.9 253.1,693.2 253.7,693.4 254.4,693.6 255.1,693.8 255.8,693.9 256.5,694.1 257.2,694.3 257.9,694.4 258.6,694.5 259.3,694.7 260.0,694.8 260.6,694.9 261.3,695.0 262.0,695.1 262.7,695.2 263.4,695.3 264.1,695.3 264.8,695.4 265.5,695.5 266.2,695.5 266.8,695.6 267.5,695.6 268.2,695.6 268.9,695.7 269.6,695.7 270.3,695.7 271.0,695.8 271.7,695.8 272.4,695.8 273.0,695.8 273.7,695.9 274.4,695.9 275.1,695.9 275.8,695.9 276.5,695.9 277.2,695.9 277.9,695.9 278.6,695.9 279.2,696.0 279.9,696.0 280.6,696.0 281.3,696.0 282.0,696.0 282.7,696.0 283.4,696.0 284.1,696.0 284.8,696.0 285.4,696.0 286.1,696.0 286.8,696.0 287.5,696.0 288.2,696.0 288.9,696.0 289.6,696.0 290.3,696.0 291.0,696.0 291.6,696.0 292.3,696.0 293.0,696.0 293.7,696.0 294.4,696.0 295.1,696.0 295.8,696.0 296.5,696.0 297.2,696.0 297.8,696.0 298.5,696.0 299.2,696.0 299.9,696.0 300.6,696.0 300.6,696.0 25.7,696.0" fill="#fbc2f9" />
<polygon points="25.7,696.0 26.4,696.0 27.1,696.0 27.8,696.0 28.5,696.0 29.1,696.0 29.8,696.0 30.5,696.0 31.2,696.0 31.9,696.0 32.6,696.0 33.3,696.0 34.0,696.0 34.7,696.0 35.3,696.0 36.0,696.0 36.7,696.0 37.4,696.0 38.1,696.0 38.8,696.0 39.5,696.0 40.2,696.0 40.9,696.0 41.5,696.0 42.2,696.0 42.9,696.0 43.6,696.0 44.3,696.0 45.0,696.0 45.7,696.0 46.4,696.0 47.1,696.0 47.7,696.0 48.4,696.0 49.1,696.0 49.8,696.0 50.5,696.0 51.2,696.0 51.9,696.0 52.6,696.0 53.3,696.0 53.9,696.0 54.6,696.0 55.3,696.0 56.0,696.0 56.7,696.0 57.4,696.0 58.1,696.0 58.8,696.0 59.5,696.0 60.1,696.0 60.8,696.0 61.5,696.0 62.2,696.0 62.9,696.0 63.6,696.0 64.3,696.0 65.0,696.0 65.7,696.0 66.3,696.0 67.0,696.0 67.7,696.0 68.4,696.0 69.1,696.0 69.8,696.0 70.5,696.0 71.2,696.0 71.9,696.0 72.6,696.0 73.2,696.0 73.9,696.0 74.6,696.0 75.3,696.0 76.0,696.0 76.7,696.0 77.4,696.0 78.1,696.0 78.8,696.0 79.4,696.0 80.1,696.0 80.8,696.0 81.5,696.0 82.2,696.0 82.9,696.0 83.6,696.0 84.3,696.0 85.0,696.0 85.6,696.0 86.3,696.0 87.0,696.0 87.7,696.0 88.4,696.0 89.1,696.0 89.8,696.0 90.5,696.0 91.2,696.0 91.8,696.0 92.5,696.0 93.2,696.0 93.9,696.0 94.6,696.0 95.3,696.0 96.0,696.0 96.7,696.0 97.4,696.0 98.0,696.0 98.7,696.0 99.4,696.0 100.1,696.0 100.8,696.0 101.5,696.0 102.2,696.0 102.9,696.0 103.6,696.0 104.2,696.0 104.9,696.0 105.6,696.0 106.3,696.0 107.0,696.0 107.7,696.0 108.4,696.0 109.1,696.0 109.8,696.0 110.4,696.0 111.1,696.0 111.8,696.0 112.5,696.0 113.2,696.0 113.9,696.0 114.6,696.0 115.3,696.0 116.0,696.0 116.6,696.0 117.3,696.0 118.0,696.0 118.7,696.0 119.4,696.0 120.1,696.0 120.8,696.0 121.5,696.0 122.2,696.0 122.8,696.0 123.5,696.0 124.2,696.0 124.9,696.0 125.6,696.0 126.3,696.0 127.0,696.0 127.7,696.0 128.4,696.0 129.0,696.0 129.7,696.0 130.4,696.0 131.1,696.0 131.8,696.0 132.5,696.0 133.2,696.0 133.9,696.0 134.6,696.0 135.2,696.0 135.9,696.0 136.6,696.0 137.3,696.0 138.0,696.0 138.7,696.0 139.4,696.0 140.1,696.0 140.8,696.0 141.4,696.0 142.1,696.0 142.8,696.0 143.5,696.0 144.2,696.0 144.9,696.0 145.6,696.0 146.3,696.0 147.0,696.0 147.6,696.0 148.3,696.0 149.0,696.0 149.7,696.0 150.4,696.0 151.1,696.0 151.8,696.0 152.5,696.0 153.2,696.0 153.8,696.0 154.5,696.0 155.2,696.0 155.9,696.0 156.6,696.0 157.3,696.0 158.0,696.0 158.7,696.0 159.4,696.0 160.0,696.0 160.7,696.0 161.4,696.0 162.1,696.0 162.8,696.0 163.5,695.9 164.2,695.9 164.9,695.9 165.6,695.9 166.3,695.9 166.9,695.9 167.6,695.9 168.3,695.9 169.0,695.8 169.7,695.8 170.4,695.8 171.1,695.8 171.8,695.7 172.5,695.7 173.1,695.7 173.8,695.6 174.5,695.6 175.2,695.6 175.9,695.5 176.6,695.4 177.3,695.4 178.0,695.3 178.7,695.2 179.3,695.2 180.0,695.1 180.7,695.0 181.4,694.9 182.1,694.8 182.8,694.7 183.5,694.5 184.2,694.4 184.9,694.2 185.5,694.1 186.2,693.9 186.9,693.7 187.6,693.6 188.3,693.4 189.0,693.1 189.7,692.9 190.4,692.7 191.1,692.4 191.7,692.2 192.4,691.9 193.1,691.6 193.8,691.3 194.5,691.0 195.2,690.7 195.9,690.4 196.6,690.0 197.3,689.7 197.9,689.3 198.6,688.9 199.3,688.5 200.0,688.2 200.7,687.8 201.4,687.4 202.1,687.0 202.8,686.5 203.5,686.1 204.1,685.7 204.8,685.3 205.5,684.9 206.2,684.5 206.9,684.4 207.6,685.5 208.3,686.4 209.0,687.3 209.7,688.1 210.3,688.9 211.0,689.6 211.7,690.3 212.4,690.9 213.1,691.4 213.8,691.9 214.5,692.4 215.2,692.8 215.9,693.1 216.5,693.5 217.2,693.8 217.9,694.0 218.6,694.3 219.3,694.5 220.0,694.7 220.7,694.9 221.4,695.0 222.1,695.1 222.7,695.3 223.4,695.4 224.1,695.5 224.8,695.5 225.5,695.6 226.2,695.7 226.9,695.7 227.6,695.8 228.3,695.8 228.9,695.8 229.6,695.9 230.3,695.9 231.0,695.9 231.7,695.9 232.4,695.9 233.1,695.9 233.8,695.9 234.5,696.0 235.1,696.0 235.8,696.0 236.5,696.0 237.2,696.0 237.9,696.0 238.6,696.0 239.3,696.0 240.0,696.0 240.7,696.0 241.3,696.0 242.0,696.0 242.7,696.0 243.4,696.0 244.1,696.0 244.8,696.0 245.5,696.0 246.2,696.0 246.9,696.0 247.5,696.0 248.2,696.0 248.9,696.0 249.6,696.0 250.3,696.0 251.0,696.0 251.7,696.0 252.4,696.0 253.1,696.0 253.7,696.0 254.4,696.0 255.1,696.0 255.8,696.0 256.5,696.0 257.2,696.0 257.9,696.0 258.6,696.0 259.3,696.0 260.0,696.0 260.6,696.0 261.3,696.0 262.0,696.0 262.7,696.0 263.4,696.0 264.1,696.0 264.8,696.0 265.5,696.0 266.2,696.0 266.8,696.0 267.5,696.0 268.2,696.0 268.9,696.0 269.6,696.0 270.3,696.0 271.0,696.0 271.7,696.0 272.4,696.0 273.0,696.0 273.7,696.0 274.4,696.0 275.1,696.0 275.8,696.0 276.5,696.0 277.2,696.0 277.9,696.0 278.6,696.0 279.2,696.0 279.9,696.0 280.6,696.0 281.3,696.0 282.0,696.0 282.7,696.0 283.4,696.0 284.1,696.0 284.8,696.0 285.4,696.0 286.1,696.0 286.8,696.0 287.5,696.0 288.2,696.0 288.9,696.0 289.6,696.0 290.3,696.0 291.0,696.0 291.6,696.0 292.3,696.0 293.0,696.0 293.7,696.0 294.4,696.0 295.1,696.0 295.8,696.0 296.5,696.0 297.2,696.0 297.8,696.0 298.5,696.0 299.2,696.0 299.9,696.0 300.6,696.0 300.6,696.0 25.7,696.0" fill="#dcc2dc" />
<polygon points="25.7,696.0 26.4,696.0 27.1,696.0 27.8,696.0 28.5,696.0 29.1,696.0 29.8,696.0 30.5,696.0 31.2,696.0 31.9,696.0 32.6,696.0 33.3,696.0 34.0,696.0 34.7,696.0 35.3,696.0 36.0,696.0 36.7,696.0 37.4,696.0 38.1,696.0 38.8,696.0 39.5,696.0 40.2,696.0 40.9,696.0 41.5,696.0 42.2,696.0 42.9,696.0 43.6,696.0 44.3,696.0 45.0,696.0 45.7,696.0 46.4,696.0 47.1,696.0 47.7,696.0 48.4,696.0 49.1,696.0 49.8,696.0 50.5,696.0 51.2,696.0 51.9,696.0 52.6,696.0 53.3,696.0 53.9,696.0 54.6,696.0 55.3,696.0 56.0,696.0 56.7,696.0 57.4,696.0 58.1,696.0 58.8,696.0 59.5,696.0 60.1,696.0 60.8,696.0 61.5,696.0 62.2,696.0 62.9,696.0 63.6,696.0 64.3,696.0 65.0,696.0 65.7,696.0 66.3,696.0 67.0,696.0 67.7,696.0 68.4,696.0 69.1,696.0 69.8,696.0 70.5,696.0 71.2,696.0 71.9,696.0 72.6,696.0 73.2,696.0 73.9,696.0 74.6,696.0 75.3,696.0 76.0,696.0 76.7,696.0 77.4,696.0 78.1,696.0 78.8,696.0 79.4,696.0 80.1,696.0 80.8,696.0 81.5,696.0 82.2,696.0 82.9,696.0 83.6,696.0 84.3,696.0 85.0,696.0 85.6,696.0 86.3,696.0 87.0,696.0 87.7,696.0 88.4,696.0 89.1,696.0 89.8,696.0 90.5,696.0 91.2,696.0 91.8,696.0 92.5,696.0 93.2,696.0 93.9,696.0 94.6,696.0 95.3,696.0 96.0,696.0 96.7,696.0 97.4,696.0 98.0,696.0 98.7,696.0 99.4,696.0 100.1,696.0 100.8,696.0 101.5,696.0 102.2,696.0 102.9,696.0 103.6,696.0 104.2,696.0 104.9,696.0 105.6,696.0 106.3,696.0 107.0,696.0 107.7,696.0 108.4,696.0 109.1,696.0 109.8,696.0 110.4,696.0 111.1,696.0 111.8,696.0 112.5,696.0 113.2,696.0 113.9,696.0 114.6,696.0 115.3,696.0 116.0,696.0 116.6,696.0 117.3,696.0 118.0,696.0 118.7,696.0 119.4,696.0 120.1,696.0 120.8,696.0 121.5,696.0 122.2,696.0 122.8,696.0 123.5,696.0 124.2,696.0 124.9,696.0 125.6,696.0 126.3,696.0 127.0,696.0 127.7,696.0 128.4,696.0 129.0,696.0 129.7,696.0 130.4,696.0 131.1,696.0 131.8,696.0 132.5,696.0 133.2,696.0 133.9,696.0 134.6,696.0 135.2,696.0 135.9,696.0 136.6,696.0 137.3,696.0 138.0,696.0 138.7,696.0 139.4,696.0 140.1,696.0 140.8,696.0 141.4,696.0 142.1,696.0 142.8,696.0 143.5,696.0 144.2,696.0 144.9,696.0 145.6,696.0 146.3,696.0 147.0,696.0 147.6,696.0 148.3,696.0 149.0,696.0 149.7,696.0 150.4,696.0 151.1,696.0 151.8,696.0 152.5,696.0 153.2,696.0 153.8,696.0 154.5,696.0 155.2,696.0 155.9,696.0 156.6,696.0 157.3,696.0 158.0,696.0 158.7,696.0 159.4,696.0 160.0,696.0 160.7,696.0 161.4,696.0 162.1,696.0 162.8,696.0 163.5,696.0 164.2,696.0 164.9,696.0 165.6,696.0 166.3,696.0 166.9,696.0 167.6,696.0 168.3,696.0 169.0,696.0 169.7,696.0 170.4,696.0 171.1,696.0 171.8,696.0 172.5,696.0 173.1,696.0 173.8,696.0 174.5,696.0 175.2,696.0 175.9,696.0 176.6,696.0 177.3,696.0 178.0,696.0 178.7,696.0 179.3,696.0 180.0,696.0 180.7,696.0 181.4,696.0 182.1,696.0 182.8,696.0 183.5,696.0 184.2,696.0 184.9,696.0 185.5,696.0 186.2,696.0 186.9,696.0 187.6,696.0 188.3,696.0 189.0,696.0 189.7,696.0 190.4,696.0 191.1,696.0 191.7,696.0 192.4,696.0 193.1,696.0 193.8,696.0 194.5,696.0 195.2,696.0 195.9,696.0 196.6,696.0 197.3,696.0 197.9,696.0 198.6,696.0 199.3,696.0 200.0,696.0 200.7,696.0 201.4,696.0 202.1,696.0 202.8,696.0 203.5,696.0 204.1,696.0 204.8,696.0 205.5,696.0 206.2,696.0 206.9,696.0 207.6,696.0 208.3,696.0 209.0,696.0 209.7,696.0 210.3,696.0 211.0,696.0 211.7,696.0 212.4,696.0 213.1,696.0 213.8,696.0 214.5,696.0 215.2,696.0 215.9,696.0 216.5,696.0 217.2,696.0 217.9,696.0 218.6,696.0 219.3,696.0 220.0,696.0 220.7,696.0 221.4,696.0 222.1,696.0 222.7,696.0 223.4,696.0 224.1,696.0 224.8,696.0 225.5,696.0 226.2,696.0 226.9,696.0 227.6,696.0 228.3,696.0 228.9,696.0 229.6,696.0 230.3,696.0 231.0,696.0 231.7,696.0 232.4,696.0 233.1,696.0 233.8,696.0 234.5,696.0 235.1,696.0 235.8,696.0 236.5,696.0 237.2,696.0 237.9,696.0 238.6,696.0 239.3,696.0 240.0,696.0 240.7,696.0 241.3,696.0 242.0,696.0 242.7,696.0 243.4,696.0 244.1,696.0 244.8,696.0 245.5,696.0 246.2,696.0 246.9,696.0 247.5,696.0 248.2,696.0 248.9,696.0 249.6,696.0 250.3,696.0 251.0,696.0 251.7,696.0 252.4,696.0 253.1,696.0 253.7,696.0 254.4,696.0 255.1,696.0 255.8,696.0 256.5,696.0 257.2,696.0 257.9,696.0 258.6,696.0 259.3,696.0 260.0,696.0 260.6,696.0 261.3,696.0 262.0,696.0 262.7,696.0 263.4,696.0 264.1,696.0 264.8,696.0 265.5,696.0 266.2,696.0 266.8,696.0 267.5,696.0 268.2,696.0 268.9,696.0 269.6,696.0 270.3,696.0 271.0,696.0 271.7,696.0 272.4,696.0 273.0,696.0 273.7,696.0 274.4,696.0 275.1,696.0 275.8,696.0 276.5,696.0 277.2,696.0 277.9,696.0 278.6,696.0 279.2,696.0 279.9,696.0 280.6,696.0 281.3,696.0 282.0,696.0 282.7,696.0 283.4,696.0 284.1,696.0 284.8,696.0 285.4,696.0 286.1,696.0 286.8,696.0 287.5,696.0 288.2,696.0 288.9,696.0 289.6,696.0 290.3,696.0 291.0,696.0 291.6,696.0 292.3,696.0 293.0,696.0 293.7,696.0 294.4,696.0 295.1,696.0 295.8,696.0 296.5,696.0 297.2,696.0 297.8,696.0 298.5,696.0 299.2,696.0 299.9,696.0 300.6,696.0 300.6,696.0 25.7,696.0" fill="#c8d890" />
<line x1="25.7" y1="696.0" x2="300.6" y2="696.0" stroke="#f0a080" stroke-width="0.6"/>
<polyline points="25.7,696.0 29.1,696.0 32.6,696.0 36.0,696.0 39.5,696.0 42.9,696.0 46.3,696.0 49.8,696.0 53.2,696.0 56.7,696.0 60.1,696.0 63.5,696.0 67.0,696.0 70.4,696.0 73.9,696.0 77.3,696.0 80.7,696.0 84.2,696.0 87.6,696.0 91.1,696.0 94.5,696.0 97.9,696.0 101.4,696.0 104.8,696.0 108.3,696.0 111.7,696.0 115.1,696.0 118.6,696.0 122.0,696.0 125.5,695.9 128.9,695.8 132.3,695.5 135.8,695.0 139.2,694.2 142.7,692.8 146.1,690.6 149.5,687.4 153.0,682.8 156.4,676.9 159.9,669.5 163.3,661.2 166.7,652.3 170.2,643.8 173.6,636.5 177.1,631.4 180.5,629.1 183.9,630.1 187.4,634.4 190.8,641.2 194.3,649.1 197.7,656.9 201.1,663.6 204.6,668.7 208.0,672.2 211.5,674.2 214.9,675.4 218.3,676.1 221.8,677.0 225.2,678.1 228.7,679.6 232.1,681.6 235.5,683.7 239.0,686.0 242.4,688.1 245.9,690.0 249.3,691.7 252.7,693.0 256.2,694.0 259.6,694.7 263.1,695.2 266.5,695.5 269.9,695.7 273.4,695.9 276.8,695.9 280.3,696.0 283.7,696.0 287.1,696.0 290.6,696.0 294.0,696.0 297.5,696.0" fill="none" stroke="#333" stroke-width="0.8" stroke-linejoin="round" />
<circle cx="25.6" cy="588.5" r="2.25" fill="none" stroke="#f05a5a" stroke-width="1.0"/>
<circle cx="32.8" cy="581.1" r="2.25" fill="none" stroke="#f05a5a" stroke-width="1.0"/>
<circle cx="39.8" cy="575.5" r="2.25" fill="none" stroke="#f05a5a" stroke-width="1.0"/>
<circle cx="46.5" cy="579.5" r="2.25" fill="none" stroke="#f05a5a" stroke-width="1.0"/>
<circle cx="53.3" cy="590.1" r="2.25" fill="none" stroke="#f05a5a" stroke-width="1.0"/>
<circle cx="60.0" cy="586.2" r="2.25" fill="none" stroke="#f05a5a" stroke-width="1.0"/>
<circle cx="66.8" cy="592.3" r="2.25" fill="none" stroke="#f05a5a" stroke-width="1.0"/>
<circle cx="74.0" cy="589.4" r="2.25" fill="none" stroke="#f05a5a" stroke-width="1.0"/>
<circle cx="80.7" cy="582.2" r="2.25" fill="none" stroke="#f05a5a" stroke-width="1.0"/>
<circle cx="87.5" cy="575.9" r="2.25" fill="none" stroke="#f05a5a" stroke-width="1.0"/>
<circle cx="94.7" cy="581.1" r="2.25" fill="none" stroke="#f05a5a" stroke-width="1.0"/>
<circle cx="101.4" cy="568.7" r="2.25" fill="none" stroke="#f05a5a" stroke-width="1.0"/>
<circle cx="108.4" cy="579.5" r="2.25" fill="none" stroke="#f05a5a" stroke-width="1.0"/>
<circle cx="115.1" cy="565.3" r="2.25" fill="none" stroke="#f05a5a" stroke-width="1.0"/>
<circle cx="121.9" cy="586.2" r="2.25" fill="none" stroke="#f05a5a" stroke-width="1.0"/>
<circle cx="128.6" cy="577.0" r="2.25" fill="none" stroke="#f05a5a" stroke-width="1.0"/>
<circle cx="135.8" cy="584.0" r="2.25" fill="none" stroke="#f05a5a" stroke-width="1.0"/>
<circle cx="142.6" cy="563.1" r="2.25" fill="none" stroke="#f05a5a" stroke-width="1.0"/>
<circle cx="149.3" cy="565.8" r="2.25" fill="none" stroke="#f05a5a" stroke-width="1.0"/>
<circle cx="156.0" cy="557.5" r="2.25" fill="none" stroke="#f05a5a" stroke-width="1.0"/>
<circle cx="163.2" cy="553.4" r="2.25" fill="none" stroke="#f05a5a" stroke-width="1.0"/>
<circle cx="170.2" cy="513.9" r="2.25" fill="none" stroke="#f05a5a" stroke-width="1.0"/>
<circle cx="177.0" cy="516.7" r="2.25" fill="none" stroke="#f05a5a" stroke-width="1.0"/>
<circle cx="183.9" cy="499.8" r="2.25" fill="none" stroke="#f05a5a" stroke-width="1.0"/>
<circle cx="190.9" cy="522.6" r="2.25" fill="none" stroke="#f05a5a" stroke-width="1.0"/>
<circle cx="197.6" cy="520.4" r="2.25" fill="none" stroke="#f05a5a" stroke-width="1.0"/>
<circle cx="204.6" cy="517.8" r="2.25" fill="none" stroke="#f05a5a" stroke-width="1.0"/>
<circle cx="211.5" cy="536.1" r="2.25" fill="none" stroke="#f05a5a" stroke-width="1.0"/>
<circle cx="218.3" cy="527.4" r="2.25" fill="none" stroke="#f05a5a" stroke-width="1.0"/>
<circle cx="224.8" cy="554.6" r="2.25" fill="none" stroke="#f05a5a" stroke-width="1.0"/>
<circle cx="231.7" cy="544.8" r="2.25" fill="none" stroke="#f05a5a" stroke-width="1.0"/>
<circle cx="238.7" cy="572.0" r="2.25" fill="none" stroke="#f05a5a" stroke-width="1.0"/>
<circle cx="245.4" cy="577.0" r="2.25" fill="none" stroke="#f05a5a" stroke-width="1.0"/>
<circle cx="252.4" cy="588.9" r="2.25" fill="none" stroke="#f05a5a" stroke-width="1.0"/>
<circle cx="259.6" cy="590.4" r="2.25" fill="none" stroke="#f05a5a" stroke-width="1.0"/>
<circle cx="266.5" cy="597.6" r="2.25" fill="none" stroke="#f05a5a" stroke-width="1.0"/>
<circle cx="273.5" cy="591.5" r="2.25" fill="none" stroke="#f05a5a" stroke-width="1.0"/>
<circle cx="280.2" cy="606.3" r="2.25" fill="none" stroke="#f05a5a" stroke-width="1.0"/>
<circle cx="287.2" cy="596.1" r="2.25" fill="none" stroke="#f05a5a" stroke-width="1.0"/>
<circle cx="293.7" cy="598.0" r="2.25" fill="none" stroke="#f05a5a" stroke-width="1.0"/>
<circle cx="300.9" cy="593.9" r="2.25" fill="none" stroke="#f05a5a" stroke-width="1.0"/>
<circle cx="25.6" cy="702.3" r="2.25" fill="none" stroke="#f05a5a" stroke-width="1.0"/>
<circle cx="32.8" cy="693.8" r="2.25" fill="none" stroke="#f05a5a" stroke-width="1.0"/>
<circle cx="39.8" cy="690.6" r="2.25" fill="none" stroke="#f05a5a" stroke-width="1.0"/>
<circle cx="46.5" cy="699.6" r="2.25" fill="none" stroke="#f05a5a" stroke-width="1.0"/>
<circle cx="53.3" cy="700.0" r="2.25" fill="none" stroke="#f05a5a" stroke-width="1.0"/>
<circle cx="60.0" cy="690.6" r="2.25" fill="none" stroke="#f05a5a" stroke-width="1.0"/>
<circle cx="66.8" cy="686.6" r="2.25" fill="none" stroke="#f05a5a" stroke-width="1.0"/>
<circle cx="74.0" cy="697.1" r="2.25" fill="none" stroke="#f05a5a" stroke-width="1.0"/>
<circle cx="80.7" cy="704.6" r="2.25" fill="none" stroke="#f05a5a" stroke-width="1.0"/>
<circle cx="87.5" cy="689.5" r="2.25" fill="none" stroke="#f05a5a" stroke-width="1.0"/>
<circle cx="94.7" cy="696.7" r="2.25" fill="none" stroke="#f05a5a" stroke-width="1.0"/>
<circle cx="101.4" cy="687.2" r="2.25" fill="none" stroke="#f05a5a" stroke-width="1.0"/>
<circle cx="108.4" cy="700.0" r="2.25" fill="none" stroke="#f05a5a" stroke-width="1.0"/>
<circle cx="115.1" cy="691.5" r="2.25" fill="none" stroke="#f05a5a" stroke-width="1.0"/>
<circle cx="121.9" cy="691.7" r="2.25" fill="none" stroke="#f05a5a" stroke-width="1.0"/>
<circle cx="128.6" cy="689.5" r="2.25" fill="none" stroke="#f05a5a" stroke-width="1.0"/>
<circle cx="135.8" cy="696.2" r="2.25" fill="none" stroke="#f05a5a" stroke-width="1.0"/>
<circle cx="142.6" cy="697.1" r="2.25" fill="none" stroke="#f05a5a" stroke-width="1.0"/>
<circle cx="149.3" cy="697.1" r="2.25" fill="none" stroke="#f05a5a" stroke-width="1.0"/>
<circle cx="156.0" cy="685.0" r="2.25" fill="none" stroke="#f05a5a" stroke-width="1.0"/>
<circle cx="163.2" cy="668.6" r="2.25" fill="none" stroke="#f05a5a" stroke-width="1.0"/>
<circle cx="170.2" cy="645.7" r="2.25" fill="none" stroke="#f05a5a" stroke-width="1.0"/>
<circle cx="177.0" cy="637.0" r="2.25" fill="none" stroke="#f05a5a" stroke-width="1.0"/>
<circle cx="183.9" cy="613.5" r="2.25" fill="none" stroke="#f05a5a" stroke-width="1.0"/>
<circle cx="190.9" cy="642.4" r="2.25" fill="none" stroke="#f05a5a" stroke-width="1.0"/>
<circle cx="197.6" cy="650.0" r="2.25" fill="none" stroke="#f05a5a" stroke-width="1.0"/>
<circle cx="204.6" cy="680.0" r="2.25" fill="none" stroke="#f05a5a" stroke-width="1.0"/>
<circle cx="211.5" cy="666.7" r="2.25" fill="none" stroke="#f05a5a" stroke-width="1.0"/>
<circle cx="218.3" cy="678.9" r="2.25" fill="none" stroke="#f05a5a" stroke-width="1.0"/>
<circle cx="224.8" cy="676.5" r="2.25" fill="none" stroke="#f05a5a" stroke-width="1.0"/>
<circle cx="231.7" cy="684.8" r="2.25" fill="none" stroke="#f05a5a" stroke-width="1.0"/>
<circle cx="238.7" cy="685.4" r="2.25" fill="none" stroke="#f05a5a" stroke-width="1.0"/>
<circle cx="245.4" cy="688.0" r="2.25" fill="none" stroke="#f05a5a" stroke-width="1.0"/>
<circle cx="252.4" cy="695.0" r="2.25" fill="none" stroke="#f05a5a" stroke-width="1.0"/>
<circle cx="259.6" cy="694.6" r="2.25" fill="none" stroke="#f05a5a" stroke-width="1.0"/>
<circle cx="266.5" cy="684.8" r="2.25" fill="none" stroke="#f05a5a" stroke-width="1.0"/>
<circle cx="273.5" cy="690.9" r="2.25" fill="none" stroke="#f05a5a" stroke-width="1.0"/>
<circle cx="280.2" cy="691.7" r="2.25" fill="none" stroke="#f05a5a" stroke-width="1.0"/>
<circle cx="287.2" cy="688.0" r="2.25" fill="none" stroke="#f05a5a" stroke-width="1.0"/>
<circle cx="293.7" cy="696.1" r="2.25" fill="none" stroke="#f05a5a" stroke-width="1.0"/>
<circle cx="300.9" cy="696.1" r="2.25" fill="none" stroke="#f05a5a" stroke-width="1.0"/>
<rect x="25.7" y="481.6" width="274.9" height="221.7" stroke="#3a3a3a" stroke-width="1.1" fill="none"/>
<line x1="25.7" y1="703.3" x2="25.7" y2="707.5" stroke="#3a3a3a" stroke-width="1.0"/>
<line x1="42.9" y1="703.3" x2="42.9" y2="705.5" stroke="#3a3a3a" stroke-width="1.0"/>
<line x1="60.1" y1="703.3" x2="60.1" y2="707.5" stroke="#3a3a3a" stroke-width="1.0"/>
<line x1="77.3" y1="703.3" x2="77.3" y2="705.5" stroke="#3a3a3a" stroke-width="1.0"/>
<line x1="94.5" y1="703.3" x2="94.5" y2="707.5" stroke="#3a3a3a" stroke-width="1.0"/>
<line x1="111.6" y1="703.3" x2="111.6" y2="705.5" stroke="#3a3a3a" stroke-width="1.0"/>
<line x1="128.8" y1="703.3" x2="128.8" y2="707.5" stroke="#3a3a3a" stroke-width="1.0"/>
<line x1="146.0" y1="703.3" x2="146.0" y2="705.5" stroke="#3a3a3a" stroke-width="1.0"/>
<line x1="163.2" y1="703.3" x2="163.2" y2="707.5" stroke="#3a3a3a" stroke-width="1.0"/>
<line x1="180.4" y1="703.3" x2="180.4" y2="705.5" stroke="#3a3a3a" stroke-width="1.0"/>
<line x1="197.6" y1="703.3" x2="197.6" y2="707.5" stroke="#3a3a3a" stroke-width="1.0"/>
<line x1="214.8" y1="703.3" x2="214.8" y2="705.5" stroke="#3a3a3a" stroke-width="1.0"/>
<line x1="231.9" y1="703.3" x2="231.9" y2="707.5" stroke="#3a3a3a" stroke-width="1.0"/>
<line x1="249.1" y1="703.3" x2="249.1" y2="705.5" stroke="#3a3a3a" stroke-width="1.0"/>
<line x1="266.3" y1="703.3" x2="266.3" y2="707.5" stroke="#3a3a3a" stroke-width="1.0"/>
<line x1="283.5" y1="703.3" x2="283.5" y2="705.5" stroke="#3a3a3a" stroke-width="1.0"/>
<line x1="300.7" y1="703.3" x2="300.7" y2="707.5" stroke="#3a3a3a" stroke-width="1.0"/>
<text x="25.7" y="718.2" font-size="9.6" text-anchor="middle" fill="#141414" stroke="#141414" stroke-width="0.28" >402</text>
<text x="60.1" y="718.2" font-size="9.6" text-anchor="middle" fill="#141414" stroke="#141414" stroke-width="0.28" >401</text>
<text x="94.5" y="718.2" font-size="9.6" text-anchor="middle" fill="#141414" stroke="#141414" stroke-width="0.28" >400</text>
<text x="128.8" y="718.2" font-size="9.6" text-anchor="middle" fill="#141414" stroke="#141414" stroke-width="0.28" >399</text>
<text x="163.2" y="718.2" font-size="9.6" text-anchor="middle" fill="#141414" stroke="#141414" stroke-width="0.28" >398</text>
<text x="197.6" y="718.2" font-size="9.6" text-anchor="middle" fill="#141414" stroke="#141414" stroke-width="0.28" >397</text>
<text x="231.9" y="718.2" font-size="9.6" text-anchor="middle" fill="#141414" stroke="#141414" stroke-width="0.28" >396</text>
<text x="266.3" y="718.2" font-size="9.6" text-anchor="middle" fill="#141414" stroke="#141414" stroke-width="0.28" >395</text>
<text x="300.7" y="718.2" font-size="9.6" text-anchor="middle" fill="#141414" stroke="#141414" stroke-width="0.28" >394</text>
<text x="164.0" y="736.2" font-size="11.5" text-anchor="middle" fill="#141414" stroke="#141414" stroke-width="0.28" >Binding energy (eV)</text>
<text transform="translate(16.8,594.4) rotate(-90)" font-size="11.6" text-anchor="middle" fill="#141414" stroke="#141414" stroke-width="0.28">Normalized intensity</text>
<text x="267.6" y="506.1" font-size="12.0" fill="#141414" stroke="#141414" stroke-width="0.28" >N1s</text>
<text x="35.6" y="560.8" font-size="11.4" fill="#141414" stroke="#141414" stroke-width="0.28" >-irr</text>
<text x="35.2" y="671.4" font-size="11.4" fill="#141414" stroke="#141414" stroke-width="0.28" >-pristine</text>
<circle cx="39.6" cy="489.4" r="2.25" fill="none" stroke="#f05a5a" stroke-width="1.0"/>
<text x="51.1" y="492.3" font-size="8.4" fill="#141414" stroke="#141414" stroke-width="0.12" >Raw spectrum</text>
<line x1="30.5" y1="499.7" x2="48.7" y2="499.7" stroke="#333" stroke-width="0.9"/>
<text x="51.1" y="502.6" font-size="8.4" fill="#141414" stroke="#141414" stroke-width="0.12" >Fitted spectrum</text>
<rect x="30.5" y="505.4" width="18.2" height="9.2" fill="#fab0f8"/>
<text x="51.1" y="512.8" font-size="8.4" fill="#141414" stroke="#141414" stroke-width="0.12" >Ti(III)NxOy</text>
<rect x="30.5" y="515.8" width="18.2" height="9.2" fill="#92f8ae"/>
<text x="51.1" y="523.0" font-size="8.4" fill="#141414" stroke="#141414" stroke-width="0.12" >TiN</text>
<rect x="30.5" y="525.8" width="18.2" height="9.2" fill="#facd9f"/>
<text x="51.1" y="533.2" font-size="8.4" fill="#141414" stroke="#141414" stroke-width="0.12" >Ti(IV)OxNy</text>
<rect x="385.0" y="482.5" width="275.0" height="220.9" stroke="#3a3a3a" stroke-width="1.1" fill="none"/>
<line x1="381.4" y1="703.4" x2="385.0" y2="703.4" stroke="#3a3a3a" stroke-width="0.8"/>
<line x1="383.0" y1="691.1" x2="385.0" y2="691.1" stroke="#3a3a3a" stroke-width="0.8"/>
<line x1="381.4" y1="678.9" x2="385.0" y2="678.9" stroke="#3a3a3a" stroke-width="0.8"/>
<line x1="383.0" y1="666.6" x2="385.0" y2="666.6" stroke="#3a3a3a" stroke-width="0.8"/>
<line x1="381.4" y1="654.3" x2="385.0" y2="654.3" stroke="#3a3a3a" stroke-width="0.8"/>
<line x1="383.0" y1="642.0" x2="385.0" y2="642.0" stroke="#3a3a3a" stroke-width="0.8"/>
<line x1="381.4" y1="629.8" x2="385.0" y2="629.8" stroke="#3a3a3a" stroke-width="0.8"/>
<line x1="383.0" y1="617.5" x2="385.0" y2="617.5" stroke="#3a3a3a" stroke-width="0.8"/>
<line x1="381.4" y1="605.2" x2="385.0" y2="605.2" stroke="#3a3a3a" stroke-width="0.8"/>
<line x1="383.0" y1="593.0" x2="385.0" y2="593.0" stroke="#3a3a3a" stroke-width="0.8"/>
<line x1="381.4" y1="580.7" x2="385.0" y2="580.7" stroke="#3a3a3a" stroke-width="0.8"/>
<line x1="383.0" y1="568.4" x2="385.0" y2="568.4" stroke="#3a3a3a" stroke-width="0.8"/>
<line x1="381.4" y1="556.1" x2="385.0" y2="556.1" stroke="#3a3a3a" stroke-width="0.8"/>
<line x1="383.0" y1="543.9" x2="385.0" y2="543.9" stroke="#3a3a3a" stroke-width="0.8"/>
<line x1="381.4" y1="531.6" x2="385.0" y2="531.6" stroke="#3a3a3a" stroke-width="0.8"/>
<line x1="383.0" y1="519.3" x2="385.0" y2="519.3" stroke="#3a3a3a" stroke-width="0.8"/>
<line x1="381.4" y1="507.0" x2="385.0" y2="507.0" stroke="#3a3a3a" stroke-width="0.8"/>
<line x1="383.0" y1="494.8" x2="385.0" y2="494.8" stroke="#3a3a3a" stroke-width="0.8"/>
<line x1="381.4" y1="482.5" x2="385.0" y2="482.5" stroke="#3a3a3a" stroke-width="0.8"/>
<text x="377.6" y="706.9" font-size="9.8" text-anchor="end" fill="#141414" stroke="#141414" stroke-width="0.28" >10</text>
<text x="377.6" y="682.4" font-size="9.8" text-anchor="end" fill="#141414" stroke="#141414" stroke-width="0.28" >20</text>
<text x="377.6" y="657.8" font-size="9.8" text-anchor="end" fill="#141414" stroke="#141414" stroke-width="0.28" >30</text>
<text x="377.6" y="633.3" font-size="9.8" text-anchor="end" fill="#141414" stroke="#141414" stroke-width="0.28" >40</text>
<text x="377.6" y="608.7" font-size="9.8" text-anchor="end" fill="#141414" stroke="#141414" stroke-width="0.28" >50</text>
<text x="377.6" y="584.2" font-size="9.8" text-anchor="end" fill="#141414" stroke="#141414" stroke-width="0.28" >60</text>
<text x="377.6" y="559.6" font-size="9.8" text-anchor="end" fill="#141414" stroke="#141414" stroke-width="0.28" >70</text>
<text x="377.6" y="535.1" font-size="9.8" text-anchor="end" fill="#141414" stroke="#141414" stroke-width="0.28" >80</text>
<text x="377.6" y="510.5" font-size="9.8" text-anchor="end" fill="#141414" stroke="#141414" stroke-width="0.28" >90</text>
<text x="377.6" y="486.0" font-size="9.8" text-anchor="end" fill="#141414" stroke="#141414" stroke-width="0.28" >100</text>
<text transform="translate(351.6,588.7) rotate(-90)" font-size="10.9" text-anchor="middle" fill="#141414" stroke="#141414" stroke-width="0.28">Nitrogen species composition (%)</text>
<line x1="431.1" y1="703.4" x2="431.1" y2="707.6" stroke="#3a3a3a" stroke-width="1.0"/>
<text x="437.5" y="720.7" font-size="11.4" text-anchor="middle" fill="#141414" stroke="#141414" stroke-width="0.28" >TiN/NF</text>
<line x1="522.7" y1="703.4" x2="522.7" y2="707.6" stroke="#3a3a3a" stroke-width="1.0"/>
<text x="529.1" y="720.7" font-size="11.4" text-anchor="middle" fill="#141414" stroke="#141414" stroke-width="0.28" >TiN/PTFE</text>
<line x1="614.2" y1="703.4" x2="614.2" y2="707.6" stroke="#3a3a3a" stroke-width="1.0"/>
<text x="621.3" y="720.7" font-size="11.4" text-anchor="middle" fill="#141414" stroke="#141414" stroke-width="0.28" >TiN/PVA</text>
<path d="M418.5,533.5 C418.5,525 421,520.8 429,520.8 L470.5,520.8 C475.5,520.8 477.8,518 477.8,508.2 C477.8,518 480.1,520.8 485.1,520.8 L529,520.8 C535,520.8 537.1,525 537.1,532.5" fill="none" stroke="#555" stroke-width="0.8"/>
<text x="478.4" y="503.0" font-size="10.5" text-anchor="middle" fill="#141414" stroke="#141414" stroke-width="0.28" >F-containing</text>
<text x="612.9" y="504.6" font-size="10.5" text-anchor="middle" fill="#141414" stroke="#141414" stroke-width="0.28" >F-free</text>
<line x1="431.1" y1="541.6" x2="431.1" y2="590.3" stroke="#444" stroke-width="0.8"/>
<polygon points="429.3,589.4 432.9,589.4 431.1,594.8" fill="#111"/>
<line x1="431.1" y1="668.9" x2="431.1" y2="658.2" stroke="#444" stroke-width="0.8"/>
<polygon points="429.3,659.1 432.9,659.1 431.1,653.7" fill="#111"/>
<line x1="522.7" y1="558.0" x2="522.7" y2="569.4" stroke="#444" stroke-width="0.8"/>
<polygon points="520.9,568.5 524.5,568.5 522.7,573.9" fill="#111"/>
<line x1="522.7" y1="692.2" x2="522.7" y2="668.0" stroke="#444" stroke-width="0.8"/>
<polygon points="520.9,668.9 524.5,668.9 522.7,663.5" fill="#111"/>
<circle cx="431.1" cy="539.0" r="2.7" fill="#1010f0"/>
<circle cx="431.1" cy="597.4" r="2.7" fill="#f01010"/>
<circle cx="431.1" cy="651.1" r="2.3" fill="#fff" stroke="#f06060" stroke-width="0.85"/>
<circle cx="431.1" cy="671.5" r="2.3" fill="#fff" stroke="#7070f0" stroke-width="0.85"/>
<circle cx="522.7" cy="555.4" r="2.7" fill="#1010f0"/>
<circle cx="522.7" cy="576.5" r="2.7" fill="#f01010"/>
<circle cx="522.7" cy="660.9" r="2.3" fill="#fff" stroke="#f06060" stroke-width="0.85"/>
<circle cx="522.7" cy="694.8" r="2.3" fill="#fff" stroke="#7070f0" stroke-width="0.85"/>
<circle cx="614.2" cy="555.6" r="2.7" fill="#f01010"/>
<circle cx="614.2" cy="560.3" r="2.7" fill="#1010f0"/>
<circle cx="614.2" cy="678.9" r="2.3" fill="#fff" stroke="#f06060" stroke-width="0.85"/>
<circle cx="614.2" cy="685.0" r="2.3" fill="#fff" stroke="#7070f0" stroke-width="0.85"/>
<circle cx="549.0" cy="603.1" r="2.5" fill="#1010f0"/>
<circle cx="549.0" cy="613.4" r="2.5" fill="#f01010"/>
<circle cx="549.0" cy="624.0" r="2.2" fill="none" stroke="#7070f0" stroke-width="0.85"/>
<circle cx="549.0" cy="634.9" r="2.2" fill="none" stroke="#f06060" stroke-width="0.85"/>
<text x="560.6" y="606.0" font-size="8.35" fill="#141414" stroke="#141414" stroke-width="0.12" >TiN at.% (-<tspan font-style="italic">pristine</tspan>)</text>
<text x="560.6" y="616.3" font-size="8.35" fill="#141414" stroke="#141414" stroke-width="0.12" >TiN at.% (-irr)</text>
<text x="560.6" y="626.9" font-size="8.35" fill="#141414" stroke="#141414" stroke-width="0.12" >Ti(III)N<tspan font-size="5.5" dy="1.8">x</tspan><tspan dy="-1.8">O</tspan><tspan font-size="5.5" dy="1.8">y</tspan><tspan dy="-1.8"> at.% (-</tspan><tspan font-style="italic">pristine</tspan>)</text>
<text x="560.6" y="637.8" font-size="8.35" fill="#141414" stroke="#141414" stroke-width="0.12" >Ti(III)N<tspan font-size="5.5" dy="1.8">x</tspan><tspan dy="-1.8">O</tspan><tspan font-size="5.5" dy="1.8">y</tspan><tspan dy="-1.8"> at.% (-irr)</tspan></text>
</svg>
</body></html>
